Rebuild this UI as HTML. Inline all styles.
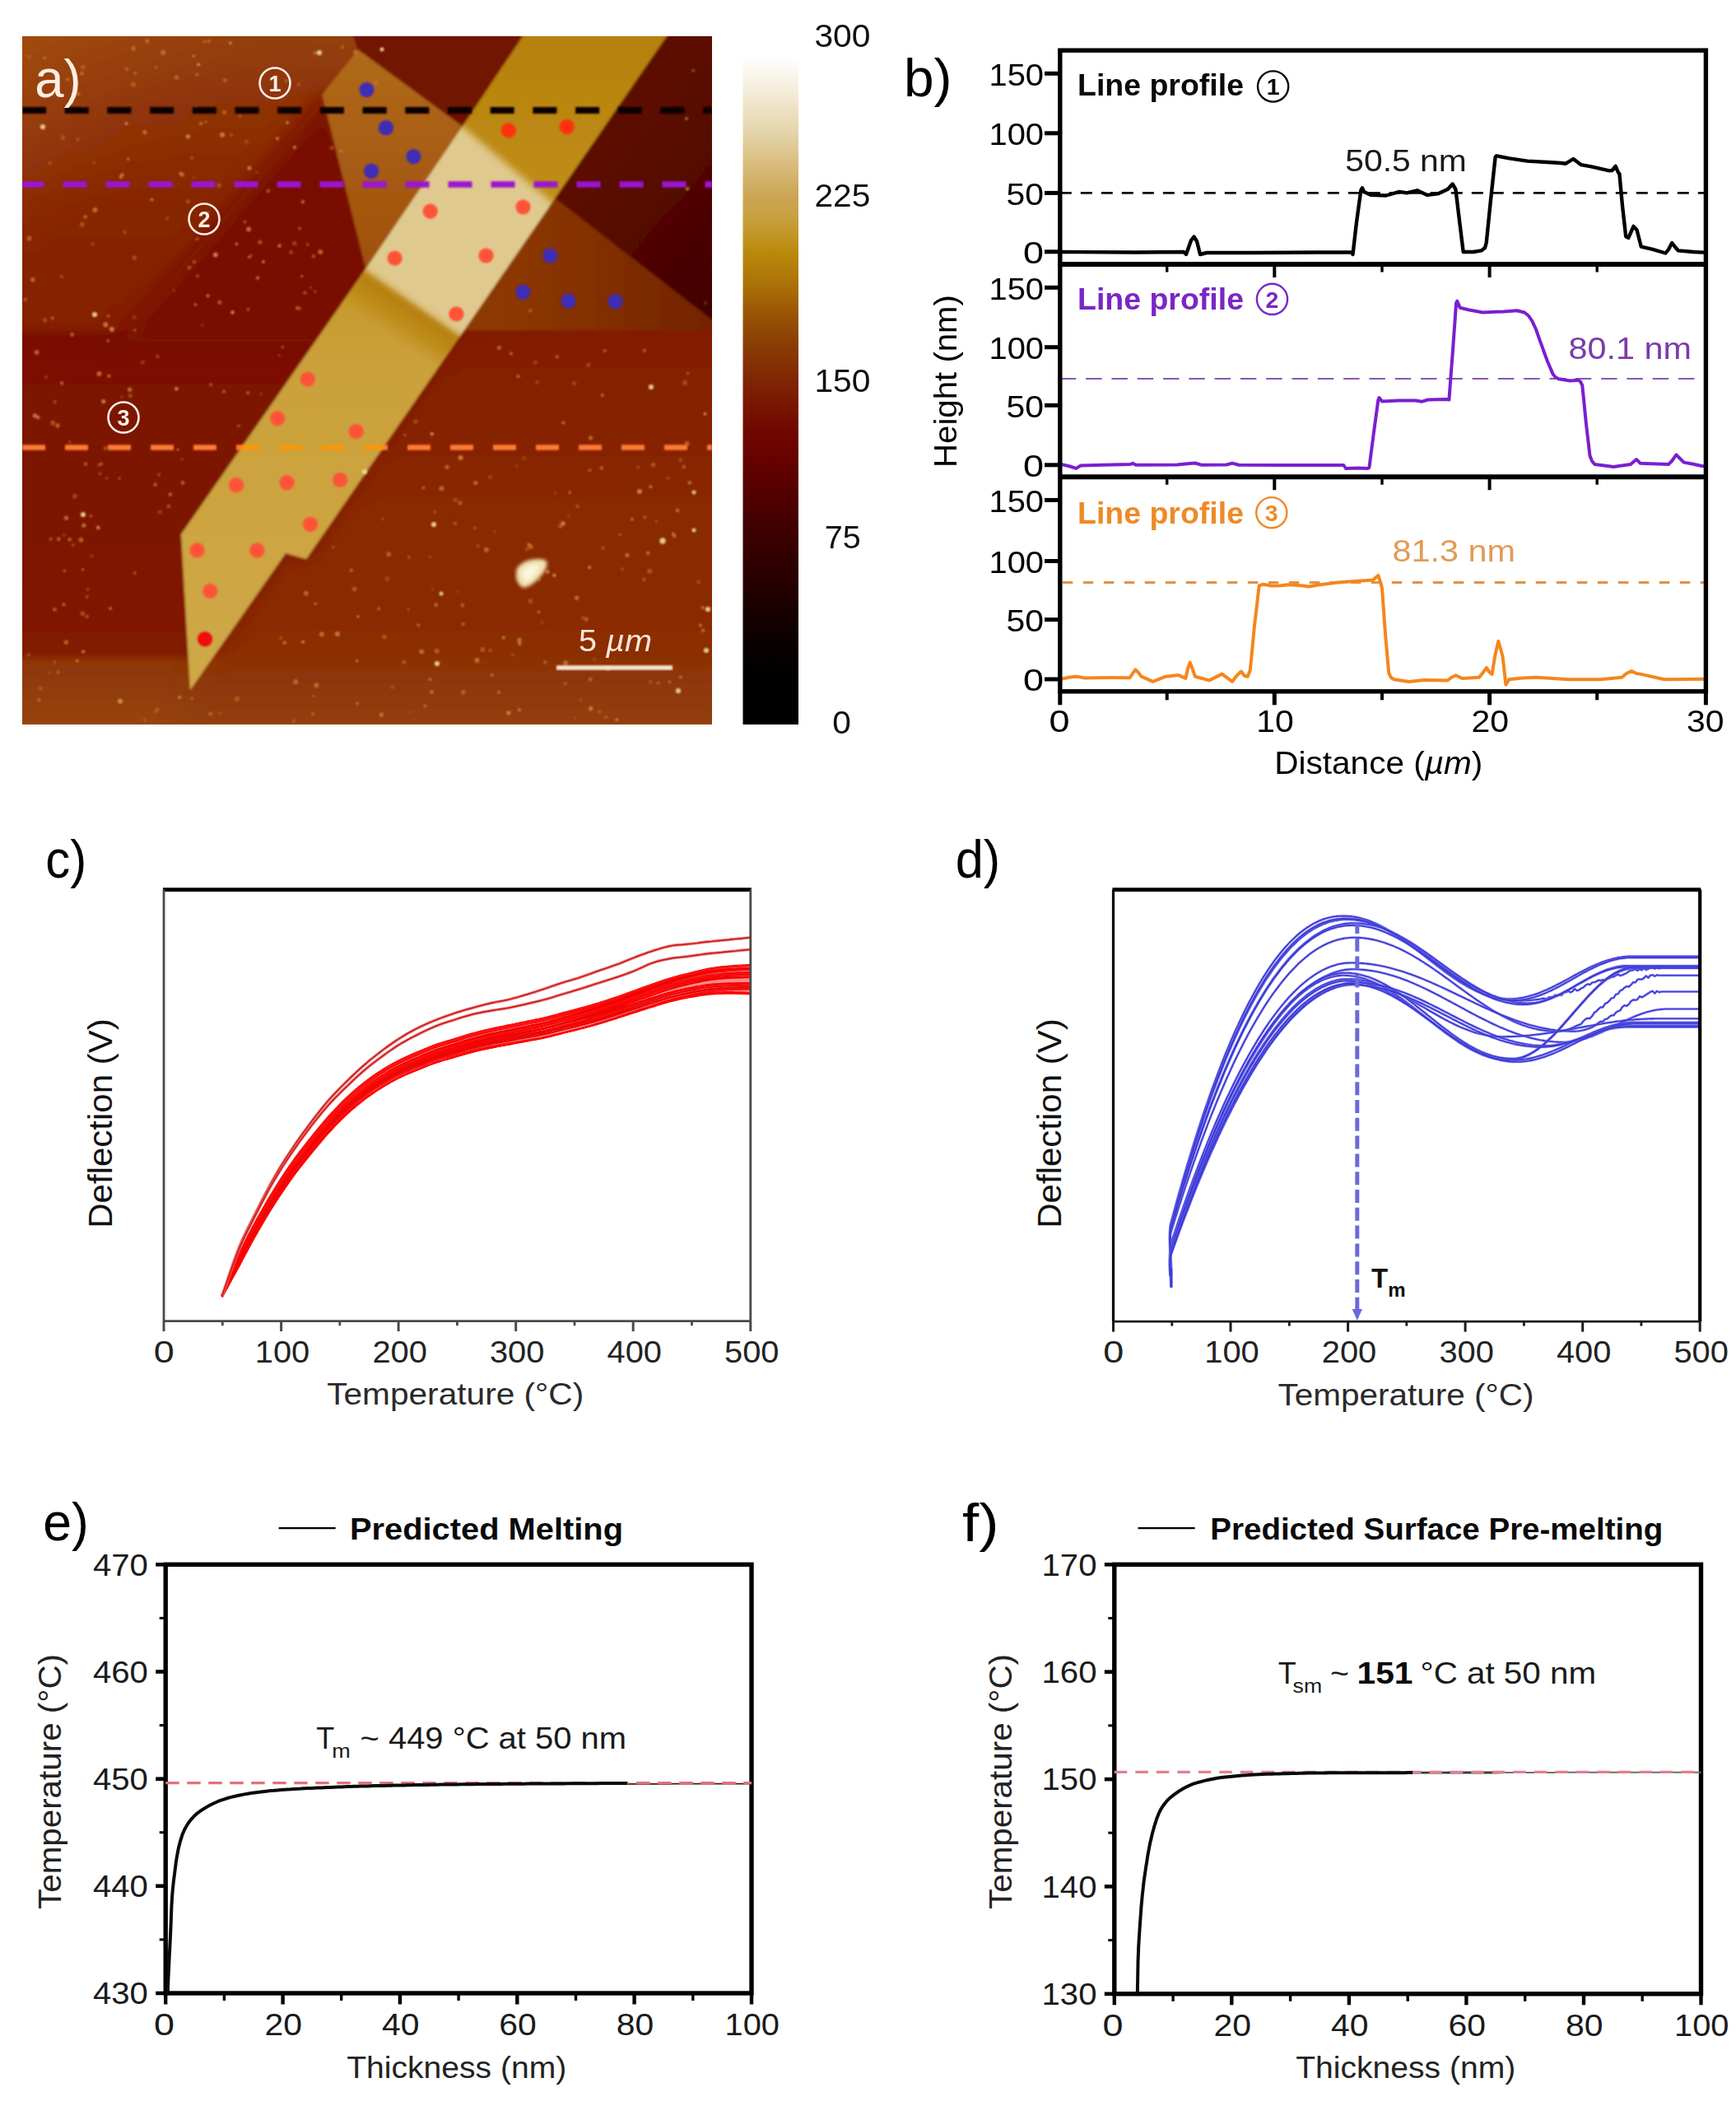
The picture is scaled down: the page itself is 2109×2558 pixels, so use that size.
<!DOCTYPE html>
<html lang="en"><head><meta charset="utf-8"><title>Figure</title>
<style>html,body{margin:0;padding:0;background:#fff}svg{display:block}</style></head>
<body>
<svg width="2109" height="2558" viewBox="0 0 2109 2558" font-family='"Liberation Sans", "DejaVu Sans", sans-serif'>
<rect x="0.0" y="0.0" width="2109.0" height="2558.0" fill="#fff"/>
<g>
<rect x="0.0" y="0.0" width="2109.0" height="2558.0" fill="#fff"/>
<defs>
<clipPath id="afmclip"><rect x="27" y="44" width="838" height="836"/></clipPath>
<filter id="blur2" x="-5%" y="-5%" width="110%" height="110%"><feGaussianBlur stdDeviation="1.6"/></filter>
<filter id="blur1"><feGaussianBlur stdDeviation="1.0"/></filter>
<filter id="blur3"><feGaussianBlur stdDeviation="2.2"/></filter>
<filter id="blurbig" x="-20%" y="-20%" width="140%" height="140%"><feGaussianBlur stdDeviation="30"/></filter>
<linearGradient id="bgv" gradientUnits="userSpaceOnUse" x1="0" y1="44.0" x2="0" y2="880.0"><stop offset="0.0000" stop-color="#94400c"/><stop offset="0.1029" stop-color="#8e3206"/><stop offset="0.2464" stop-color="#862602"/><stop offset="0.4234" stop-color="#841f00"/><stop offset="0.4354" stop-color="#7a1000"/><stop offset="0.6651" stop-color="#7c1400"/><stop offset="0.8947" stop-color="#801a00"/><stop offset="0.9091" stop-color="#8e3606"/><stop offset="1.0000" stop-color="#96440e"/></linearGradient>
<linearGradient id="bgr" gradientUnits="userSpaceOnUse" x1="0" y1="44.0" x2="0" y2="880.0"><stop offset="0.0000" stop-color="#821c00"/><stop offset="0.4270" stop-color="#841f00"/><stop offset="0.5933" stop-color="#872402"/><stop offset="0.6411" stop-color="#8a2a02"/><stop offset="0.9043" stop-color="#8c3006"/><stop offset="1.0000" stop-color="#92400c"/></linearGradient>
<filter id="blur12" filterUnits="userSpaceOnUse" x="0" y="0" width="900" height="920"><feGaussianBlur stdDeviation="12"/></filter>
<linearGradient id="ribg" x1="0" y1="0" x2="0" y2="1"><stop offset="0" stop-color="#b5800a"/><stop offset="0.25" stop-color="#c08e18"/><stop offset="0.5" stop-color="#cba03a"/><stop offset="1" stop-color="#cfa848"/></linearGradient>
<linearGradient id="thinL" x1="0" y1="0" x2="0" y2="1"><stop offset="0" stop-color="#b06a1a"/><stop offset="1" stop-color="#9a4608"/></linearGradient>
<linearGradient id="thinR" x1="0" y1="0" x2="1" y2="0"><stop offset="0" stop-color="#954406"/><stop offset="0.5" stop-color="#8a3602"/><stop offset="1" stop-color="#702000"/></linearGradient>
<linearGradient id="darkR" x1="0" y1="0" x2="1" y2="1"><stop offset="0" stop-color="#6a0c00"/><stop offset="0.6" stop-color="#560700"/><stop offset="1" stop-color="#3a0200"/></linearGradient>
<linearGradient id="cbar" x1="0" y1="0" x2="0" y2="1"><stop offset="0.0000" stop-color="#ffffff"/><stop offset="0.0263" stop-color="#ffffff"/><stop offset="0.0502" stop-color="#fbf8f0"/><stop offset="0.0957" stop-color="#f0e6cc"/><stop offset="0.1411" stop-color="#e4d4aa"/><stop offset="0.1866" stop-color="#d8bc7c"/><stop offset="0.2321" stop-color="#cba555"/><stop offset="0.2644" stop-color="#c8a040"/><stop offset="0.2943" stop-color="#c09420"/><stop offset="0.3165" stop-color="#b8880a"/><stop offset="0.3572" stop-color="#ac7408"/><stop offset="0.4014" stop-color="#9a5606"/><stop offset="0.4494" stop-color="#8a3c04"/><stop offset="0.5048" stop-color="#7e2404"/><stop offset="0.5417" stop-color="#781400"/><stop offset="0.5786" stop-color="#700600"/><stop offset="0.6156" stop-color="#640200"/><stop offset="0.6525" stop-color="#580000"/><stop offset="0.7261" stop-color="#3c0000"/><stop offset="0.8002" stop-color="#240000"/><stop offset="0.8739" stop-color="#0c0000"/><stop offset="0.9293" stop-color="#000000"/><stop offset="1.0000" stop-color="#000000"/></linearGradient>
<linearGradient id="diagTL" gradientUnits="userSpaceOnUse" x1="27" y1="44" x2="160" y2="230"><stop offset="0" stop-color="#a24c12" stop-opacity="0.9"/><stop offset="0.5" stop-color="#9a420c" stop-opacity="0.5"/><stop offset="1" stop-color="#8e3206" stop-opacity="0"/></linearGradient>
<radialGradient id="radBL" gradientUnits="userSpaceOnUse" cx="60" cy="900" r="330" gradientTransform="translate(60,900) scale(1,0.35) translate(-60,-900)"><stop offset="0" stop-color="#b0601c" stop-opacity="0.95"/><stop offset="0.6" stop-color="#a04a10" stop-opacity="0.5"/><stop offset="1" stop-color="#90380a" stop-opacity="0"/></radialGradient>
<radialGradient id="radBR" gradientUnits="userSpaceOnUse" cx="700" cy="760" r="330"><stop offset="0" stop-color="#8f3204" stop-opacity="0.6"/><stop offset="0.7" stop-color="#8f3204" stop-opacity="0.35"/><stop offset="1" stop-color="#8f3204" stop-opacity="0"/></radialGradient>
<linearGradient id="shad" gradientUnits="userSpaceOnUse" x1="500" y1="373" x2="474" y2="411"><stop offset="0" stop-color="#b47e0c" stop-opacity="0.95"/><stop offset="0.55" stop-color="#b8840e" stop-opacity="0.6"/><stop offset="1" stop-color="#c09020" stop-opacity="0"/></linearGradient>
</defs>
<g clip-path="url(#afmclip)">
<g filter="url(#blur2)">
<rect x="17.0" y="34.0" width="858.0" height="856.0" fill="url(#bgv)"/>
<rect x="17.0" y="34.0" width="858.0" height="856.0" fill="url(#diagTL)"/>
<g filter="url(#blur12)">
<polygon points="400.0,110.0 470.0,330.0 420.0,415.0 140.0,415.0 250.0,290.0" fill="#770d00" opacity="0.95"/>
<polygon points="560.0,395.0 900.0,395.0 900.0,900.0 215.0,900.0 229.0,838.0 347.0,672.0 372.0,679.0" fill="url(#bgr)" opacity="0.9"/>
</g>
<polygon points="561.8,153.8 640.0,36.0 900.0,36.0 900.0,415.0 864.7,389.0" fill="url(#darkR)" />
<polygon points="426.0,36.0 640.0,36.0 561.8,153.8 434.9,60.5" fill="#6e0e00" opacity="0.9"/>
<clipPath id="leftofrib"><polygon points="0,0 640,0 640,40 300,540 0,540"/></clipPath>
<polygon points="434.9,60.5 391.4,114.9 444.5,326.5 566.7,400.9 900.0,400.9 900.0,415.7 561.8,153.8" fill="url(#thinR)" />
<polygon points="434.9,60.5 391.4,114.9 444.5,326.5 566.7,400.9 900.0,400.9 900.0,415.7 561.8,153.8" fill="url(#thinL)" clip-path="url(#leftofrib)"/>
<polygon points="637.8,40.0 812.7,40.0 372.0,679.0 347.0,672.0 231.0,838.0 220.0,649.0 446.9,323.0 561.8,153.8" fill="url(#ribg)" />
<clipPath id="ribclip0"><polygon points="637.8,40 812.7,40 372,679 347,672 231,838 220,649 446.9,323 561.8,153.8"/></clipPath>
<polygon points="444.5,328.0 562.0,410.0 533.6,451.2 416.1,369.2" fill="url(#shad)" clip-path="url(#ribclip0)"/>
<filter id="blur5" filterUnits="userSpaceOnUse" x="380" y="100" width="360" height="380"><feGaussianBlur stdDeviation="4"/></filter>
<g clip-path="url(#ribclip0)"><g filter="url(#blur5)">
<polygon points="538.9,134.4 694.4,266.1 586.8,425.5 419.7,311.0" fill="#e0c98e" />
</g></g>
</g>
<g filter="url(#blur1)">
<circle cx="299.4" cy="172.2" r="2.6" fill="#d98a36" opacity="0.32"/>
<circle cx="334.3" cy="95.1" r="2.3" fill="#d98a36" opacity="0.40"/>
<circle cx="383.2" cy="733.3" r="1.7" fill="#d98a36" opacity="0.73"/>
<circle cx="842.2" cy="85.7" r="2.0" fill="#d98a36" opacity="0.49"/>
<circle cx="505.0" cy="512.0" r="2.6" fill="#dc9848" opacity="0.38"/>
<circle cx="82.2" cy="96.5" r="2.0" fill="#e3a860" opacity="0.52"/>
<circle cx="676.7" cy="433.4" r="2.3" fill="#dc9848" opacity="0.46"/>
<circle cx="690.9" cy="627.2" r="2.0" fill="#c87a2a" opacity="0.34"/>
<circle cx="467.0" cy="773.4" r="2.6" fill="#d98a36" opacity="0.50"/>
<circle cx="128.2" cy="394.0" r="3.0" fill="#e3a860" opacity="0.45"/>
<circle cx="380.9" cy="845.5" r="1.7" fill="#c87a2a" opacity="0.64"/>
<circle cx="313.0" cy="337.6" r="2.3" fill="#e3a860" opacity="0.56"/>
<circle cx="87.2" cy="124.7" r="2.0" fill="#d98a36" opacity="0.51"/>
<circle cx="80.5" cy="629.2" r="2.6" fill="#e3a860" opacity="0.56"/>
<circle cx="266.8" cy="367.2" r="2.6" fill="#e3a860" opacity="0.46"/>
<circle cx="644.3" cy="377.3" r="2.3" fill="#e3a860" opacity="0.34"/>
<circle cx="364.2" cy="277.6" r="2.0" fill="#c87a2a" opacity="0.67"/>
<circle cx="617.7" cy="865.8" r="2.6" fill="#dc9848" opacity="0.70"/>
<circle cx="155.6" cy="193.3" r="2.0" fill="#d98a36" opacity="0.60"/>
<circle cx="248.6" cy="50.4" r="2.3" fill="#c87a2a" opacity="0.54"/>
<circle cx="823.0" cy="620.1" r="2.3" fill="#d98a36" opacity="0.73"/>
<circle cx="409.9" cy="769.9" r="3.0" fill="#e3a860" opacity="0.61"/>
<circle cx="361.2" cy="374.1" r="2.3" fill="#d98a36" opacity="0.59"/>
<circle cx="188.6" cy="864.3" r="2.3" fill="#c87a2a" opacity="0.37"/>
<circle cx="476.5" cy="834.6" r="2.3" fill="#dc9848" opacity="0.31"/>
<circle cx="239.9" cy="335.3" r="2.0" fill="#d98a36" opacity="0.51"/>
<circle cx="736.3" cy="871.3" r="2.3" fill="#c87a2a" opacity="0.52"/>
<circle cx="101.5" cy="131.8" r="2.0" fill="#e3a860" opacity="0.63"/>
<circle cx="49.2" cy="836.3" r="2.3" fill="#d98a36" opacity="0.46"/>
<circle cx="105.7" cy="748.7" r="2.3" fill="#dc9848" opacity="0.47"/>
<circle cx="325.9" cy="231.9" r="2.3" fill="#c87a2a" opacity="0.65"/>
<circle cx="559.5" cy="556.0" r="3.0" fill="#dc9848" opacity="0.74"/>
<circle cx="700.7" cy="726.2" r="2.6" fill="#dc9848" opacity="0.66"/>
<circle cx="54.1" cy="70.2" r="2.0" fill="#dc9848" opacity="0.51"/>
<circle cx="606.2" cy="840.9" r="2.3" fill="#c87a2a" opacity="0.66"/>
<circle cx="218.7" cy="210.3" r="2.0" fill="#d98a36" opacity="0.52"/>
<circle cx="579.6" cy="802.1" r="3.0" fill="#dc9848" opacity="0.62"/>
<circle cx="817.7" cy="648.6" r="2.0" fill="#d98a36" opacity="0.75"/>
<circle cx="717.7" cy="860.7" r="2.6" fill="#dc9848" opacity="0.72"/>
<circle cx="837.8" cy="586.2" r="2.3" fill="#dc9848" opacity="0.64"/>
<circle cx="390.9" cy="770.5" r="3.0" fill="#d98a36" opacity="0.69"/>
<circle cx="239.5" cy="290.2" r="2.0" fill="#c87a2a" opacity="0.64"/>
<circle cx="245.8" cy="394.8" r="2.0" fill="#c87a2a" opacity="0.33"/>
<circle cx="776.9" cy="596.9" r="3.0" fill="#e3a860" opacity="0.71"/>
<circle cx="718.2" cy="775.9" r="2.0" fill="#d98a36" opacity="0.54"/>
<circle cx="756.2" cy="691.5" r="2.3" fill="#dc9848" opacity="0.30"/>
<circle cx="173.4" cy="440.0" r="2.6" fill="#d98a36" opacity="0.35"/>
<circle cx="301.2" cy="477.2" r="2.3" fill="#d98a36" opacity="0.52"/>
<circle cx="189.2" cy="82.0" r="1.7" fill="#d98a36" opacity="0.53"/>
<circle cx="662.3" cy="804.4" r="2.3" fill="#dc9848" opacity="0.45"/>
<circle cx="606.4" cy="422.4" r="2.3" fill="#dc9848" opacity="0.66"/>
<circle cx="611.7" cy="774.5" r="2.0" fill="#dc9848" opacity="0.72"/>
<circle cx="131.2" cy="414.0" r="1.7" fill="#e3a860" opacity="0.60"/>
<circle cx="90.8" cy="602.7" r="3.0" fill="#dc9848" opacity="0.36"/>
<circle cx="811.7" cy="581.1" r="2.0" fill="#dc9848" opacity="0.36"/>
<circle cx="835.0" cy="229.3" r="2.3" fill="#dc9848" opacity="0.70"/>
<circle cx="853.6" cy="737.9" r="2.0" fill="#e3a860" opacity="0.62"/>
<circle cx="312.1" cy="209.5" r="2.0" fill="#c87a2a" opacity="0.34"/>
<circle cx="46.2" cy="506.9" r="2.3" fill="#e3a860" opacity="0.62"/>
<circle cx="456.2" cy="100.4" r="3.0" fill="#d98a36" opacity="0.40"/>
<circle cx="99.9" cy="272.7" r="3.0" fill="#dc9848" opacity="0.38"/>
<circle cx="712.1" cy="752.2" r="2.6" fill="#c87a2a" opacity="0.67"/>
<circle cx="302.1" cy="278.6" r="3.0" fill="#e3a860" opacity="0.61"/>
<circle cx="103.7" cy="263.3" r="2.3" fill="#d98a36" opacity="0.69"/>
<circle cx="250.0" cy="148.0" r="1.7" fill="#e3a860" opacity="0.45"/>
<circle cx="164.3" cy="88.8" r="2.0" fill="#c87a2a" opacity="0.72"/>
<circle cx="698.7" cy="872.4" r="1.7" fill="#dc9848" opacity="0.31"/>
<circle cx="577.7" cy="586.6" r="2.6" fill="#e3a860" opacity="0.52"/>
<circle cx="221.0" cy="211.9" r="2.6" fill="#dc9848" opacity="0.63"/>
<circle cx="366.7" cy="335.5" r="1.7" fill="#d98a36" opacity="0.68"/>
<circle cx="88.8" cy="661.9" r="2.0" fill="#d98a36" opacity="0.49"/>
<circle cx="100.3" cy="745.3" r="3.0" fill="#c87a2a" opacity="0.53"/>
<circle cx="528.2" cy="621.9" r="1.7" fill="#dc9848" opacity="0.51"/>
<circle cx="253.8" cy="50.0" r="2.0" fill="#c87a2a" opacity="0.73"/>
<circle cx="233.4" cy="848.5" r="2.0" fill="#dc9848" opacity="0.40"/>
<circle cx="30.9" cy="363.8" r="2.3" fill="#dc9848" opacity="0.43"/>
<circle cx="105.6" cy="725.1" r="2.0" fill="#d98a36" opacity="0.48"/>
<circle cx="357.8" cy="295.7" r="2.6" fill="#dc9848" opacity="0.40"/>
<circle cx="577.1" cy="641.3" r="2.3" fill="#c87a2a" opacity="0.48"/>
<circle cx="629.6" cy="457.2" r="2.0" fill="#dc9848" opacity="0.63"/>
<circle cx="66.4" cy="740.3" r="2.3" fill="#dc9848" opacity="0.58"/>
<circle cx="787.0" cy="671.9" r="2.3" fill="#d98a36" opacity="0.68"/>
<circle cx="717.6" cy="531.8" r="2.6" fill="#dc9848" opacity="0.61"/>
<circle cx="100.8" cy="81.7" r="2.6" fill="#d98a36" opacity="0.46"/>
<circle cx="343.3" cy="421.7" r="1.7" fill="#dc9848" opacity="0.58"/>
<circle cx="652.6" cy="464.5" r="2.3" fill="#d98a36" opacity="0.34"/>
<circle cx="650.4" cy="440.3" r="3.0" fill="#c87a2a" opacity="0.33"/>
<circle cx="222.0" cy="586.4" r="2.3" fill="#e3a860" opacity="0.52"/>
<circle cx="93.8" cy="802.7" r="2.0" fill="#dc9848" opacity="0.65"/>
<circle cx="94.5" cy="169.4" r="2.0" fill="#c87a2a" opacity="0.59"/>
<circle cx="434.2" cy="854.2" r="1.7" fill="#e3a860" opacity="0.61"/>
<circle cx="272.0" cy="475.7" r="2.3" fill="#d98a36" opacity="0.51"/>
<circle cx="856.4" cy="502.7" r="2.0" fill="#e3a860" opacity="0.74"/>
<circle cx="44.6" cy="427.9" r="3.0" fill="#e3a860" opacity="0.53"/>
<circle cx="857.0" cy="368.1" r="2.0" fill="#d98a36" opacity="0.33"/>
<circle cx="147.9" cy="482.0" r="2.0" fill="#c87a2a" opacity="0.36"/>
<circle cx="767.9" cy="630.8" r="2.0" fill="#e3a860" opacity="0.52"/>
<circle cx="357.9" cy="179.0" r="2.3" fill="#e3a860" opacity="0.61"/>
<circle cx="281.2" cy="163.8" r="2.0" fill="#d98a36" opacity="0.47"/>
<circle cx="654.6" cy="743.5" r="1.7" fill="#dc9848" opacity="0.72"/>
<circle cx="623.2" cy="795.3" r="2.0" fill="#d98a36" opacity="0.41"/>
<circle cx="356.9" cy="876.0" r="2.3" fill="#e3a860" opacity="0.33"/>
<circle cx="658.7" cy="756.0" r="2.0" fill="#c87a2a" opacity="0.35"/>
<circle cx="673.3" cy="698.7" r="2.3" fill="#e3a860" opacity="0.70"/>
<circle cx="790.0" cy="827.8" r="2.3" fill="#d98a36" opacity="0.39"/>
<circle cx="71.2" cy="654.9" r="2.3" fill="#dc9848" opacity="0.58"/>
<circle cx="70.7" cy="816.2" r="2.0" fill="#e3a860" opacity="0.38"/>
<circle cx="315.9" cy="294.2" r="2.6" fill="#c87a2a" opacity="0.63"/>
<circle cx="368.0" cy="245.1" r="2.3" fill="#e3a860" opacity="0.55"/>
<circle cx="129.6" cy="580.9" r="1.7" fill="#e3a860" opacity="0.39"/>
<circle cx="233.1" cy="192.0" r="2.3" fill="#dc9848" opacity="0.34"/>
<circle cx="198.2" cy="63.7" r="3.0" fill="#e3a860" opacity="0.49"/>
<circle cx="470.3" cy="703.0" r="3.0" fill="#c87a2a" opacity="0.40"/>
<circle cx="389.3" cy="306.0" r="3.0" fill="#d98a36" opacity="0.69"/>
<circle cx="135.9" cy="399.9" r="3.0" fill="#e3a860" opacity="0.70"/>
<circle cx="835.6" cy="453.6" r="1.7" fill="#e3a860" opacity="0.48"/>
<circle cx="158.4" cy="480.6" r="2.6" fill="#e3a860" opacity="0.35"/>
<circle cx="100.7" cy="691.8" r="1.7" fill="#dc9848" opacity="0.65"/>
<circle cx="830.7" cy="567.0" r="2.3" fill="#d98a36" opacity="0.59"/>
<circle cx="112.7" cy="296.3" r="2.3" fill="#c87a2a" opacity="0.39"/>
<circle cx="216.0" cy="545.9" r="1.7" fill="#e3a860" opacity="0.54"/>
<circle cx="261.8" cy="309.6" r="3.0" fill="#e3a860" opacity="0.70"/>
<circle cx="54.4" cy="388.8" r="2.6" fill="#d98a36" opacity="0.44"/>
<circle cx="383.0" cy="354.3" r="2.3" fill="#c87a2a" opacity="0.32"/>
<circle cx="35.6" cy="289.5" r="3.0" fill="#dc9848" opacity="0.53"/>
<circle cx="191.4" cy="433.0" r="2.0" fill="#c87a2a" opacity="0.64"/>
<circle cx="120.7" cy="564.6" r="2.3" fill="#dc9848" opacity="0.38"/>
<circle cx="433.6" cy="802.6" r="1.7" fill="#dc9848" opacity="0.73"/>
<circle cx="291.4" cy="141.0" r="1.7" fill="#c87a2a" opacity="0.72"/>
<circle cx="188.6" cy="588.5" r="2.3" fill="#d98a36" opacity="0.64"/>
<circle cx="728.2" cy="864.5" r="2.3" fill="#d98a36" opacity="0.38"/>
<circle cx="95.1" cy="114.0" r="2.3" fill="#d98a36" opacity="0.73"/>
<circle cx="496.9" cy="676.8" r="2.3" fill="#c87a2a" opacity="0.46"/>
<circle cx="371.8" cy="720.8" r="3.0" fill="#e3a860" opacity="0.48"/>
<circle cx="59.0" cy="98.9" r="1.7" fill="#d98a36" opacity="0.42"/>
<circle cx="826.8" cy="559.1" r="2.0" fill="#c87a2a" opacity="0.64"/>
<circle cx="525.5" cy="715.7" r="1.7" fill="#dc9848" opacity="0.31"/>
<circle cx="119.2" cy="640.9" r="2.3" fill="#e3a860" opacity="0.73"/>
<circle cx="687.1" cy="805.2" r="3.0" fill="#e3a860" opacity="0.52"/>
<circle cx="644.4" cy="729.9" r="3.0" fill="#dc9848" opacity="0.37"/>
<circle cx="302.7" cy="312.2" r="2.0" fill="#d98a36" opacity="0.65"/>
<circle cx="163.1" cy="385.4" r="2.6" fill="#c87a2a" opacity="0.32"/>
<circle cx="163.7" cy="401.0" r="1.7" fill="#c87a2a" opacity="0.74"/>
<circle cx="380.3" cy="867.4" r="2.3" fill="#dc9848" opacity="0.38"/>
<circle cx="590.9" cy="667.8" r="3.0" fill="#d98a36" opacity="0.65"/>
<circle cx="252.7" cy="257.9" r="2.0" fill="#dc9848" opacity="0.39"/>
<circle cx="184.5" cy="242.5" r="2.0" fill="#dc9848" opacity="0.70"/>
<circle cx="301.5" cy="375.7" r="2.0" fill="#dc9848" opacity="0.53"/>
<circle cx="341.1" cy="774.8" r="2.0" fill="#dc9848" opacity="0.35"/>
<circle cx="529.6" cy="734.2" r="2.0" fill="#c87a2a" opacity="0.72"/>
<circle cx="674.8" cy="598.7" r="1.7" fill="#c87a2a" opacity="0.35"/>
<circle cx="211.1" cy="353.0" r="2.0" fill="#c87a2a" opacity="0.32"/>
<circle cx="61.8" cy="654.7" r="2.0" fill="#c87a2a" opacity="0.67"/>
<circle cx="370.3" cy="355.6" r="2.3" fill="#dc9848" opacity="0.44"/>
<circle cx="56.2" cy="458.4" r="2.3" fill="#d98a36" opacity="0.33"/>
<circle cx="692.1" cy="598.1" r="2.0" fill="#d98a36" opacity="0.59"/>
<circle cx="255.6" cy="867.2" r="2.6" fill="#d98a36" opacity="0.44"/>
<circle cx="289.9" cy="517.2" r="2.0" fill="#d98a36" opacity="0.49"/>
<circle cx="749.1" cy="874.2" r="2.0" fill="#e3a860" opacity="0.59"/>
<circle cx="34.9" cy="795.4" r="2.3" fill="#d98a36" opacity="0.35"/>
<circle cx="368.0" cy="779.8" r="2.3" fill="#dc9848" opacity="0.65"/>
<circle cx="42.3" cy="504.8" r="2.6" fill="#e3a860" opacity="0.66"/>
<circle cx="104.1" cy="563.4" r="2.0" fill="#dc9848" opacity="0.63"/>
<circle cx="151.4" cy="282.1" r="2.3" fill="#d98a36" opacity="0.38"/>
<circle cx="120.5" cy="454.1" r="3.0" fill="#dc9848" opacity="0.66"/>
<circle cx="66.2" cy="804.6" r="2.0" fill="#e3a860" opacity="0.32"/>
<circle cx="101.8" cy="638.2" r="2.6" fill="#dc9848" opacity="0.67"/>
<circle cx="562.7" cy="758.0" r="2.3" fill="#dc9848" opacity="0.48"/>
<circle cx="349.1" cy="149.1" r="2.0" fill="#dc9848" opacity="0.74"/>
<circle cx="64.2" cy="513.7" r="3.0" fill="#c87a2a" opacity="0.60"/>
<circle cx="128.0" cy="544.6" r="2.3" fill="#c87a2a" opacity="0.68"/>
<circle cx="237.4" cy="370.0" r="2.0" fill="#e3a860" opacity="0.50"/>
<circle cx="178.7" cy="49.9" r="2.3" fill="#e3a860" opacity="0.51"/>
<circle cx="665.3" cy="694.4" r="2.3" fill="#e3a860" opacity="0.68"/>
<circle cx="363.1" cy="102.7" r="2.0" fill="#d98a36" opacity="0.49"/>
<circle cx="697.5" cy="465.6" r="2.6" fill="#dc9848" opacity="0.32"/>
<circle cx="98.4" cy="655.8" r="3.0" fill="#d98a36" opacity="0.62"/>
<circle cx="75.1" cy="465.3" r="2.3" fill="#dc9848" opacity="0.59"/>
<circle cx="51.5" cy="102.1" r="2.3" fill="#d98a36" opacity="0.63"/>
<circle cx="191.2" cy="861.8" r="2.3" fill="#dc9848" opacity="0.43"/>
<circle cx="600.9" cy="645.5" r="2.0" fill="#c87a2a" opacity="0.33"/>
<circle cx="783.0" cy="425.8" r="2.0" fill="#e3a860" opacity="0.53"/>
<circle cx="203.3" cy="265.2" r="2.3" fill="#c87a2a" opacity="0.41"/>
<circle cx="60.6" cy="198.1" r="2.0" fill="#c87a2a" opacity="0.59"/>
<circle cx="595.5" cy="790.2" r="2.0" fill="#c87a2a" opacity="0.66"/>
<circle cx="125.7" cy="487.5" r="2.6" fill="#e3a860" opacity="0.69"/>
<circle cx="491.9" cy="528.4" r="1.7" fill="#e3a860" opacity="0.41"/>
<circle cx="337.0" cy="168.3" r="2.0" fill="#e3a860" opacity="0.64"/>
<circle cx="221.4" cy="557.8" r="1.7" fill="#c87a2a" opacity="0.43"/>
<circle cx="288.0" cy="848.7" r="3.0" fill="#c87a2a" opacity="0.56"/>
<circle cx="639.9" cy="667.1" r="2.0" fill="#e3a860" opacity="0.37"/>
<circle cx="377.5" cy="349.2" r="1.7" fill="#dc9848" opacity="0.36"/>
<circle cx="373.8" cy="297.0" r="2.0" fill="#e3a860" opacity="0.39"/>
<circle cx="162.0" cy="58.7" r="3.0" fill="#dc9848" opacity="0.41"/>
<circle cx="705.2" cy="849.7" r="1.7" fill="#c87a2a" opacity="0.59"/>
<circle cx="524.8" cy="527.1" r="2.3" fill="#e3a860" opacity="0.72"/>
<circle cx="66.6" cy="488.2" r="2.3" fill="#dc9848" opacity="0.38"/>
<circle cx="78.6" cy="693.5" r="1.7" fill="#dc9848" opacity="0.58"/>
<circle cx="148.4" cy="212.6" r="2.3" fill="#e3a860" opacity="0.59"/>
<circle cx="287.4" cy="296.2" r="1.7" fill="#e3a860" opacity="0.75"/>
<circle cx="732.6" cy="665.5" r="2.3" fill="#e3a860" opacity="0.34"/>
<circle cx="175.9" cy="874.2" r="2.0" fill="#d98a36" opacity="0.40"/>
<circle cx="799.7" cy="829.6" r="2.0" fill="#c87a2a" opacity="0.62"/>
<circle cx="559.0" cy="610.8" r="2.6" fill="#c87a2a" opacity="0.65"/>
<circle cx="738.8" cy="812.0" r="2.6" fill="#e3a860" opacity="0.68"/>
<circle cx="35.3" cy="69.0" r="2.6" fill="#c87a2a" opacity="0.41"/>
<circle cx="123.1" cy="563.2" r="2.0" fill="#dc9848" opacity="0.46"/>
<circle cx="145.2" cy="581.1" r="1.7" fill="#d98a36" opacity="0.61"/>
<circle cx="84.7" cy="537.1" r="2.0" fill="#d98a36" opacity="0.39"/>
<circle cx="761.9" cy="674.3" r="2.6" fill="#d98a36" opacity="0.72"/>
<circle cx="235.2" cy="215.6" r="1.7" fill="#d98a36" opacity="0.32"/>
<circle cx="716.5" cy="571.2" r="2.0" fill="#dc9848" opacity="0.51"/>
<circle cx="111.4" cy="675.6" r="2.0" fill="#c87a2a" opacity="0.43"/>
<circle cx="382.6" cy="64.4" r="2.0" fill="#d98a36" opacity="0.72"/>
<circle cx="832.0" cy="465.1" r="3.0" fill="#d98a36" opacity="0.43"/>
<circle cx="70.0" cy="516.9" r="2.6" fill="#d98a36" opacity="0.69"/>
<circle cx="74.9" cy="335.7" r="1.7" fill="#dc9848" opacity="0.52"/>
<circle cx="834.7" cy="538.8" r="3.0" fill="#dc9848" opacity="0.53"/>
<circle cx="266.1" cy="225.2" r="2.6" fill="#dc9848" opacity="0.40"/>
<circle cx="121.5" cy="575.3" r="1.7" fill="#d98a36" opacity="0.52"/>
<circle cx="363.9" cy="374.5" r="2.6" fill="#d98a36" opacity="0.34"/>
<circle cx="339.5" cy="298.6" r="2.3" fill="#dc9848" opacity="0.71"/>
<circle cx="345.6" cy="780.7" r="2.0" fill="#dc9848" opacity="0.72"/>
<circle cx="472.2" cy="673.2" r="3.0" fill="#d98a36" opacity="0.57"/>
<circle cx="319.9" cy="318.1" r="2.0" fill="#e3a860" opacity="0.69"/>
<circle cx="580.9" cy="662.8" r="2.0" fill="#c87a2a" opacity="0.51"/>
<circle cx="236.0" cy="318.0" r="2.3" fill="#dc9848" opacity="0.46"/>
<circle cx="303.0" cy="204.1" r="2.6" fill="#dc9848" opacity="0.75"/>
<circle cx="848.5" cy="706.8" r="2.6" fill="#c87a2a" opacity="0.43"/>
<circle cx="193.2" cy="576.5" r="1.7" fill="#e3a860" opacity="0.43"/>
<circle cx="416.0" cy="57.5" r="2.3" fill="#c87a2a" opacity="0.61"/>
<circle cx="630.9" cy="777.5" r="3.0" fill="#dc9848" opacity="0.59"/>
<circle cx="595.4" cy="579.5" r="2.3" fill="#c87a2a" opacity="0.49"/>
<circle cx="680.9" cy="638.9" r="2.6" fill="#e3a860" opacity="0.37"/>
<circle cx="431.6" cy="63.3" r="2.3" fill="#dc9848" opacity="0.60"/>
<circle cx="722.1" cy="800.8" r="1.7" fill="#dc9848" opacity="0.32"/>
<circle cx="163.8" cy="695.9" r="2.0" fill="#d98a36" opacity="0.53"/>
<circle cx="734.8" cy="426.1" r="2.0" fill="#d98a36" opacity="0.62"/>
<circle cx="561.9" cy="735.1" r="2.3" fill="#e3a860" opacity="0.45"/>
<circle cx="204.8" cy="615.0" r="2.3" fill="#d98a36" opacity="0.53"/>
<circle cx="636.6" cy="556.6" r="2.6" fill="#c87a2a" opacity="0.33"/>
<circle cx="347.7" cy="98.0" r="1.7" fill="#e3a860" opacity="0.49"/>
<circle cx="553.0" cy="607.2" r="2.3" fill="#dc9848" opacity="0.42"/>
<circle cx="282.5" cy="379.4" r="2.3" fill="#e3a860" opacity="0.74"/>
<circle cx="414.5" cy="183.6" r="1.7" fill="#dc9848" opacity="0.66"/>
<circle cx="218.0" cy="847.0" r="2.0" fill="#e3a860" opacity="0.60"/>
<circle cx="134.1" cy="739.0" r="2.0" fill="#dc9848" opacity="0.65"/>
<circle cx="252.5" cy="359.2" r="2.0" fill="#dc9848" opacity="0.74"/>
<circle cx="430.7" cy="715.5" r="3.0" fill="#dc9848" opacity="0.43"/>
<circle cx="101.1" cy="791.5" r="2.0" fill="#e3a860" opacity="0.72"/>
<circle cx="77.5" cy="734.2" r="2.0" fill="#dc9848" opacity="0.65"/>
<circle cx="514.6" cy="592.6" r="2.0" fill="#c87a2a" opacity="0.73"/>
<circle cx="238.0" cy="131.3" r="2.0" fill="#dc9848" opacity="0.68"/>
<circle cx="782.2" cy="704.1" r="2.0" fill="#d98a36" opacity="0.57"/>
<circle cx="586.2" cy="788.9" r="3.0" fill="#c87a2a" opacity="0.59"/>
<circle cx="194.2" cy="622.0" r="2.3" fill="#e3a860" opacity="0.34"/>
<circle cx="128.5" cy="394.8" r="3.0" fill="#e3a860" opacity="0.36"/>
<circle cx="783.3" cy="628.3" r="2.0" fill="#d98a36" opacity="0.52"/>
<circle cx="163.4" cy="313.2" r="2.6" fill="#c87a2a" opacity="0.55"/>
<circle cx="597.9" cy="820.1" r="2.0" fill="#d98a36" opacity="0.66"/>
<circle cx="627.5" cy="566.0" r="2.0" fill="#c87a2a" opacity="0.34"/>
<circle cx="491.0" cy="804.2" r="2.0" fill="#e3a860" opacity="0.50"/>
<circle cx="239.3" cy="90.8" r="2.0" fill="#e3a860" opacity="0.43"/>
<circle cx="256.1" cy="467.3" r="2.0" fill="#d98a36" opacity="0.59"/>
<circle cx="305.3" cy="310.2" r="2.0" fill="#d98a36" opacity="0.36"/>
<circle cx="631.3" cy="782.0" r="2.3" fill="#e3a860" opacity="0.56"/>
<circle cx="279.9" cy="52.2" r="2.0" fill="#e3a860" opacity="0.67"/>
<circle cx="536.4" cy="593.2" r="3.0" fill="#e3a860" opacity="0.53"/>
<circle cx="543.1" cy="567.3" r="2.6" fill="#d98a36" opacity="0.61"/>
<circle cx="206.8" cy="600.6" r="2.3" fill="#dc9848" opacity="0.58"/>
<circle cx="114.3" cy="197.5" r="1.7" fill="#d98a36" opacity="0.49"/>
<circle cx="790.5" cy="591.2" r="2.0" fill="#dc9848" opacity="0.69"/>
<circle cx="684.4" cy="513.5" r="2.0" fill="#dc9848" opacity="0.69"/>
<circle cx="380.9" cy="311.3" r="2.3" fill="#d98a36" opacity="0.55"/>
<circle cx="716.2" cy="689.2" r="2.3" fill="#e3a860" opacity="0.56"/>
<circle cx="522.5" cy="825.3" r="2.0" fill="#e3a860" opacity="0.51"/>
<circle cx="775.3" cy="567.3" r="2.3" fill="#d98a36" opacity="0.30"/>
<circle cx="850.9" cy="759.5" r="2.0" fill="#dc9848" opacity="0.69"/>
<circle cx="405.0" cy="664.7" r="1.7" fill="#dc9848" opacity="0.46"/>
<circle cx="553.0" cy="635.7" r="2.3" fill="#c87a2a" opacity="0.60"/>
<circle cx="80.4" cy="780.2" r="2.6" fill="#d98a36" opacity="0.67"/>
<circle cx="353.6" cy="306.4" r="2.3" fill="#e3a860" opacity="0.37"/>
<circle cx="819.4" cy="651.0" r="2.3" fill="#dc9848" opacity="0.60"/>
<circle cx="834.0" cy="143.9" r="2.0" fill="#e3a860" opacity="0.58"/>
<circle cx="426.8" cy="692.8" r="2.3" fill="#c87a2a" opacity="0.73"/>
<circle cx="273.3" cy="97.3" r="2.6" fill="#c87a2a" opacity="0.62"/>
<circle cx="753.5" cy="649.3" r="1.7" fill="#c87a2a" opacity="0.67"/>
<circle cx="516.4" cy="857.4" r="2.0" fill="#e3a860" opacity="0.47"/>
<circle cx="530.7" cy="790.8" r="3.0" fill="#d98a36" opacity="0.50"/>
<circle cx="297.5" cy="269.5" r="2.0" fill="#d98a36" opacity="0.56"/>
<circle cx="270.0" cy="163.8" r="3.0" fill="#dc9848" opacity="0.75"/>
<circle cx="701.5" cy="615.3" r="2.3" fill="#d98a36" opacity="0.46"/>
<circle cx="630.9" cy="862.3" r="2.0" fill="#e3a860" opacity="0.57"/>
<circle cx="654.9" cy="704.1" r="2.3" fill="#c87a2a" opacity="0.54"/>
<circle cx="512.2" cy="791.5" r="3.0" fill="#e3a860" opacity="0.53"/>
<circle cx="106.7" cy="715.9" r="2.0" fill="#c87a2a" opacity="0.46"/>
<circle cx="154.0" cy="84.0" r="2.3" fill="#d98a36" opacity="0.47"/>
<circle cx="339.2" cy="431.7" r="1.7" fill="#d98a36" opacity="0.37"/>
<circle cx="317.0" cy="478.1" r="1.7" fill="#dc9848" opacity="0.34"/>
<circle cx="854.0" cy="765.8" r="2.3" fill="#dc9848" opacity="0.56"/>
<circle cx="384.4" cy="832.6" r="3.0" fill="#dc9848" opacity="0.57"/>
<circle cx="241.3" cy="78.4" r="2.0" fill="#e3a860" opacity="0.75"/>
<circle cx="99.6" cy="89.3" r="2.3" fill="#e3a860" opacity="0.47"/>
<circle cx="435.0" cy="748.9" r="1.7" fill="#e3a860" opacity="0.69"/>
<circle cx="797.2" cy="633.3" r="1.7" fill="#dc9848" opacity="0.42"/>
<circle cx="563.0" cy="840.8" r="2.6" fill="#dc9848" opacity="0.53"/>
<circle cx="403.0" cy="179.6" r="2.6" fill="#d98a36" opacity="0.40"/>
<circle cx="813.5" cy="828.2" r="1.7" fill="#d98a36" opacity="0.71"/>
<circle cx="684.3" cy="636.0" r="2.6" fill="#e3a860" opacity="0.64"/>
<circle cx="76.4" cy="167.2" r="3.0" fill="#dc9848" opacity="0.30"/>
<circle cx="522.1" cy="676.1" r="1.7" fill="#c87a2a" opacity="0.51"/>
<circle cx="243.8" cy="150.0" r="2.3" fill="#e3a860" opacity="0.47"/>
<circle cx="228.4" cy="165.8" r="2.6" fill="#e3a860" opacity="0.70"/>
<circle cx="60.0" cy="817.0" r="2.0" fill="#c87a2a" opacity="0.34"/>
<circle cx="730.8" cy="568.5" r="2.3" fill="#c87a2a" opacity="0.74"/>
<circle cx="714.8" cy="443.4" r="2.6" fill="#c87a2a" opacity="0.46"/>
<circle cx="214.4" cy="94.1" r="2.6" fill="#dc9848" opacity="0.50"/>
<circle cx="235.3" cy="68.1" r="2.3" fill="#c87a2a" opacity="0.68"/>
<circle cx="157.6" cy="473.2" r="2.6" fill="#dc9848" opacity="0.70"/>
<circle cx="495.9" cy="740.3" r="1.7" fill="#dc9848" opacity="0.42"/>
<circle cx="228.6" cy="244.7" r="2.3" fill="#dc9848" opacity="0.43"/>
<circle cx="77.8" cy="650.0" r="2.0" fill="#d98a36" opacity="0.36"/>
<circle cx="686.9" cy="830.2" r="2.0" fill="#e3a860" opacity="0.38"/>
<circle cx="63.7" cy="386.4" r="2.0" fill="#dc9848" opacity="0.56"/>
<circle cx="731.7" cy="480.0" r="2.0" fill="#dc9848" opacity="0.62"/>
<circle cx="529.7" cy="735.0" r="2.3" fill="#c87a2a" opacity="0.63"/>
<circle cx="175.9" cy="160.7" r="2.6" fill="#dc9848" opacity="0.62"/>
<circle cx="84.7" cy="655.2" r="2.3" fill="#d98a36" opacity="0.68"/>
<circle cx="498.5" cy="865.1" r="1.7" fill="#c87a2a" opacity="0.37"/>
<circle cx="508.3" cy="759.2" r="2.0" fill="#e3a860" opacity="0.53"/>
<circle cx="789.2" cy="693.7" r="3.0" fill="#d98a36" opacity="0.47"/>
<circle cx="272.6" cy="136.4" r="2.6" fill="#d98a36" opacity="0.52"/>
<circle cx="47.2" cy="850.0" r="2.0" fill="#dc9848" opacity="0.58"/>
<circle cx="115.4" cy="254.9" r="3.0" fill="#d98a36" opacity="0.73"/>
<circle cx="110.3" cy="627.1" r="2.0" fill="#e3a860" opacity="0.42"/>
<circle cx="465.1" cy="630.2" r="1.7" fill="#d98a36" opacity="0.46"/>
<circle cx="132.4" cy="456.7" r="2.3" fill="#d98a36" opacity="0.64"/>
<circle cx="131.5" cy="383.7" r="2.0" fill="#dc9848" opacity="0.54"/>
<circle cx="717.2" cy="825.2" r="2.3" fill="#d98a36" opacity="0.61"/>
<circle cx="359.2" cy="828.3" r="3.0" fill="#e3a860" opacity="0.46"/>
<circle cx="230.0" cy="325.1" r="2.3" fill="#c87a2a" opacity="0.68"/>
<circle cx="708.1" cy="750.5" r="1.7" fill="#dc9848" opacity="0.45"/>
<circle cx="826.9" cy="822.5" r="2.0" fill="#d98a36" opacity="0.69"/>
<circle cx="87.6" cy="406.4" r="2.3" fill="#dc9848" opacity="0.60"/>
<circle cx="146.0" cy="851.8" r="3.0" fill="#e3a860" opacity="0.75"/>
<circle cx="556.8" cy="718.7" r="1.7" fill="#c87a2a" opacity="0.32"/>
<circle cx="793.7" cy="564.5" r="2.6" fill="#d98a36" opacity="0.54"/>
<circle cx="524.4" cy="840.6" r="2.3" fill="#d98a36" opacity="0.71"/>
<circle cx="153.5" cy="149.9" r="2.0" fill="#e3a860" opacity="0.70"/>
<circle cx="642.3" cy="661.5" r="2.0" fill="#dc9848" opacity="0.68"/>
<circle cx="621.0" cy="429.5" r="2.3" fill="#e3a860" opacity="0.44"/>
<circle cx="214.4" cy="472.3" r="2.3" fill="#e3a860" opacity="0.74"/>
<circle cx="39.9" cy="339.7" r="3.0" fill="#c87a2a" opacity="0.73"/>
<circle cx="267.0" cy="866.6" r="2.0" fill="#d98a36" opacity="0.33"/>
<circle cx="161.9" cy="102.4" r="3.0" fill="#d98a36" opacity="0.46"/>
<circle cx="460.1" cy="739.5" r="2.0" fill="#d98a36" opacity="0.63"/>
<circle cx="463.4" cy="868.1" r="2.6" fill="#dc9848" opacity="0.63"/>
<circle cx="146.8" cy="215.1" r="2.3" fill="#d98a36" opacity="0.68"/>
<circle cx="644.7" cy="663.9" r="3.0" fill="#c87a2a" opacity="0.75"/>
<circle cx="683.1" cy="635.1" r="2.6" fill="#d98a36" opacity="0.36"/>
<circle cx="443.0" cy="573.0" r="3.1" fill="#f0d9a0" opacity="0.9"/>
<circle cx="805.0" cy="657.0" r="3.7" fill="#f0d9a0" opacity="0.9"/>
<circle cx="860.0" cy="740.0" r="3.1" fill="#f0d9a0" opacity="0.9"/>
<circle cx="858.0" cy="790.0" r="3.1" fill="#f0d9a0" opacity="0.9"/>
<circle cx="531.0" cy="806.0" r="3.1" fill="#f0d9a0" opacity="0.9"/>
<circle cx="824.0" cy="839.0" r="3.1" fill="#f0d9a0" opacity="0.9"/>
<circle cx="101.0" cy="625.0" r="3.1" fill="#f0d9a0" opacity="0.9"/>
<circle cx="52.0" cy="154.0" r="3.1" fill="#f0d9a0" opacity="0.9"/>
<circle cx="115.0" cy="382.0" r="3.1" fill="#f0d9a0" opacity="0.9"/>
<circle cx="388.0" cy="64.0" r="3.1" fill="#f0d9a0" opacity="0.9"/>
<circle cx="791.0" cy="470.0" r="3.1" fill="#f0d9a0" opacity="0.9"/>
<circle cx="527.0" cy="637.0" r="3.1" fill="#f0d9a0" opacity="0.9"/>
<circle cx="536.0" cy="721.0" r="2.5" fill="#f0d9a0" opacity="0.9"/>
<circle cx="464.0" cy="60.0" r="2.5" fill="#f0d9a0" opacity="0.9"/>
<circle cx="843.0" cy="598.0" r="2.5" fill="#f0d9a0" opacity="0.9"/>
<circle cx="843.0" cy="644.0" r="2.5" fill="#f0d9a0" opacity="0.9"/>
</g>
<g filter="url(#blur3)">
<path d="M628,690 Q640,676 662,680 Q668,684 660,696 Q648,712 636,714 Q624,708 628,690Z" fill="#efe2b4"/>
<path d="M634,694 Q644,684 656,686 Q650,700 640,706 Q634,704 634,694Z" fill="#fbf6dc"/>
</g>
<g filter="url(#blur1)">
<line x1="27.0" y1="134.0" x2="865.0" y2="134.0" stroke="#0a0402" stroke-width="8" stroke-dasharray="29 22.7"/>
<line x1="24.5" y1="224.0" x2="865.0" y2="224.0" stroke="#9a16d0" stroke-width="7.6" stroke-dasharray="29 23"/>
<line x1="27.0" y1="543.5" x2="865.0" y2="543.5" stroke="#ff7a35" stroke-width="6.5" stroke-dasharray="28 24"/>
<clipPath id="ribclip"><polygon points="637.8,40 812.7,40 372,679 347,672 231,838 220,649 446.9,323 561.8,153.8"/></clipPath>
<line x1="27.0" y1="543.5" x2="865.0" y2="543.5" stroke="#f59a10" stroke-width="6.5" stroke-dasharray="28 24" clip-path="url(#ribclip)"/>
<circle cx="445.4" cy="109.0" r="9.1" fill="#3d2db5"/>
<circle cx="468.9" cy="155.2" r="9.1" fill="#3d2db5"/>
<circle cx="502.4" cy="190.1" r="9.1" fill="#3d2db5"/>
<circle cx="451.1" cy="207.8" r="9.1" fill="#3d2db5"/>
<circle cx="668.4" cy="310.5" r="9.1" fill="#3d2db5"/>
<circle cx="635.5" cy="354.8" r="9.1" fill="#3d2db5"/>
<circle cx="690.6" cy="365.6" r="9.1" fill="#3d2db5"/>
<circle cx="747.6" cy="366.2" r="9.1" fill="#3d2db5"/>
<circle cx="617.8" cy="158.4" r="9.1" fill="#ff3010"/>
<circle cx="688.7" cy="154.0" r="9.1" fill="#ff3010"/>
<circle cx="522.7" cy="256.6" r="9.1" fill="#ff5238"/>
<circle cx="635.5" cy="251.5" r="9.1" fill="#ff5238"/>
<circle cx="479.6" cy="313.6" r="9.1" fill="#ff5238"/>
<circle cx="590.5" cy="310.5" r="9.1" fill="#ff5238"/>
<circle cx="554.4" cy="381.4" r="9.1" fill="#ff5238"/>
<circle cx="373.8" cy="460.6" r="9.1" fill="#ff5238"/>
<circle cx="337.1" cy="508.1" r="9.1" fill="#ff5238"/>
<circle cx="432.7" cy="524.0" r="9.1" fill="#ff5238"/>
<circle cx="287.0" cy="589.2" r="9.1" fill="#ff5238"/>
<circle cx="348.5" cy="586.1" r="9.1" fill="#ff5238"/>
<circle cx="413.1" cy="582.9" r="9.1" fill="#ff5238"/>
<circle cx="377.0" cy="636.8" r="9.1" fill="#ff5238"/>
<circle cx="239.5" cy="668.4" r="9.1" fill="#ff5238"/>
<circle cx="312.4" cy="668.4" r="9.1" fill="#ff5238"/>
<circle cx="255.3" cy="717.9" r="9.1" fill="#ff5238"/>
<circle cx="249.0" cy="776.2" r="9.1" fill="#f01010"/>
</g>
<g filter="url(#blur1)">
<rect x="676.0" y="808.2" width="141.0" height="5.6" fill="#f6e6d6"/>
</g>
</g>
<text x="42.3" y="117.5" font-size="64.0" fill="#fbeee4" textLength="56.4" lengthAdjust="spacingAndGlyphs">a)</text>
<circle cx="334" cy="101" r="18.5" fill="none" stroke="#fbeee4" stroke-width="2.6"/>
<text x="334.0" y="110.6" font-size="27.0" font-weight="bold" fill="#fbeee4" text-anchor="middle">1</text>
<circle cx="248" cy="266" r="18.5" fill="none" stroke="#fbeee4" stroke-width="2.6"/>
<text x="248.0" y="275.6" font-size="27.0" font-weight="bold" fill="#fbeee4" text-anchor="middle">2</text>
<circle cx="150" cy="507" r="18.5" fill="none" stroke="#fbeee4" stroke-width="2.6"/>
<text x="150.0" y="516.6" font-size="27.0" font-weight="bold" fill="#fbeee4" text-anchor="middle">3</text>
<text x="703" y="791" font-size="37" fill="#f6e6d6" textLength="89" lengthAdjust="spacingAndGlyphs">5 <tspan font-style="italic">µm</tspan></text>
<rect x="902.5" y="44.0" width="67.5" height="836.0" fill="url(#cbar)"/>
<text x="989.4" y="57.0" font-size="38.5" fill="#111" textLength="68.0" lengthAdjust="spacingAndGlyphs">300</text>
<text x="989.4" y="251.0" font-size="38.5" fill="#111" textLength="68.0" lengthAdjust="spacingAndGlyphs">225</text>
<text x="989.4" y="476.3" font-size="38.5" fill="#111" textLength="68.0" lengthAdjust="spacingAndGlyphs">150</text>
<text x="1001.7" y="666.2" font-size="38.5" fill="#111" textLength="44.0" lengthAdjust="spacingAndGlyphs">75</text>
<text x="1011.2" y="891.4" font-size="38.5" fill="#111" textLength="22.6" lengthAdjust="spacingAndGlyphs">0</text>
<line x1="1287.8" y1="234.4" x2="2072.4" y2="234.4" stroke="#111" stroke-width="2.6" stroke-dasharray="14 11"/>
<line x1="1287.8" y1="460.0" x2="2072.4" y2="460.0" stroke="#8a55b8" stroke-width="2.2" stroke-dasharray="19.5 11.8"/>
<line x1="1287.8" y1="707.6" x2="2072.4" y2="707.6" stroke="#e0914a" stroke-width="3.0" stroke-dasharray="12.5 12.5" stroke-dashoffset="-3"/>
<polyline points="1288.0,306.0 1380.0,306.5 1438.0,306.0 1441.0,309.0 1447.0,292.0 1450.5,287.5 1454.0,293.0 1458.0,309.0 1466.0,307.0 1520.0,307.0 1600.0,306.5 1642.4,306.5 1643.5,309.0 1648.0,270.0 1653.3,231.3 1654.9,228.2 1657.0,233.0 1665.7,236.9 1684.0,237.5 1700.0,232.9 1709.0,234.4 1721.7,231.3 1734.0,236.9 1746.6,235.4 1759.0,229.8 1764.6,223.5 1768.4,229.8 1773.0,268.0 1777.7,306.0 1790.0,306.0 1799.5,304.4 1804.0,301.0 1805.7,295.0 1811.0,243.0 1816.6,190.9 1818.0,189.3 1833.7,192.4 1855.5,195.6 1880.0,197.0 1896.0,198.0 1902.2,198.7 1911.4,193.0 1920.8,200.2 1933.2,202.4 1955.0,207.4 1958.5,207.0 1962.7,201.8 1965.9,209.5 1967.4,211.0 1971.0,250.0 1975.2,287.3 1978.3,288.9 1984.5,274.9 1988.6,279.5 1993.8,299.7 2007.8,302.9 2023.4,307.5 2027.0,303.0 2031.2,295.0 2035.0,300.0 2039.0,304.4 2057.6,306.0 2070.0,306.6" fill="none" stroke="#000" stroke-width="4.4" stroke-linejoin="round" />
<polyline points="1288.7,563.9 1300.0,566.5 1307.3,568.9 1313.0,565.5 1340.0,564.8 1373.0,564.0 1376.0,562.8 1380.0,564.8 1430.0,564.5 1445.0,563.0 1452.0,562.5 1460.0,564.8 1490.0,564.5 1497.0,562.6 1505.0,564.8 1560.0,565.0 1632.3,565.0 1635.0,569.0 1650.0,568.5 1661.9,568.9 1663.4,568.0 1669.0,525.0 1674.3,486.0 1675.5,483.0 1679.0,487.5 1700.0,486.5 1720.0,486.5 1727.0,487.8 1735.0,485.5 1758.3,485.0 1760.4,485.5 1765.0,425.0 1769.1,368.0 1770.3,365.7 1773.7,373.8 1785.0,376.5 1801.4,379.5 1812.0,379.0 1826.7,378.4 1842.8,377.2 1852.0,379.5 1857.0,383.5 1861.3,389.9 1866.0,400.0 1870.5,412.9 1879.7,438.3 1886.6,454.4 1889.5,458.0 1893.5,460.2 1907.4,462.5 1917.7,461.8 1920.0,463.5 1922.3,468.2 1926.9,514.3 1931.5,553.5 1934.0,560.0 1937.3,563.9 1960.3,566.9 1981.0,564.0 1984.5,561.0 1988.0,558.0 1992.6,562.7 2027.2,563.9 2031.0,560.0 2036.4,552.3 2041.0,557.0 2045.6,561.6 2056.0,563.5 2068.6,566.2 2070.0,566.3" fill="none" stroke="#7a1fd0" stroke-width="4.0" stroke-linejoin="round" />
<polyline points="1288.7,824.8 1300.0,822.5 1307.3,821.7 1318.0,823.5 1332.2,823.2 1350.0,823.0 1372.6,823.2 1376.0,818.0 1379.5,813.3 1383.0,817.0 1386.6,821.7 1400.6,827.9 1416.2,821.7 1431.7,820.1 1440.4,823.9 1443.0,812.0 1445.7,804.6 1448.5,812.0 1451.9,821.7 1469.0,826.4 1484.6,818.6 1497.0,827.9 1503.0,820.0 1507.9,815.5 1512.0,821.0 1515.7,821.7 1518.8,813.9 1524.0,760.0 1529.7,711.3 1534.4,709.7 1545.0,711.5 1556.1,711.3 1565.0,710.3 1581.0,711.3 1590.0,712.5 1599.7,710.7 1624.5,707.6 1649.4,705.7 1668.0,704.4 1674.3,698.9 1677.4,708.2 1679.0,714.4 1683.0,770.0 1687.2,817.6 1690.0,823.0 1693.6,825.3 1711.6,828.0 1730.0,826.0 1758.3,826.6 1763.0,823.0 1768.6,820.2 1776.4,824.0 1797.0,822.7 1801.5,817.0 1806.1,811.1 1809.0,816.0 1812.6,818.9 1816.5,795.0 1820.3,778.8 1825.5,797.0 1829.4,831.8 1833.3,825.3 1850.0,823.5 1866.9,822.7 1905.7,825.3 1944.5,825.3 1970.3,822.7 1976.0,818.0 1982.0,815.0 1988.0,818.0 1993.6,818.9 2022.0,825.3 2050.0,825.0 2069.9,824.8" fill="none" stroke="#f5861c" stroke-width="4.0" stroke-linejoin="round" />
<rect x="1287.8" y="61.2" width="784.6" height="778.6" fill="none" stroke="#000" stroke-width="5.4"/>
<line x1="1287.8" y1="321.0" x2="2072.4" y2="321.0" stroke="#000" stroke-width="6"/>
<line x1="1287.8" y1="579.2" x2="2072.4" y2="579.2" stroke="#000" stroke-width="6"/>
<line x1="1269.0" y1="89.3" x2="1287.8" y2="89.3" stroke="#000" stroke-width="5"/>
<text x="1201.5" y="103.6" font-size="36.5" textLength="66.5" lengthAdjust="spacingAndGlyphs">150</text>
<line x1="1269.0" y1="161.8" x2="1287.8" y2="161.8" stroke="#000" stroke-width="5"/>
<text x="1201.5" y="176.1" font-size="36.5" textLength="66.5" lengthAdjust="spacingAndGlyphs">100</text>
<line x1="1269.0" y1="234.4" x2="1287.8" y2="234.4" stroke="#000" stroke-width="5"/>
<text x="1222.5" y="248.7" font-size="36.5" textLength="45.5" lengthAdjust="spacingAndGlyphs">50</text>
<line x1="1269.0" y1="305.8" x2="1287.8" y2="305.8" stroke="#000" stroke-width="5"/>
<text x="1243.0" y="320.1" font-size="36.5" textLength="25.0" lengthAdjust="spacingAndGlyphs">0</text>
<line x1="1269.0" y1="349.3" x2="1287.8" y2="349.3" stroke="#000" stroke-width="5"/>
<text x="1201.5" y="363.6" font-size="36.5" textLength="66.5" lengthAdjust="spacingAndGlyphs">150</text>
<line x1="1269.0" y1="421.7" x2="1287.8" y2="421.7" stroke="#000" stroke-width="5"/>
<text x="1201.5" y="436.0" font-size="36.5" textLength="66.5" lengthAdjust="spacingAndGlyphs">100</text>
<line x1="1269.0" y1="492.3" x2="1287.8" y2="492.3" stroke="#000" stroke-width="5"/>
<text x="1222.5" y="506.6" font-size="36.5" textLength="45.5" lengthAdjust="spacingAndGlyphs">50</text>
<line x1="1269.0" y1="564.8" x2="1287.8" y2="564.8" stroke="#000" stroke-width="5"/>
<text x="1243.0" y="579.1" font-size="36.5" textLength="25.0" lengthAdjust="spacingAndGlyphs">0</text>
<line x1="1269.0" y1="607.4" x2="1287.8" y2="607.4" stroke="#000" stroke-width="5"/>
<text x="1201.5" y="621.7" font-size="36.5" textLength="66.5" lengthAdjust="spacingAndGlyphs">150</text>
<line x1="1269.0" y1="681.5" x2="1287.8" y2="681.5" stroke="#000" stroke-width="5"/>
<text x="1201.5" y="695.8" font-size="36.5" textLength="66.5" lengthAdjust="spacingAndGlyphs">100</text>
<line x1="1269.0" y1="752.6" x2="1287.8" y2="752.6" stroke="#000" stroke-width="5"/>
<text x="1222.5" y="766.9" font-size="36.5" textLength="45.5" lengthAdjust="spacingAndGlyphs">50</text>
<line x1="1269.0" y1="825.0" x2="1287.8" y2="825.0" stroke="#000" stroke-width="5"/>
<text x="1243.0" y="839.3" font-size="36.5" textLength="25.0" lengthAdjust="spacingAndGlyphs">0</text>
<line x1="1417.7" y1="323.0" x2="1417.7" y2="330.5" stroke="#000" stroke-width="3.4"/>
<line x1="1548.3" y1="323.0" x2="1548.3" y2="337.0" stroke="#000" stroke-width="4"/>
<line x1="1679.0" y1="323.0" x2="1679.0" y2="330.5" stroke="#000" stroke-width="3.4"/>
<line x1="1809.6" y1="323.0" x2="1809.6" y2="337.0" stroke="#000" stroke-width="4"/>
<line x1="1940.2" y1="323.0" x2="1940.2" y2="330.5" stroke="#000" stroke-width="3.4"/>
<line x1="1417.7" y1="581.2" x2="1417.7" y2="588.7" stroke="#000" stroke-width="3.4"/>
<line x1="1548.3" y1="581.2" x2="1548.3" y2="595.2" stroke="#000" stroke-width="4"/>
<line x1="1679.0" y1="581.2" x2="1679.0" y2="588.7" stroke="#000" stroke-width="3.4"/>
<line x1="1809.6" y1="581.2" x2="1809.6" y2="595.2" stroke="#000" stroke-width="4"/>
<line x1="1940.2" y1="581.2" x2="1940.2" y2="588.7" stroke="#000" stroke-width="3.4"/>
<line x1="1287.8" y1="840.8" x2="1287.8" y2="856.3" stroke="#000" stroke-width="5"/>
<line x1="1417.7" y1="840.8" x2="1417.7" y2="850.3" stroke="#000" stroke-width="4"/>
<line x1="1548.3" y1="840.8" x2="1548.3" y2="856.3" stroke="#000" stroke-width="5"/>
<line x1="1679.0" y1="840.8" x2="1679.0" y2="850.3" stroke="#000" stroke-width="4"/>
<line x1="1809.6" y1="840.8" x2="1809.6" y2="856.3" stroke="#000" stroke-width="5"/>
<line x1="1940.2" y1="840.8" x2="1940.2" y2="850.3" stroke="#000" stroke-width="4"/>
<line x1="2072.4" y1="840.8" x2="2072.4" y2="856.3" stroke="#000" stroke-width="5"/>
<text x="1274.5" y="888.7" font-size="37.0" textLength="25.0" lengthAdjust="spacingAndGlyphs">0</text>
<text x="1526.3" y="888.7" font-size="37.0" textLength="45.5" lengthAdjust="spacingAndGlyphs">10</text>
<text x="1787.6" y="888.7" font-size="37.0" textLength="45.5" lengthAdjust="spacingAndGlyphs">20</text>
<text x="2049.0" y="888.7" font-size="37.0" textLength="45.5" lengthAdjust="spacingAndGlyphs">30</text>
<text x="1548.3" y="940.4" font-size="39" textLength="253" lengthAdjust="spacingAndGlyphs">Distance (<tspan font-style="italic">µm</tspan>)</text>
<text transform="translate(1161.5,463.0) rotate(-90)" font-size="38.0" text-anchor="middle" textLength="210.0" lengthAdjust="spacingAndGlyphs">Height (nm)</text>
<text x="1098.0" y="117.0" font-size="64.0" textLength="58.5" lengthAdjust="spacingAndGlyphs">b)</text>
<text x="1309.0" y="116.0" font-size="36.5" font-weight="bold" fill="#0a0a0a" textLength="202.0" lengthAdjust="spacingAndGlyphs">Line profile</text>
<circle cx="1546.6" cy="105.0" r="18.6" fill="none" stroke="#0a0a0a" stroke-width="2.4"/>
<text x="1546.6" y="115.3" font-size="28.5" font-weight="bold" fill="#0a0a0a" text-anchor="middle">1</text>
<text x="1309.0" y="376.0" font-size="36.5" font-weight="bold" fill="#7a26c4" textLength="202.0" lengthAdjust="spacingAndGlyphs">Line profile</text>
<circle cx="1545.5" cy="363.4" r="18.6" fill="none" stroke="#7a26c4" stroke-width="2.4"/>
<text x="1545.5" y="373.7" font-size="28.5" font-weight="bold" fill="#7a26c4" text-anchor="middle">2</text>
<text x="1309.0" y="636.0" font-size="36.5" font-weight="bold" fill="#ee8a26" textLength="202.0" lengthAdjust="spacingAndGlyphs">Line profile</text>
<circle cx="1544.8" cy="622.7" r="18.6" fill="none" stroke="#ee8a26" stroke-width="2.4"/>
<text x="1544.8" y="633.0" font-size="28.5" font-weight="bold" fill="#ee8a26" text-anchor="middle">3</text>
<text x="1634.3" y="208.0" font-size="36.5" fill="#1a1a1a" textLength="147.5" lengthAdjust="spacingAndGlyphs">50.5 nm</text>
<text x="1905.4" y="436.0" font-size="36.5" fill="#7a3cab" textLength="149.5" lengthAdjust="spacingAndGlyphs">80.1 nm</text>
<text x="1691.6" y="681.8" font-size="36.5" fill="#e39a55" textLength="149.5" lengthAdjust="spacingAndGlyphs">81.3 nm</text>
<clipPath id="clipc"><rect x="199.0" y="1080.6" width="712.8" height="524.0"/></clipPath>
<g clip-path="url(#clipc)" fill="none" stroke-linejoin="round">
<polygon points="269.7,1573.6 274.0,1563.2 278.3,1552.7 282.6,1542.3 286.9,1532.1 291.1,1522.6 295.4,1514.0 299.7,1505.6 304.0,1497.4 308.2,1489.3 312.5,1481.5 316.8,1473.8 321.1,1466.3 325.3,1459.0 329.6,1451.9 333.9,1444.9 338.2,1438.1 342.4,1431.4 346.7,1425.0 351.0,1418.7 355.3,1412.5 359.5,1406.6 363.8,1400.9 368.1,1395.4 372.4,1389.9 376.6,1384.6 380.9,1379.2 385.2,1373.9 389.5,1368.7 393.7,1363.6 398.0,1358.7 402.3,1353.9 406.6,1349.2 410.9,1344.7 415.1,1340.3 419.4,1336.1 423.7,1332.0 428.0,1328.1 432.2,1324.3 436.5,1320.7 440.8,1317.2 445.1,1313.9 449.3,1310.7 453.6,1307.6 457.9,1304.6 462.2,1301.8 466.4,1299.1 470.7,1296.5 475.0,1294.0 479.3,1291.6 483.5,1289.3 487.8,1287.1 492.1,1285.1 496.4,1283.1 500.6,1281.3 504.9,1279.4 509.2,1277.6 513.5,1275.7 517.7,1273.9 522.0,1272.1 526.3,1270.4 530.6,1268.8 534.9,1267.4 539.1,1266.0 543.4,1264.8 547.7,1263.5 552.0,1262.2 556.2,1260.9 560.5,1259.5 564.8,1258.1 569.1,1256.8 573.3,1255.6 577.6,1254.4 581.9,1253.3 586.2,1252.2 590.4,1251.2 594.7,1250.1 599.0,1249.2 603.3,1248.3 607.5,1247.4 611.8,1246.5 616.1,1245.6 620.4,1244.7 624.6,1243.8 628.9,1242.9 633.2,1242.0 637.5,1241.1 641.7,1240.3 646.0,1239.4 650.3,1238.5 654.6,1237.7 658.9,1236.7 663.1,1235.7 667.4,1234.6 671.7,1233.5 676.0,1232.3 680.2,1231.1 684.5,1229.9 688.8,1228.8 693.1,1227.7 697.3,1226.5 701.6,1225.4 705.9,1224.2 710.2,1223.0 714.4,1221.8 718.7,1220.5 723.0,1219.3 727.3,1218.0 731.5,1216.6 735.8,1215.2 740.1,1213.8 744.4,1212.4 748.6,1210.9 752.9,1209.4 757.2,1207.9 761.5,1206.4 765.7,1204.8 770.0,1203.3 774.3,1201.8 778.6,1200.2 782.9,1198.7 787.1,1197.1 791.4,1195.6 795.7,1194.1 800.0,1192.6 804.2,1191.1 808.5,1189.7 812.8,1188.3 817.1,1187.0 821.3,1185.8 825.6,1184.7 829.9,1183.7 834.2,1182.6 838.4,1181.6 842.7,1180.5 847.0,1179.4 851.3,1178.4 855.5,1177.4 859.8,1176.6 864.1,1175.9 868.4,1175.2 872.6,1174.7 876.9,1174.2 881.2,1173.7 885.5,1173.3 889.7,1173.0 894.0,1172.7 898.3,1172.5 902.6,1172.3 906.9,1172.0 911.1,1171.8 911.1,1204.8 906.9,1204.7 902.6,1204.6 898.3,1204.6 894.0,1204.5 889.7,1204.4 885.5,1204.4 881.2,1204.5 876.9,1204.6 872.6,1204.8 868.4,1205.0 864.1,1205.3 859.8,1205.7 855.5,1206.2 851.3,1206.9 847.0,1207.6 842.7,1208.3 838.4,1209.1 834.2,1209.9 829.9,1210.8 825.6,1211.7 821.3,1212.7 817.1,1213.7 812.8,1214.8 808.5,1216.0 804.2,1217.3 800.0,1218.7 795.7,1220.0 791.4,1221.3 787.1,1222.7 782.9,1224.1 778.6,1225.5 774.3,1226.8 770.0,1228.2 765.7,1229.6 761.5,1231.0 757.2,1232.4 752.9,1233.8 748.6,1235.1 744.4,1236.5 740.1,1237.8 735.8,1239.2 731.5,1240.5 727.3,1241.7 723.0,1243.0 718.7,1244.1 714.4,1245.3 710.2,1246.4 705.9,1247.5 701.6,1248.6 697.3,1249.7 693.1,1250.8 688.8,1251.8 684.5,1252.9 680.2,1254.0 676.0,1255.1 671.7,1256.2 667.4,1257.3 663.1,1258.3 658.9,1259.2 654.6,1260.1 650.3,1260.9 646.0,1261.7 641.7,1262.4 637.5,1263.3 633.2,1264.1 628.9,1264.9 624.6,1265.7 620.4,1266.5 616.1,1267.3 611.8,1268.1 607.5,1268.9 603.3,1269.7 599.0,1270.5 594.7,1271.4 590.4,1272.3 586.2,1273.3 581.9,1274.2 577.6,1275.3 573.3,1276.4 569.1,1277.5 564.8,1278.8 560.5,1280.0 556.2,1281.3 552.0,1282.6 547.7,1283.8 543.4,1284.9 539.1,1286.1 534.9,1287.4 530.6,1288.7 526.3,1290.2 522.0,1291.8 517.7,1293.5 513.5,1295.3 509.2,1297.0 504.9,1298.8 500.6,1300.5 496.4,1302.3 492.1,1304.1 487.8,1306.1 483.5,1308.2 479.3,1310.4 475.0,1312.7 470.7,1315.2 466.4,1317.7 462.2,1320.4 457.9,1323.1 453.6,1326.0 449.3,1329.0 445.1,1332.2 440.8,1335.5 436.5,1338.9 432.2,1342.4 428.0,1346.1 423.7,1350.0 419.4,1354.0 415.1,1358.1 410.9,1362.5 406.6,1366.9 402.3,1371.5 398.0,1376.2 393.7,1381.1 389.5,1386.1 385.2,1391.3 380.9,1396.5 376.6,1401.8 372.4,1407.1 368.1,1412.5 363.8,1418.0 359.5,1423.6 355.3,1429.4 351.0,1435.4 346.7,1441.6 342.4,1447.9 338.2,1454.4 333.9,1461.0 329.6,1467.9 325.3,1474.8 321.1,1482.0 316.8,1489.3 312.5,1496.8 308.2,1504.4 304.0,1512.1 299.7,1520.0 295.4,1528.1 291.1,1536.4 286.9,1544.2 282.6,1551.8 278.3,1559.6 274.0,1567.4 269.7,1575.2" fill="#ff2a2a" opacity="0.55"/>
<polyline points="269.7,1573.5 274.0,1562.9 278.3,1552.2 282.6,1541.6 286.9,1531.2 291.1,1521.6 295.4,1513.0 299.7,1504.6 304.0,1496.3 308.2,1488.3 312.5,1480.4 316.8,1472.7 321.1,1465.2 325.3,1457.9 329.6,1450.8 333.9,1443.8 338.2,1436.9 342.4,1430.3 346.7,1423.8 351.0,1417.5 355.3,1411.3 359.5,1405.4 363.8,1399.7 368.1,1394.2 372.4,1388.7 376.6,1383.4 380.9,1378.0 385.2,1372.7 389.5,1367.6 393.7,1362.5 398.0,1357.6 402.3,1352.8 406.6,1348.2 410.9,1343.7 415.1,1339.3 419.4,1335.1 423.7,1331.1 428.0,1327.2 432.2,1323.5 436.5,1319.9 440.8,1316.5 445.1,1313.1 449.3,1310.0 453.6,1306.9 457.9,1304.0 462.2,1301.2 466.4,1298.5 470.7,1295.9 475.0,1293.5 479.3,1291.1 483.5,1288.9 487.8,1286.7 492.1,1284.7 496.4,1282.8 500.6,1280.9 504.9,1279.1 509.2,1277.3 513.5,1275.5 517.7,1273.7 522.0,1272.0 526.3,1270.3 530.6,1268.7 534.9,1267.3 539.1,1266.0 543.4,1264.7 547.7,1263.5 552.0,1262.2 556.2,1260.9 560.5,1259.6 564.8,1258.2 569.1,1256.9 573.3,1255.7 577.6,1254.5 581.9,1253.4 586.2,1252.4 590.4,1251.4 594.7,1250.4 599.0,1249.4 603.3,1248.5 607.5,1247.7 611.8,1246.8 616.1,1246.0 620.4,1245.1 624.6,1244.2 628.9,1243.3 633.2,1242.4 637.5,1241.6 641.7,1240.7 646.0,1239.8 650.3,1239.0 654.6,1238.1 658.9,1237.2 663.1,1236.2 667.4,1235.1 671.7,1234.0 676.0,1232.8 680.2,1231.6 684.5,1230.5 688.8,1229.3 693.1,1228.2 697.3,1227.1 701.6,1225.9 705.9,1224.7 710.2,1223.5 714.4,1222.3 718.7,1221.1 723.0,1219.8 727.3,1218.5 731.5,1217.2 735.8,1215.8 740.1,1214.4 744.4,1212.9 748.6,1211.5 752.9,1210.0 757.2,1208.5 761.5,1206.9 765.7,1205.4 770.0,1203.8 774.3,1202.3 778.6,1200.7 782.9,1199.2 787.1,1197.7 791.4,1196.1 795.7,1194.6 800.0,1193.1 804.2,1191.6 808.5,1190.2 812.8,1188.8 817.1,1187.5 821.3,1186.3 825.6,1185.2 829.9,1184.1 834.2,1183.1 838.4,1182.0 842.7,1180.9 847.0,1179.8 851.3,1178.8 855.5,1177.8 859.8,1177.0 864.1,1176.2 868.4,1175.6 872.6,1175.0 876.9,1174.5 881.2,1174.1 885.5,1173.7 889.7,1173.3 894.0,1173.0 898.3,1172.8 902.6,1172.5 906.9,1172.3 911.1,1172.0" fill="none" stroke="#e80808" stroke-width="2.3" stroke-linejoin="round" />
<polyline points="269.7,1573.7 274.0,1563.4 278.3,1553.0 282.6,1542.7 286.9,1532.5 291.1,1523.1 295.4,1514.6 299.7,1506.2 304.0,1498.0 308.2,1489.9 312.5,1482.1 316.8,1474.4 321.1,1467.0 325.3,1459.6 329.6,1452.5 333.9,1445.5 338.2,1438.7 342.4,1432.1 346.7,1425.6 351.0,1419.3 355.3,1413.1 359.5,1407.2 363.8,1401.5 368.1,1396.0 372.4,1390.5 376.6,1385.1 380.9,1379.8 385.2,1374.5 389.5,1369.3 393.7,1364.2 398.0,1359.2 402.3,1354.4 406.6,1349.7 410.9,1345.2 415.1,1340.8 419.4,1336.6 423.7,1332.5 428.0,1328.6 432.2,1324.8 436.5,1321.2 440.8,1317.7 445.1,1314.3 449.3,1311.1 453.6,1308.0 457.9,1305.0 462.2,1302.2 466.4,1299.4 470.7,1296.8 475.0,1294.3 479.3,1291.9 483.5,1289.6 487.8,1287.4 492.1,1285.3 496.4,1283.4 500.6,1281.5 504.9,1279.7 509.2,1277.8 513.5,1276.0 517.7,1274.1 522.0,1272.3 526.3,1270.6 530.6,1269.0 534.9,1267.6 539.1,1266.2 543.4,1264.9 547.7,1263.7 552.0,1262.4 556.2,1261.0 560.5,1259.6 564.8,1258.3 569.1,1256.9 573.3,1255.7 577.6,1254.5 581.9,1253.4 586.2,1252.3 590.4,1251.3 594.7,1250.3 599.0,1249.3 603.3,1248.4 607.5,1247.5 611.8,1246.6 616.1,1245.7 620.4,1244.9 624.6,1244.0 628.9,1243.1 633.2,1242.2 637.5,1241.3 641.7,1240.4 646.0,1239.6 650.3,1238.7 654.6,1237.9 658.9,1237.0 663.1,1236.0 667.4,1234.9 671.7,1233.7 676.0,1232.6 680.2,1231.4 684.5,1230.2 688.8,1229.1 693.1,1228.0 697.3,1226.9 701.6,1225.7 705.9,1224.6 710.2,1223.4 714.4,1222.2 718.7,1221.0 723.0,1219.7 727.3,1218.5 731.5,1217.1 735.8,1215.8 740.1,1214.4 744.4,1212.9 748.6,1211.5 752.9,1210.0 757.2,1208.5 761.5,1207.0 765.7,1205.5 770.0,1204.0 774.3,1202.4 778.6,1200.9 782.9,1199.4 787.1,1197.9 791.4,1196.4 795.7,1194.9 800.0,1193.4 804.2,1191.9 808.5,1190.5 812.8,1189.1 817.1,1187.9 821.3,1186.7 825.6,1185.6 829.9,1184.5 834.2,1183.5 838.4,1182.5 842.7,1181.4 847.0,1180.3 851.3,1179.3 855.5,1178.4 859.8,1177.5 864.1,1176.8 868.4,1176.2 872.6,1175.6 876.9,1175.1 881.2,1174.7 885.5,1174.3 889.7,1174.0 894.0,1173.7 898.3,1173.5 902.6,1173.2 906.9,1173.0 911.1,1172.7" fill="none" stroke="#ff1010" stroke-width="2.3" stroke-linejoin="round" />
<polyline points="269.7,1573.7 274.0,1563.5 278.3,1553.2 282.6,1543.0 286.9,1532.9 291.1,1523.4 295.4,1514.8 299.7,1506.4 304.0,1498.1 308.2,1490.0 312.5,1482.1 316.8,1474.4 321.1,1466.9 325.3,1459.5 329.6,1452.3 333.9,1445.3 338.2,1438.5 342.4,1431.8 346.7,1425.2 351.0,1418.9 355.3,1412.7 359.5,1406.7 363.8,1401.0 368.1,1395.4 372.4,1389.9 376.6,1384.5 380.9,1379.1 385.2,1373.8 389.5,1368.5 393.7,1363.4 398.0,1358.4 402.3,1353.6 406.6,1348.9 410.9,1344.3 415.1,1339.9 419.4,1335.7 423.7,1331.6 428.0,1327.7 432.2,1323.9 436.5,1320.3 440.8,1316.8 445.1,1313.4 449.3,1310.2 453.6,1307.1 457.9,1304.2 462.2,1301.4 466.4,1298.6 470.7,1296.0 475.0,1293.6 479.3,1291.2 483.5,1288.9 487.8,1286.8 492.1,1284.7 496.4,1282.8 500.6,1281.0 504.9,1279.1 509.2,1277.3 513.5,1275.5 517.7,1273.7 522.0,1272.0 526.3,1270.3 530.6,1268.8 534.9,1267.4 539.1,1266.1 543.4,1264.8 547.7,1263.6 552.0,1262.4 556.2,1261.1 560.5,1259.7 564.8,1258.4 569.1,1257.2 573.3,1256.0 577.6,1254.8 581.9,1253.8 586.2,1252.7 590.4,1251.8 594.7,1250.8 599.0,1249.9 603.3,1249.0 607.5,1248.2 611.8,1247.4 616.1,1246.6 620.4,1245.7 624.6,1244.9 628.9,1244.0 633.2,1243.2 637.5,1242.3 641.7,1241.5 646.0,1240.7 650.3,1239.9 654.6,1239.0 658.9,1238.2 663.1,1237.2 667.4,1236.1 671.7,1235.0 676.0,1233.9 680.2,1232.7 684.5,1231.6 688.8,1230.5 693.1,1229.4 697.3,1228.2 701.6,1227.1 705.9,1225.9 710.2,1224.8 714.4,1223.6 718.7,1222.4 723.0,1221.1 727.3,1219.8 731.5,1218.5 735.8,1217.1 740.1,1215.7 744.4,1214.3 748.6,1212.8 752.9,1211.3 757.2,1209.8 761.5,1208.2 765.7,1206.7 770.0,1205.1 774.3,1203.6 778.6,1202.0 782.9,1200.5 787.1,1198.9 791.4,1197.4 795.7,1195.9 800.0,1194.3 804.2,1192.8 808.5,1191.3 812.8,1189.9 817.1,1188.6 821.3,1187.4 825.6,1186.3 829.9,1185.2 834.2,1184.1 838.4,1183.0 842.7,1181.9 847.0,1180.8 851.3,1179.7 855.5,1178.8 859.8,1177.9 864.1,1177.2 868.4,1176.5 872.6,1175.9 876.9,1175.4 881.2,1174.9 885.5,1174.5 889.7,1174.2 894.0,1173.9 898.3,1173.6 902.6,1173.3 906.9,1173.1 911.1,1172.8" fill="none" stroke="#ff1010" stroke-width="2.3" stroke-linejoin="round" />
<polyline points="269.7,1573.8 274.0,1563.8 278.3,1553.6 282.6,1543.6 286.9,1533.7 291.1,1524.4 295.4,1515.9 299.7,1507.5 304.0,1499.4 308.2,1491.4 312.5,1483.5 316.8,1475.9 321.1,1468.5 325.3,1461.2 329.6,1454.0 333.9,1447.1 338.2,1440.3 342.4,1433.7 346.7,1427.2 351.0,1420.9 355.3,1414.8 359.5,1409.0 363.8,1403.3 368.1,1397.7 372.4,1392.3 376.6,1386.9 380.9,1381.6 385.2,1376.3 389.5,1371.1 393.7,1366.0 398.0,1361.1 402.3,1356.3 406.6,1351.7 410.9,1347.2 415.1,1342.8 419.4,1338.6 423.7,1334.5 428.0,1330.6 432.2,1326.9 436.5,1323.3 440.8,1319.8 445.1,1316.5 449.3,1313.3 453.6,1310.2 457.9,1307.3 462.2,1304.4 466.4,1301.7 470.7,1299.1 475.0,1296.7 479.3,1294.3 483.5,1292.0 487.8,1289.9 492.1,1287.8 496.4,1285.9 500.6,1284.0 504.9,1282.2 509.2,1280.4 513.5,1278.5 517.7,1276.7 522.0,1275.0 526.3,1273.3 530.6,1271.7 534.9,1270.2 539.1,1268.9 543.4,1267.6 547.7,1266.4 552.0,1265.1 556.2,1263.8 560.5,1262.4 564.8,1261.0 569.1,1259.7 573.3,1258.5 577.6,1257.3 581.9,1256.2 586.2,1255.1 590.4,1254.1 594.7,1253.1 599.0,1252.1 603.3,1251.2 607.5,1250.3 611.8,1249.4 616.1,1248.5 620.4,1247.7 624.6,1246.8 628.9,1245.9 633.2,1245.0 637.5,1244.1 641.7,1243.2 646.0,1242.3 650.3,1241.5 654.6,1240.6 658.9,1239.6 663.1,1238.6 667.4,1237.5 671.7,1236.4 676.0,1235.2 680.2,1234.0 684.5,1232.8 688.8,1231.7 693.1,1230.5 697.3,1229.4 701.6,1228.2 705.9,1227.0 710.2,1225.9 714.4,1224.6 718.7,1223.4 723.0,1222.2 727.3,1220.9 731.5,1219.5 735.8,1218.1 740.1,1216.7 744.4,1215.3 748.6,1213.8 752.9,1212.3 757.2,1210.8 761.5,1209.3 765.7,1207.8 770.0,1206.2 774.3,1204.7 778.6,1203.2 782.9,1201.6 787.1,1200.1 791.4,1198.6 795.7,1197.1 800.0,1195.6 804.2,1194.2 808.5,1192.7 812.8,1191.4 817.1,1190.1 821.3,1189.0 825.6,1187.9 829.9,1186.8 834.2,1185.8 838.4,1184.8 842.7,1183.7 847.0,1182.7 851.3,1181.7 855.5,1180.8 859.8,1180.0 864.1,1179.4 868.4,1178.8 872.6,1178.3 876.9,1177.8 881.2,1177.4 885.5,1177.1 889.7,1176.8 894.0,1176.6 898.3,1176.4 902.6,1176.2 906.9,1176.1 911.1,1175.9" fill="none" stroke="#fa0505" stroke-width="2.3" stroke-linejoin="round" />
<polyline points="269.7,1574.1 274.0,1564.4 278.3,1554.7 282.6,1545.0 286.9,1535.4 291.1,1526.3 295.4,1517.8 299.7,1509.4 304.0,1501.2 308.2,1493.2 312.5,1485.3 316.8,1477.7 321.1,1470.1 325.3,1462.8 329.6,1455.6 333.9,1448.6 338.2,1441.7 342.4,1435.0 346.7,1428.5 351.0,1422.2 355.3,1416.0 359.5,1410.0 363.8,1404.2 368.1,1398.6 372.4,1393.1 376.6,1387.6 380.9,1382.2 385.2,1376.8 389.5,1371.6 393.7,1366.4 398.0,1361.4 402.3,1356.5 406.6,1351.8 410.9,1347.2 415.1,1342.7 419.4,1338.4 423.7,1334.3 428.0,1330.3 432.2,1326.5 436.5,1322.9 440.8,1319.3 445.1,1315.9 449.3,1312.6 453.6,1309.5 457.9,1306.5 462.2,1303.6 466.4,1300.8 470.7,1298.2 475.0,1295.7 479.3,1293.3 483.5,1291.0 487.8,1288.7 492.1,1286.7 496.4,1284.7 500.6,1282.8 504.9,1281.0 509.2,1279.1 513.5,1277.3 517.7,1275.4 522.0,1273.7 526.3,1272.0 530.6,1270.4 534.9,1268.9 539.1,1267.6 543.4,1266.3 547.7,1265.1 552.0,1263.8 556.2,1262.5 560.5,1261.2 564.8,1259.9 569.1,1258.6 573.3,1257.3 577.6,1256.2 581.9,1255.1 586.2,1254.1 590.4,1253.1 594.7,1252.2 599.0,1251.3 603.3,1250.4 607.5,1249.6 611.8,1248.8 616.1,1248.0 620.4,1247.2 624.6,1246.3 628.9,1245.5 633.2,1244.7 637.5,1243.9 641.7,1243.1 646.0,1242.3 650.3,1241.5 654.6,1240.7 658.9,1239.9 663.1,1238.9 667.4,1237.9 671.7,1236.9 676.0,1235.8 680.2,1234.6 684.5,1233.6 688.8,1232.5 693.1,1231.5 697.3,1230.4 701.6,1229.3 705.9,1228.2 710.2,1227.1 714.4,1226.0 718.7,1224.8 723.0,1223.6 727.3,1222.4 731.5,1221.1 735.8,1219.8 740.1,1218.4 744.4,1217.1 748.6,1215.7 752.9,1214.2 757.2,1212.8 761.5,1211.3 765.7,1209.8 770.0,1208.4 774.3,1206.9 778.6,1205.4 782.9,1203.9 787.1,1202.4 791.4,1200.9 795.7,1199.5 800.0,1198.0 804.2,1196.6 808.5,1195.1 812.8,1193.8 817.1,1192.5 821.3,1191.4 825.6,1190.3 829.9,1189.2 834.2,1188.2 838.4,1187.2 842.7,1186.1 847.0,1185.0 851.3,1184.0 855.5,1183.1 859.8,1182.3 864.1,1181.6 868.4,1181.0 872.6,1180.4 876.9,1180.0 881.2,1179.5 885.5,1179.1 889.7,1178.8 894.0,1178.5 898.3,1178.3 902.6,1178.0 906.9,1177.8 911.1,1177.5" fill="none" stroke="#ff1010" stroke-width="2.3" stroke-linejoin="round" />
<polyline points="269.7,1574.1 274.0,1564.5 278.3,1554.9 282.6,1545.3 286.9,1535.9 291.1,1527.0 295.4,1518.6 299.7,1510.3 304.0,1502.2 308.2,1494.3 312.5,1486.5 316.8,1479.0 321.1,1471.6 325.3,1464.3 329.6,1457.3 333.9,1450.4 338.2,1443.6 342.4,1437.0 346.7,1430.6 351.0,1424.4 355.3,1418.3 359.5,1412.5 363.8,1406.8 368.1,1401.3 372.4,1395.9 376.6,1390.5 380.9,1385.2 385.2,1379.9 389.5,1374.7 393.7,1369.6 398.0,1364.7 402.3,1359.9 406.6,1355.3 410.9,1350.8 415.1,1346.4 419.4,1342.2 423.7,1338.1 428.0,1334.2 432.2,1330.5 436.5,1326.9 440.8,1323.4 445.1,1320.0 449.3,1316.8 453.6,1313.7 457.9,1310.8 462.2,1307.9 466.4,1305.2 470.7,1302.6 475.0,1300.1 479.3,1297.7 483.5,1295.4 487.8,1293.2 492.1,1291.2 496.4,1289.2 500.6,1287.4 504.9,1285.5 509.2,1283.7 513.5,1281.8 517.7,1280.0 522.0,1278.2 526.3,1276.5 530.6,1274.9 534.9,1273.5 539.1,1272.1 543.4,1270.8 547.7,1269.6 552.0,1268.3 556.2,1266.9 560.5,1265.6 564.8,1264.2 569.1,1262.9 573.3,1261.6 577.6,1260.4 581.9,1259.3 586.2,1258.2 590.4,1257.2 594.7,1256.2 599.0,1255.2 603.3,1254.3 607.5,1253.4 611.8,1252.6 616.1,1251.7 620.4,1250.8 624.6,1249.9 628.9,1249.0 633.2,1248.2 637.5,1247.3 641.7,1246.4 646.0,1245.5 650.3,1244.7 654.6,1243.8 658.9,1242.9 663.1,1241.9 667.4,1240.9 671.7,1239.7 676.0,1238.6 680.2,1237.4 684.5,1236.3 688.8,1235.1 693.1,1234.0 697.3,1232.9 701.6,1231.8 705.9,1230.6 710.2,1229.5 714.4,1228.3 718.7,1227.1 723.0,1225.9 727.3,1224.6 731.5,1223.3 735.8,1221.9 740.1,1220.5 744.4,1219.1 748.6,1217.7 752.9,1216.3 757.2,1214.8 761.5,1213.3 765.7,1211.8 770.0,1210.4 774.3,1208.9 778.6,1207.4 782.9,1205.9 787.1,1204.4 791.4,1203.0 795.7,1201.5 800.0,1200.1 804.2,1198.6 808.5,1197.2 812.8,1195.9 817.1,1194.7 821.3,1193.6 825.6,1192.5 829.9,1191.5 834.2,1190.5 838.4,1189.5 842.7,1188.5 847.0,1187.5 851.3,1186.6 855.5,1185.7 859.8,1185.0 864.1,1184.3 868.4,1183.8 872.6,1183.3 876.9,1182.9 881.2,1182.5 885.5,1182.2 889.7,1181.9 894.0,1181.7 898.3,1181.5 902.6,1181.4 906.9,1181.2 911.1,1181.0" fill="none" stroke="#e80808" stroke-width="2.3" stroke-linejoin="round" />
<polyline points="269.7,1574.2 274.0,1564.8 278.3,1555.3 282.6,1545.8 286.9,1536.5 291.1,1527.7 295.4,1519.2 299.7,1510.9 304.0,1502.7 308.2,1494.7 312.5,1486.9 316.8,1479.3 321.1,1471.9 325.3,1464.6 329.6,1457.5 333.9,1450.5 338.2,1443.7 342.4,1437.1 346.7,1430.7 351.0,1424.4 355.3,1418.3 359.5,1412.4 363.8,1406.7 368.1,1401.2 372.4,1395.8 376.6,1390.4 380.9,1385.0 385.2,1379.7 389.5,1374.5 393.7,1369.5 398.0,1364.5 402.3,1359.8 406.6,1355.1 410.9,1350.6 415.1,1346.3 419.4,1342.1 423.7,1338.0 428.0,1334.1 432.2,1330.4 436.5,1326.8 440.8,1323.4 445.1,1320.0 449.3,1316.8 453.6,1313.8 457.9,1310.9 462.2,1308.1 466.4,1305.4 470.7,1302.8 475.0,1300.3 479.3,1298.0 483.5,1295.7 487.8,1293.6 492.1,1291.6 496.4,1289.6 500.6,1287.8 504.9,1286.0 509.2,1284.2 513.5,1282.4 517.7,1280.6 522.0,1278.9 526.3,1277.2 530.6,1275.6 534.9,1274.2 539.1,1272.9 543.4,1271.6 547.7,1270.4 552.0,1269.1 556.2,1267.8 560.5,1266.4 564.8,1265.1 569.1,1263.8 573.3,1262.5 577.6,1261.4 581.9,1260.2 586.2,1259.2 590.4,1258.1 594.7,1257.1 599.0,1256.2 603.3,1255.2 607.5,1254.3 611.8,1253.4 616.1,1252.5 620.4,1251.6 624.6,1250.7 628.9,1249.8 633.2,1248.9 637.5,1247.9 641.7,1247.0 646.0,1246.1 650.3,1245.2 654.6,1244.3 658.9,1243.3 663.1,1242.3 667.4,1241.1 671.7,1239.9 676.0,1238.7 680.2,1237.4 684.5,1236.2 688.8,1235.0 693.1,1233.8 697.3,1232.6 701.6,1231.4 705.9,1230.1 710.2,1228.8 714.4,1227.6 718.7,1226.3 723.0,1224.9 727.3,1223.6 731.5,1222.1 735.8,1220.7 740.1,1219.2 744.4,1217.7 748.6,1216.1 752.9,1214.6 757.2,1213.0 761.5,1211.4 765.7,1209.8 770.0,1208.2 774.3,1206.6 778.6,1205.0 782.9,1203.4 787.1,1201.8 791.4,1200.2 795.7,1198.7 800.0,1197.1 804.2,1195.6 808.5,1194.1 812.8,1192.6 817.1,1191.3 821.3,1190.1 825.6,1188.9 829.9,1187.8 834.2,1186.8 838.4,1185.7 842.7,1184.6 847.0,1183.5 851.3,1182.5 855.5,1181.5 859.8,1180.7 864.1,1180.0 868.4,1179.4 872.6,1178.8 876.9,1178.4 881.2,1178.0 885.5,1177.6 889.7,1177.3 894.0,1177.1 898.3,1176.9 902.6,1176.8 906.9,1176.6 911.1,1176.4" fill="none" stroke="#f00000" stroke-width="2.3" stroke-linejoin="round" />
<polyline points="269.7,1574.2 274.0,1564.6 278.3,1555.0 282.6,1545.5 286.9,1536.1 291.1,1527.2 295.4,1518.8 299.7,1510.5 304.0,1502.4 308.2,1494.5 312.5,1486.7 316.8,1479.1 321.1,1471.7 325.3,1464.5 329.6,1457.4 333.9,1450.5 338.2,1443.8 342.4,1437.2 346.7,1430.8 351.0,1424.6 355.3,1418.5 359.5,1412.7 363.8,1407.0 368.1,1401.6 372.4,1396.2 376.6,1390.8 380.9,1385.5 385.2,1380.3 389.5,1375.1 393.7,1370.1 398.0,1365.2 402.3,1360.5 406.6,1355.9 410.9,1351.4 415.1,1347.1 419.4,1343.0 423.7,1339.0 428.0,1335.1 432.2,1331.4 436.5,1327.9 440.8,1324.4 445.1,1321.1 449.3,1318.0 453.6,1315.0 457.9,1312.1 462.2,1309.3 466.4,1306.6 470.7,1304.1 475.0,1301.6 479.3,1299.3 483.5,1297.1 487.8,1295.0 492.1,1293.0 496.4,1291.1 500.6,1289.3 504.9,1287.5 509.2,1285.7 513.5,1283.9 517.7,1282.2 522.0,1280.4 526.3,1278.8 530.6,1277.2 534.9,1275.8 539.1,1274.5 543.4,1273.3 547.7,1272.1 552.0,1270.8 556.2,1269.5 560.5,1268.2 564.8,1266.8 569.1,1265.5 573.3,1264.3 577.6,1263.2 581.9,1262.1 586.2,1261.0 590.4,1260.0 594.7,1259.0 599.0,1258.1 603.3,1257.1 607.5,1256.3 611.8,1255.4 616.1,1254.5 620.4,1253.6 624.6,1252.7 628.9,1251.8 633.2,1250.9 637.5,1250.0 641.7,1249.1 646.0,1248.3 650.3,1247.4 654.6,1246.5 658.9,1245.6 663.1,1244.5 667.4,1243.4 671.7,1242.2 676.0,1241.0 680.2,1239.8 684.5,1238.6 688.8,1237.5 693.1,1236.3 697.3,1235.2 701.6,1234.0 705.9,1232.8 710.2,1231.5 714.4,1230.3 718.7,1229.1 723.0,1227.8 727.3,1226.5 731.5,1225.1 735.8,1223.7 740.1,1222.2 744.4,1220.8 748.6,1219.3 752.9,1217.8 757.2,1216.3 761.5,1214.8 765.7,1213.3 770.0,1211.7 774.3,1210.2 778.6,1208.7 782.9,1207.1 787.1,1205.6 791.4,1204.1 795.7,1202.7 800.0,1201.2 804.2,1199.7 808.5,1198.3 812.8,1197.0 817.1,1195.7 821.3,1194.6 825.6,1193.5 829.9,1192.5 834.2,1191.5 838.4,1190.5 842.7,1189.5 847.0,1188.5 851.3,1187.6 855.5,1186.8 859.8,1186.1 864.1,1185.5 868.4,1185.0 872.6,1184.5 876.9,1184.2 881.2,1183.9 885.5,1183.6 889.7,1183.4 894.0,1183.3 898.3,1183.2 902.6,1183.1 906.9,1183.1 911.1,1183.0" fill="none" stroke="#ff1010" stroke-width="2.3" stroke-linejoin="round" />
<polyline points="269.7,1574.2 274.0,1564.8 278.3,1555.4 282.6,1546.0 286.9,1536.9 291.1,1528.1 295.4,1519.7 299.7,1511.5 304.0,1503.5 308.2,1495.6 312.5,1487.9 316.8,1480.4 321.1,1473.0 325.3,1465.8 329.6,1458.8 333.9,1452.0 338.2,1445.3 342.4,1438.8 346.7,1432.4 351.0,1426.3 355.3,1420.2 359.5,1414.4 363.8,1408.8 368.1,1403.4 372.4,1398.0 376.6,1392.7 380.9,1387.5 385.2,1382.2 389.5,1377.1 393.7,1372.1 398.0,1367.2 402.3,1362.5 406.6,1358.0 410.9,1353.5 415.1,1349.2 419.4,1345.1 423.7,1341.1 428.0,1337.2 432.2,1333.5 436.5,1330.0 440.8,1326.6 445.1,1323.3 449.3,1320.1 453.6,1317.1 457.9,1314.2 462.2,1311.4 466.4,1308.8 470.7,1306.2 475.0,1303.8 479.3,1301.4 483.5,1299.2 487.8,1297.0 492.1,1295.0 496.4,1293.1 500.6,1291.3 504.9,1289.5 509.2,1287.7 513.5,1285.9 517.7,1284.1 522.0,1282.4 526.3,1280.7 530.6,1279.1 534.9,1277.7 539.1,1276.3 543.4,1275.1 547.7,1273.8 552.0,1272.6 556.2,1271.2 560.5,1269.8 564.8,1268.5 569.1,1267.2 573.3,1265.9 577.6,1264.7 581.9,1263.6 586.2,1262.5 590.4,1261.5 594.7,1260.5 599.0,1259.5 603.3,1258.5 607.5,1257.6 611.8,1256.7 616.1,1255.8 620.4,1254.9 624.6,1254.0 628.9,1253.1 633.2,1252.2 637.5,1251.2 641.7,1250.3 646.0,1249.4 650.3,1248.5 654.6,1247.6 658.9,1246.7 663.1,1245.6 667.4,1244.5 671.7,1243.3 676.0,1242.1 680.2,1240.9 684.5,1239.7 688.8,1238.6 693.1,1237.4 697.3,1236.3 701.6,1235.1 705.9,1233.9 710.2,1232.7 714.4,1231.5 718.7,1230.2 723.0,1229.0 727.3,1227.7 731.5,1226.3 735.8,1224.9 740.1,1223.5 744.4,1222.1 748.6,1220.7 752.9,1219.2 757.2,1217.7 761.5,1216.2 765.7,1214.8 770.0,1213.3 774.3,1211.8 778.6,1210.3 782.9,1208.8 787.1,1207.4 791.4,1205.9 795.7,1204.5 800.0,1203.1 804.2,1201.7 808.5,1200.3 812.8,1199.1 817.1,1197.9 821.3,1196.8 825.6,1195.8 829.9,1194.8 834.2,1193.9 838.4,1193.0 842.7,1192.1 847.0,1191.2 851.3,1190.4 855.5,1189.6 859.8,1189.0 864.1,1188.5 868.4,1188.0 872.6,1187.7 876.9,1187.4 881.2,1187.2 885.5,1187.0 889.7,1186.9 894.0,1186.8 898.3,1186.8 902.6,1186.8 906.9,1186.8 911.1,1186.8" fill="none" stroke="#fa0505" stroke-width="2.3" stroke-linejoin="round" />
<polyline points="269.7,1574.4 274.0,1565.3 278.3,1556.1 282.6,1547.0 286.9,1538.1 291.1,1529.5 295.4,1521.1 299.7,1512.9 304.0,1504.9 308.2,1497.1 312.5,1489.4 316.8,1481.9 321.1,1474.6 325.3,1467.4 329.6,1460.4 333.9,1453.5 338.2,1446.9 342.4,1440.4 346.7,1434.1 351.0,1427.9 355.3,1421.9 359.5,1416.1 363.8,1410.6 368.1,1405.1 372.4,1399.8 376.6,1394.5 380.9,1389.3 385.2,1384.1 389.5,1379.0 393.7,1374.0 398.0,1369.2 402.3,1364.5 406.6,1360.0 410.9,1355.6 415.1,1351.3 419.4,1347.2 423.7,1343.2 428.0,1339.4 432.2,1335.8 436.5,1332.3 440.8,1328.9 445.1,1325.6 449.3,1322.5 453.6,1319.6 457.9,1316.7 462.2,1314.0 466.4,1311.3 470.7,1308.8 475.0,1306.4 479.3,1304.1 483.5,1301.9 487.8,1299.8 492.1,1297.9 496.4,1296.0 500.6,1294.2 504.9,1292.5 509.2,1290.7 513.5,1288.9 517.7,1287.2 522.0,1285.5 526.3,1283.8 530.6,1282.3 534.9,1280.9 539.1,1279.6 543.4,1278.4 547.7,1277.1 552.0,1275.9 556.2,1274.6 560.5,1273.2 564.8,1271.9 569.1,1270.6 573.3,1269.3 577.6,1268.1 581.9,1267.0 586.2,1265.9 590.4,1264.9 594.7,1263.9 599.0,1262.9 603.3,1262.0 607.5,1261.0 611.8,1260.1 616.1,1259.2 620.4,1258.3 624.6,1257.3 628.9,1256.4 633.2,1255.4 637.5,1254.5 641.7,1253.5 646.0,1252.6 650.3,1251.6 654.6,1250.7 658.9,1249.7 663.1,1248.6 667.4,1247.4 671.7,1246.1 676.0,1244.9 680.2,1243.6 684.5,1242.3 688.8,1241.1 693.1,1239.8 697.3,1238.6 701.6,1237.4 705.9,1236.1 710.2,1234.8 714.4,1233.5 718.7,1232.1 723.0,1230.8 727.3,1229.4 731.5,1227.9 735.8,1226.4 740.1,1224.9 744.4,1223.4 748.6,1221.9 752.9,1220.3 757.2,1218.7 761.5,1217.1 765.7,1215.5 770.0,1213.9 774.3,1212.4 778.6,1210.8 782.9,1209.2 787.1,1207.6 791.4,1206.1 795.7,1204.5 800.0,1203.0 804.2,1201.5 808.5,1200.0 812.8,1198.6 817.1,1197.3 821.3,1196.1 825.6,1195.0 829.9,1193.9 834.2,1192.9 838.4,1191.9 842.7,1190.9 847.0,1189.9 851.3,1188.9 855.5,1188.1 859.8,1187.4 864.1,1186.7 868.4,1186.2 872.6,1185.8 876.9,1185.4 881.2,1185.1 885.5,1184.8 889.7,1184.6 894.0,1184.5 898.3,1184.4 902.6,1184.3 906.9,1184.3 911.1,1184.2" fill="none" stroke="#fa0505" stroke-width="2.3" stroke-linejoin="round" />
<polyline points="269.7,1574.6 274.0,1565.8 278.3,1556.9 282.6,1548.0 286.9,1539.4 291.1,1530.9 295.4,1522.5 299.7,1514.3 304.0,1506.2 308.2,1498.3 312.5,1490.6 316.8,1483.0 321.1,1475.6 325.3,1468.3 329.6,1461.3 333.9,1454.4 338.2,1447.6 342.4,1441.0 346.7,1434.6 351.0,1428.4 355.3,1422.3 359.5,1416.4 363.8,1410.8 368.1,1405.3 372.4,1399.8 376.6,1394.5 380.9,1389.1 385.2,1383.8 389.5,1378.7 393.7,1373.6 398.0,1368.7 402.3,1363.9 406.6,1359.3 410.9,1354.8 415.1,1350.4 419.4,1346.2 423.7,1342.2 428.0,1338.3 432.2,1334.6 436.5,1331.0 440.8,1327.6 445.1,1324.3 449.3,1321.1 453.6,1318.1 457.9,1315.1 462.2,1312.3 466.4,1309.6 470.7,1307.1 475.0,1304.6 479.3,1302.3 483.5,1300.1 487.8,1297.9 492.1,1295.9 496.4,1294.0 500.6,1292.2 504.9,1290.5 509.2,1288.7 513.5,1286.9 517.7,1285.1 522.0,1283.4 526.3,1281.8 530.6,1280.3 534.9,1278.9 539.1,1277.6 543.4,1276.4 547.7,1275.2 552.0,1273.9 556.2,1272.6 560.5,1271.3 564.8,1270.0 569.1,1268.8 573.3,1267.6 577.6,1266.4 581.9,1265.4 586.2,1264.4 590.4,1263.4 594.7,1262.4 599.0,1261.5 603.3,1260.6 607.5,1259.8 611.8,1259.0 616.1,1258.1 620.4,1257.3 624.6,1256.4 628.9,1255.6 633.2,1254.7 637.5,1253.8 641.7,1253.0 646.0,1252.2 650.3,1251.3 654.6,1250.5 658.9,1249.6 663.1,1248.6 667.4,1247.5 671.7,1246.4 676.0,1245.2 680.2,1244.0 684.5,1242.9 688.8,1241.7 693.1,1240.6 697.3,1239.5 701.6,1238.3 705.9,1237.1 710.2,1235.9 714.4,1234.7 718.7,1233.5 723.0,1232.2 727.3,1230.9 731.5,1229.6 735.8,1228.2 740.1,1226.8 744.4,1225.3 748.6,1223.9 752.9,1222.4 757.2,1220.9 761.5,1219.4 765.7,1217.9 770.0,1216.4 774.3,1214.8 778.6,1213.3 782.9,1211.8 787.1,1210.3 791.4,1208.8 795.7,1207.3 800.0,1205.8 804.2,1204.3 808.5,1202.9 812.8,1201.6 817.1,1200.3 821.3,1199.1 825.6,1198.0 829.9,1197.0 834.2,1196.0 838.4,1195.0 842.7,1194.0 847.0,1193.0 851.3,1192.1 855.5,1191.2 859.8,1190.5 864.1,1189.9 868.4,1189.4 872.6,1188.9 876.9,1188.5 881.2,1188.2 885.5,1187.9 889.7,1187.7 894.0,1187.5 898.3,1187.4 902.6,1187.3 906.9,1187.2 911.1,1187.0" fill="none" stroke="#f00000" stroke-width="2.3" stroke-linejoin="round" />
<polyline points="269.7,1574.7 274.0,1566.1 278.3,1557.5 282.6,1548.9 286.9,1540.5 291.1,1532.2 295.4,1523.9 299.7,1515.7 304.0,1507.8 308.2,1500.0 312.5,1492.3 316.8,1484.8 321.1,1477.4 325.3,1470.2 329.6,1463.2 333.9,1456.3 338.2,1449.6 342.4,1443.1 346.7,1436.7 351.0,1430.5 355.3,1424.5 359.5,1418.6 363.8,1413.0 368.1,1407.4 372.4,1402.0 376.6,1396.7 380.9,1391.3 385.2,1386.0 389.5,1380.8 393.7,1375.8 398.0,1370.8 402.3,1366.0 406.6,1361.4 410.9,1356.9 415.1,1352.5 419.4,1348.2 423.7,1344.2 428.0,1340.3 432.2,1336.5 436.5,1332.9 440.8,1329.4 445.1,1326.0 449.3,1322.8 453.6,1319.7 457.9,1316.7 462.2,1313.9 466.4,1311.1 470.7,1308.5 475.0,1306.0 479.3,1303.6 483.5,1301.3 487.8,1299.1 492.1,1297.0 496.4,1295.1 500.6,1293.2 504.9,1291.4 509.2,1289.5 513.5,1287.7 517.7,1285.8 522.0,1284.1 526.3,1282.4 530.6,1280.8 534.9,1279.3 539.1,1278.0 543.4,1276.7 547.7,1275.4 552.0,1274.1 556.2,1272.8 560.5,1271.4 564.8,1270.1 569.1,1268.8 573.3,1267.5 577.6,1266.4 581.9,1265.3 586.2,1264.2 590.4,1263.2 594.7,1262.3 599.0,1261.3 603.3,1260.4 607.5,1259.6 611.8,1258.8 616.1,1257.9 620.4,1257.1 624.6,1256.2 628.9,1255.4 633.2,1254.5 637.5,1253.7 641.7,1252.9 646.0,1252.1 650.3,1251.3 654.6,1250.5 658.9,1249.6 663.1,1248.7 667.4,1247.7 671.7,1246.6 676.0,1245.5 680.2,1244.4 684.5,1243.3 688.8,1242.2 693.1,1241.2 697.3,1240.2 701.6,1239.1 705.9,1238.0 710.2,1236.9 714.4,1235.8 718.7,1234.7 723.0,1233.6 727.3,1232.4 731.5,1231.2 735.8,1229.9 740.1,1228.6 744.4,1227.3 748.6,1225.9 752.9,1224.6 757.2,1223.2 761.5,1221.9 765.7,1220.5 770.0,1219.1 774.3,1217.8 778.6,1216.4 782.9,1215.0 787.1,1213.7 791.4,1212.3 795.7,1211.0 800.0,1209.7 804.2,1208.4 808.5,1207.1 812.8,1205.9 817.1,1204.8 821.3,1203.7 825.6,1202.8 829.9,1201.9 834.2,1201.0 838.4,1200.2 842.7,1199.3 847.0,1198.5 851.3,1197.8 855.5,1197.1 859.8,1196.5 864.1,1196.0 868.4,1195.6 872.6,1195.3 876.9,1195.1 881.2,1194.9 885.5,1194.7 889.7,1194.6 894.0,1194.6 898.3,1194.5 902.6,1194.5 906.9,1194.5 911.1,1194.4" fill="none" stroke="#e80808" stroke-width="2.3" stroke-linejoin="round" />
<polyline points="269.7,1574.7 274.0,1566.0 278.3,1557.2 282.6,1548.5 286.9,1540.0 291.1,1531.6 295.4,1523.3 299.7,1515.1 304.0,1507.1 308.2,1499.3 312.5,1491.6 316.8,1484.1 321.1,1476.7 325.3,1469.5 329.6,1462.5 333.9,1455.6 338.2,1449.0 342.4,1442.4 346.7,1436.1 351.0,1429.9 355.3,1423.9 359.5,1418.1 363.8,1412.4 368.1,1406.9 372.4,1401.6 376.6,1396.3 380.9,1391.0 385.2,1385.7 389.5,1380.6 393.7,1375.6 398.0,1370.7 402.3,1366.0 406.6,1361.4 410.9,1356.9 415.1,1352.6 419.4,1348.4 423.7,1344.4 428.0,1340.6 432.2,1336.9 436.5,1333.4 440.8,1329.9 445.1,1326.7 449.3,1323.5 453.6,1320.5 457.9,1317.6 462.2,1314.8 466.4,1312.2 470.7,1309.6 475.0,1307.2 479.3,1304.9 483.5,1302.7 487.8,1300.5 492.1,1298.6 496.4,1296.7 500.6,1294.9 504.9,1293.1 509.2,1291.4 513.5,1289.6 517.7,1287.9 522.0,1286.2 526.3,1284.5 530.6,1283.0 534.9,1281.6 539.1,1280.4 543.4,1279.1 547.7,1278.0 552.0,1276.7 556.2,1275.5 560.5,1274.2 564.8,1272.9 569.1,1271.6 573.3,1270.4 577.6,1269.3 581.9,1268.2 586.2,1267.2 590.4,1266.2 594.7,1265.3 599.0,1264.4 603.3,1263.5 607.5,1262.7 611.8,1261.9 616.1,1261.0 620.4,1260.2 624.6,1259.4 628.9,1258.5 633.2,1257.7 637.5,1256.8 641.7,1256.0 646.0,1255.1 650.3,1254.3 654.6,1253.5 658.9,1252.6 663.1,1251.6 667.4,1250.6 671.7,1249.4 676.0,1248.3 680.2,1247.1 684.5,1246.0 688.8,1244.9 693.1,1243.8 697.3,1242.7 701.6,1241.6 705.9,1240.5 710.2,1239.3 714.4,1238.1 718.7,1236.9 723.0,1235.7 727.3,1234.5 731.5,1233.1 735.8,1231.8 740.1,1230.4 744.4,1229.0 748.6,1227.6 752.9,1226.2 757.2,1224.8 761.5,1223.3 765.7,1221.9 770.0,1220.4 774.3,1219.0 778.6,1217.6 782.9,1216.1 787.1,1214.7 791.4,1213.3 795.7,1211.9 800.0,1210.5 804.2,1209.1 808.5,1207.7 812.8,1206.4 817.1,1205.3 821.3,1204.2 825.6,1203.2 829.9,1202.2 834.2,1201.3 838.4,1200.4 842.7,1199.5 847.0,1198.7 851.3,1197.9 855.5,1197.1 859.8,1196.5 864.1,1196.0 868.4,1195.6 872.6,1195.3 876.9,1195.0 881.2,1194.8 885.5,1194.7 889.7,1194.6 894.0,1194.5 898.3,1194.5 902.6,1194.5 906.9,1194.5 911.1,1194.5" fill="none" stroke="#ff0000" stroke-width="2.3" stroke-linejoin="round" />
<polyline points="269.7,1574.8 274.0,1566.3 278.3,1557.8 282.6,1549.2 286.9,1540.9 291.1,1532.6 295.4,1524.2 299.7,1516.0 304.0,1507.9 308.2,1500.0 312.5,1492.2 316.8,1484.6 321.1,1477.2 325.3,1469.9 329.6,1462.8 333.9,1455.8 338.2,1449.0 342.4,1442.4 346.7,1436.0 351.0,1429.7 355.3,1423.5 359.5,1417.6 363.8,1411.9 368.1,1406.3 372.4,1400.8 376.6,1395.4 380.9,1390.0 385.2,1384.6 389.5,1379.4 393.7,1374.2 398.0,1369.3 402.3,1364.4 406.6,1359.7 410.9,1355.2 415.1,1350.8 419.4,1346.5 423.7,1342.4 428.0,1338.5 432.2,1334.7 436.5,1331.1 440.8,1327.6 445.1,1324.2 449.3,1321.0 453.6,1317.9 457.9,1315.0 462.2,1312.1 466.4,1309.4 470.7,1306.8 475.0,1304.4 479.3,1302.0 483.5,1299.8 487.8,1297.6 492.1,1295.6 496.4,1293.7 500.6,1291.9 504.9,1290.2 509.2,1288.4 513.5,1286.6 517.7,1284.9 522.0,1283.2 526.3,1281.6 530.6,1280.1 534.9,1278.8 539.1,1277.5 543.4,1276.4 547.7,1275.2 552.0,1274.1 556.2,1272.9 560.5,1271.6 564.8,1270.4 569.1,1269.2 573.3,1268.1 577.6,1267.1 581.9,1266.2 586.2,1265.3 590.4,1264.4 594.7,1263.6 599.0,1262.8 603.3,1262.1 607.5,1261.4 611.8,1260.7 616.1,1260.0 620.4,1259.3 624.6,1258.6 628.9,1257.9 633.2,1257.2 637.5,1256.5 641.7,1255.8 646.0,1255.2 650.3,1254.5 654.6,1253.9 658.9,1253.2 663.1,1252.4 667.4,1251.5 671.7,1250.5 676.0,1249.6 680.2,1248.6 684.5,1247.6 688.8,1246.7 693.1,1245.8 697.3,1244.8 701.6,1243.9 705.9,1242.9 710.2,1241.9 714.4,1240.9 718.7,1239.9 723.0,1238.8 727.3,1237.7 731.5,1236.5 735.8,1235.3 740.1,1234.1 744.4,1232.8 748.6,1231.5 752.9,1230.3 757.2,1229.0 761.5,1227.7 765.7,1226.3 770.0,1225.0 774.3,1223.7 778.6,1222.4 782.9,1221.0 787.1,1219.7 791.4,1218.3 795.7,1217.0 800.0,1215.7 804.2,1214.4 808.5,1213.1 812.8,1211.9 817.1,1210.8 821.3,1209.7 825.6,1208.8 829.9,1207.8 834.2,1206.9 838.4,1206.0 842.7,1205.2 847.0,1204.4 851.3,1203.6 855.5,1202.9 859.8,1202.3 864.1,1201.8 868.4,1201.4 872.6,1201.1 876.9,1200.8 881.2,1200.5 885.5,1200.3 889.7,1200.2 894.0,1200.1 898.3,1200.0 902.6,1200.0 906.9,1199.9 911.1,1199.8" fill="none" stroke="#fa0505" stroke-width="2.3" stroke-linejoin="round" />
<polyline points="269.7,1574.8 274.0,1566.4 278.3,1558.0 282.6,1549.5 286.9,1541.2 291.1,1533.0 295.4,1524.7 299.7,1516.5 304.0,1508.5 308.2,1500.6 312.5,1492.9 316.8,1485.4 321.1,1478.0 325.3,1470.7 329.6,1463.7 333.9,1456.8 338.2,1450.1 342.4,1443.5 346.7,1437.2 351.0,1430.9 355.3,1424.9 359.5,1419.0 363.8,1413.4 368.1,1407.9 372.4,1402.5 376.6,1397.1 380.9,1391.8 385.2,1386.5 389.5,1381.4 393.7,1376.3 398.0,1371.4 402.3,1366.7 406.6,1362.1 410.9,1357.6 415.1,1353.2 419.4,1349.1 423.7,1345.1 428.0,1341.2 432.2,1337.5 436.5,1334.0 440.8,1330.5 445.1,1327.2 449.3,1324.1 453.6,1321.1 457.9,1318.2 462.2,1315.4 466.4,1312.8 470.7,1310.2 475.0,1307.8 479.3,1305.5 483.5,1303.3 487.8,1301.2 492.1,1299.2 496.4,1297.4 500.6,1295.6 504.9,1293.9 509.2,1292.1 513.5,1290.4 517.7,1288.7 522.0,1287.0 526.3,1285.4 530.6,1283.9 534.9,1282.5 539.1,1281.3 543.4,1280.1 547.7,1279.0 552.0,1277.8 556.2,1276.5 560.5,1275.3 564.8,1274.0 569.1,1272.8 573.3,1271.6 577.6,1270.5 581.9,1269.5 586.2,1268.5 590.4,1267.6 594.7,1266.7 599.0,1265.8 603.3,1265.0 607.5,1264.2 611.8,1263.4 616.1,1262.7 620.4,1261.9 624.6,1261.0 628.9,1260.2 633.2,1259.4 637.5,1258.6 641.7,1257.8 646.0,1257.0 650.3,1256.2 654.6,1255.4 658.9,1254.6 663.1,1253.6 667.4,1252.6 671.7,1251.5 676.0,1250.4 680.2,1249.3 684.5,1248.2 688.8,1247.1 693.1,1246.0 697.3,1244.9 701.6,1243.8 705.9,1242.7 710.2,1241.6 714.4,1240.4 718.7,1239.2 723.0,1238.0 727.3,1236.8 731.5,1235.5 735.8,1234.2 740.1,1232.8 744.4,1231.4 748.6,1230.0 752.9,1228.6 757.2,1227.2 761.5,1225.8 765.7,1224.3 770.0,1222.9 774.3,1221.4 778.6,1220.0 782.9,1218.6 787.1,1217.1 791.4,1215.7 795.7,1214.3 800.0,1212.9 804.2,1211.5 808.5,1210.2 812.8,1208.9 817.1,1207.7 821.3,1206.7 825.6,1205.7 829.9,1204.7 834.2,1203.8 838.4,1202.9 842.7,1202.0 847.0,1201.2 851.3,1200.4 855.5,1199.7 859.8,1199.1 864.1,1198.6 868.4,1198.2 872.6,1197.9 876.9,1197.6 881.2,1197.4 885.5,1197.3 889.7,1197.2 894.0,1197.2 898.3,1197.2 902.6,1197.3 906.9,1197.3 911.1,1197.3" fill="none" stroke="#e80808" stroke-width="2.3" stroke-linejoin="round" />
<polyline points="269.7,1575.1 274.0,1567.0 278.3,1558.9 282.6,1550.8 286.9,1542.9 291.1,1534.9 295.4,1526.6 299.7,1518.4 304.0,1510.5 308.2,1502.7 312.5,1495.0 316.8,1487.5 321.1,1480.1 325.3,1472.9 329.6,1465.8 333.9,1459.0 338.2,1452.3 342.4,1445.7 346.7,1439.3 351.0,1433.1 355.3,1427.1 359.5,1421.2 363.8,1415.5 368.1,1410.0 372.4,1404.6 376.6,1399.2 380.9,1393.9 385.2,1388.6 389.5,1383.5 393.7,1378.4 398.0,1373.5 402.3,1368.7 406.6,1364.1 410.9,1359.6 415.1,1355.2 419.4,1351.1 423.7,1347.0 428.0,1343.2 432.2,1339.4 436.5,1335.9 440.8,1332.4 445.1,1329.1 449.3,1325.9 453.6,1322.9 457.9,1320.0 462.2,1317.2 466.4,1314.5 470.7,1312.0 475.0,1309.6 479.3,1307.2 483.5,1305.0 487.8,1302.9 492.1,1300.9 496.4,1299.1 500.6,1297.3 504.9,1295.5 509.2,1293.8 513.5,1292.1 517.7,1290.3 522.0,1288.6 526.3,1287.0 530.6,1285.5 534.9,1284.2 539.1,1282.9 543.4,1281.8 547.7,1280.6 552.0,1279.4 556.2,1278.2 560.5,1276.9 564.8,1275.7 569.1,1274.5 573.3,1273.3 577.6,1272.3 581.9,1271.3 586.2,1270.3 590.4,1269.4 594.7,1268.5 599.0,1267.7 603.3,1266.9 607.5,1266.1 611.8,1265.3 616.1,1264.6 620.4,1263.8 624.6,1263.0 628.9,1262.2 633.2,1261.4 637.5,1260.6 641.7,1259.9 646.0,1259.1 650.3,1258.3 654.6,1257.6 658.9,1256.7 663.1,1255.8 667.4,1254.8 671.7,1253.8 676.0,1252.7 680.2,1251.6 684.5,1250.5 688.8,1249.5 693.1,1248.4 697.3,1247.4 701.6,1246.3 705.9,1245.2 710.2,1244.1 714.4,1243.0 718.7,1241.8 723.0,1240.6 727.3,1239.4 731.5,1238.1 735.8,1236.8 740.1,1235.5 744.4,1234.1 748.6,1232.7 752.9,1231.3 757.2,1229.9 761.5,1228.5 765.7,1227.1 770.0,1225.7 774.3,1224.3 778.6,1222.8 782.9,1221.4 787.1,1220.0 791.4,1218.6 795.7,1217.2 800.0,1215.8 804.2,1214.4 808.5,1213.0 812.8,1211.7 817.1,1210.6 821.3,1209.5 825.6,1208.4 829.9,1207.5 834.2,1206.5 838.4,1205.6 842.7,1204.7 847.0,1203.9 851.3,1203.1 855.5,1202.3 859.8,1201.7 864.1,1201.2 868.4,1200.8 872.6,1200.4 876.9,1200.1 881.2,1199.9 885.5,1199.7 889.7,1199.6 894.0,1199.5 898.3,1199.5 902.6,1199.4 906.9,1199.4 911.1,1199.3" fill="none" stroke="#e80808" stroke-width="2.3" stroke-linejoin="round" />
<polyline points="269.7,1575.1 274.0,1567.1 278.3,1559.1 282.6,1551.1 286.9,1543.2 291.1,1535.3 295.4,1527.0 299.7,1518.8 304.0,1510.9 308.2,1503.1 312.5,1495.4 316.8,1487.9 321.1,1480.5 325.3,1473.3 329.6,1466.3 333.9,1459.4 338.2,1452.7 342.4,1446.1 346.7,1439.8 351.0,1433.6 355.3,1427.5 359.5,1421.7 363.8,1416.0 368.1,1410.5 372.4,1405.1 376.6,1399.7 380.9,1394.4 385.2,1389.2 389.5,1384.0 393.7,1379.0 398.0,1374.1 402.3,1369.3 406.6,1364.7 410.9,1360.3 415.1,1355.9 419.4,1351.8 423.7,1347.8 428.0,1343.9 432.2,1340.3 436.5,1336.7 440.8,1333.3 445.1,1330.0 449.3,1326.9 453.6,1323.9 457.9,1321.1 462.2,1318.3 466.4,1315.7 470.7,1313.2 475.0,1310.8 479.3,1308.5 483.5,1306.3 487.8,1304.3 492.1,1302.4 496.4,1300.6 500.6,1298.8 504.9,1297.1 509.2,1295.5 513.5,1293.8 517.7,1292.1 522.0,1290.5 526.3,1288.9 530.6,1287.5 534.9,1286.2 539.1,1285.0 543.4,1283.9 547.7,1282.8 552.0,1281.7 556.2,1280.5 560.5,1279.3 564.8,1278.1 569.1,1277.0 573.3,1275.9 577.6,1274.9 581.9,1274.0 586.2,1273.1 590.4,1272.2 594.7,1271.4 599.0,1270.6 603.3,1269.9 607.5,1269.1 611.8,1268.4 616.1,1267.7 620.4,1267.0 624.6,1266.3 628.9,1265.5 633.2,1264.8 637.5,1264.0 641.7,1263.3 646.0,1262.6 650.3,1261.9 654.6,1261.1 658.9,1260.3 663.1,1259.4 667.4,1258.5 671.7,1257.4 676.0,1256.4 680.2,1255.3 684.5,1254.3 688.8,1253.2 693.1,1252.2 697.3,1251.1 701.6,1250.1 705.9,1249.0 710.2,1247.9 714.4,1246.8 718.7,1245.6 723.0,1244.4 727.3,1243.2 731.5,1241.9 735.8,1240.6 740.1,1239.2 744.4,1237.8 748.6,1236.4 752.9,1235.0 757.2,1233.6 761.5,1232.2 765.7,1230.8 770.0,1229.3 774.3,1227.9 778.6,1226.4 782.9,1225.0 787.1,1223.5 791.4,1222.1 795.7,1220.6 800.0,1219.2 804.2,1217.8 808.5,1216.4 812.8,1215.1 817.1,1213.8 821.3,1212.7 825.6,1211.6 829.9,1210.6 834.2,1209.6 838.4,1208.6 842.7,1207.7 847.0,1206.8 851.3,1206.0 855.5,1205.2 859.8,1204.5 864.1,1204.0 868.4,1203.5 872.6,1203.1 876.9,1202.8 881.2,1202.5 885.5,1202.2 889.7,1202.0 894.0,1201.9 898.3,1201.8 902.6,1201.7 906.9,1201.6 911.1,1201.5" fill="none" stroke="#ff1010" stroke-width="2.3" stroke-linejoin="round" />
<polyline points="269.7,1575.0 274.0,1566.9 278.3,1558.7 282.6,1550.6 286.9,1542.7 291.1,1534.8 295.4,1526.5 299.7,1518.5 304.0,1510.6 308.2,1502.9 312.5,1495.3 316.8,1487.9 321.1,1480.6 325.3,1473.5 329.6,1466.6 333.9,1459.9 338.2,1453.3 342.4,1446.9 346.7,1440.6 351.0,1434.5 355.3,1428.6 359.5,1422.9 363.8,1417.3 368.1,1412.0 372.4,1406.7 376.6,1401.4 380.9,1396.2 385.2,1391.1 389.5,1386.0 393.7,1381.1 398.0,1376.3 402.3,1371.7 406.6,1367.2 410.9,1362.8 415.1,1358.6 419.4,1354.5 423.7,1350.6 428.0,1346.8 432.2,1343.2 436.5,1339.8 440.8,1336.4 445.1,1333.2 449.3,1330.2 453.6,1327.2 457.9,1324.4 462.2,1321.7 466.4,1319.0 470.7,1316.5 475.0,1314.1 479.3,1311.8 483.5,1309.5 487.8,1307.4 492.1,1305.5 496.4,1303.6 500.6,1301.9 504.9,1300.1 509.2,1298.4 513.5,1296.6 517.7,1294.9 522.0,1293.2 526.3,1291.6 530.6,1290.1 534.9,1288.8 539.1,1287.5 543.4,1286.3 547.7,1285.2 552.0,1284.0 556.2,1282.7 560.5,1281.5 564.8,1280.2 569.1,1279.0 573.3,1277.8 577.6,1276.7 581.9,1275.7 586.2,1274.7 590.4,1273.8 594.7,1272.9 599.0,1272.0 603.3,1271.2 607.5,1270.4 611.8,1269.6 616.1,1268.9 620.4,1268.1 624.6,1267.2 628.9,1266.4 633.2,1265.6 637.5,1264.8 641.7,1264.0 646.0,1263.2 650.3,1262.5 654.6,1261.7 658.9,1260.8 663.1,1259.9 667.4,1258.9 671.7,1257.8 676.0,1256.7 680.2,1255.6 684.5,1254.5 688.8,1253.5 693.1,1252.4 697.3,1251.3 701.6,1250.2 705.9,1249.0 710.2,1247.9 714.4,1246.7 718.7,1245.5 723.0,1244.2 727.3,1243.0 731.5,1241.7 735.8,1240.3 740.1,1238.9 744.4,1237.5 748.6,1236.1 752.9,1234.7 757.2,1233.3 761.5,1231.9 765.7,1230.4 770.0,1229.0 774.3,1227.6 778.6,1226.2 782.9,1224.8 787.1,1223.4 791.4,1222.0 795.7,1220.6 800.0,1219.3 804.2,1217.9 808.5,1216.6 812.8,1215.4 817.1,1214.2 821.3,1213.2 825.6,1212.2 829.9,1211.3 834.2,1210.4 838.4,1209.6 842.7,1208.8 847.0,1208.1 851.3,1207.4 855.5,1206.8 859.8,1206.3 864.1,1205.9 868.4,1205.6 872.6,1205.4 876.9,1205.3 881.2,1205.2 885.5,1205.2 889.7,1205.2 894.0,1205.3 898.3,1205.4 902.6,1205.5 906.9,1205.7 911.1,1205.8" fill="none" stroke="#fa0505" stroke-width="2.3" stroke-linejoin="round" />
<polyline points="269.7,1575.2 274.0,1567.4 278.3,1559.5 282.6,1551.7 286.9,1544.1 291.1,1536.4 295.4,1528.2 299.7,1520.1 304.0,1512.2 308.2,1504.5 312.5,1497.0 316.8,1489.5 321.1,1482.2 325.3,1475.1 329.6,1468.1 333.9,1461.3 338.2,1454.7 342.4,1448.3 346.7,1442.0 351.0,1435.9 355.3,1429.9 359.5,1424.1 363.8,1418.5 368.1,1413.1 372.4,1407.7 376.6,1402.5 380.9,1397.2 385.2,1392.0 389.5,1386.9 393.7,1381.9 398.0,1377.1 402.3,1372.4 406.6,1367.8 410.9,1363.4 415.1,1359.1 419.4,1355.0 423.7,1351.0 428.0,1347.2 432.2,1343.6 436.5,1340.1 440.8,1336.7 445.1,1333.4 449.3,1330.3 453.6,1327.3 457.9,1324.4 462.2,1321.7 466.4,1319.0 470.7,1316.5 475.0,1314.1 479.3,1311.8 483.5,1309.5 487.8,1307.4 492.1,1305.5 496.4,1303.6 500.6,1301.9 504.9,1300.1 509.2,1298.4 513.5,1296.6 517.7,1294.9 522.0,1293.2 526.3,1291.6 530.6,1290.1 534.9,1288.8 539.1,1287.5 543.4,1286.3 547.7,1285.2 552.0,1284.0 556.2,1282.7 560.5,1281.5 564.8,1280.2 569.1,1279.0 573.3,1277.8 577.6,1276.7 581.9,1275.7 586.2,1274.7 590.4,1273.8 594.7,1272.9 599.0,1272.0 603.3,1271.2 607.5,1270.4 611.8,1269.6 616.1,1268.9 620.4,1268.1 624.6,1267.2 628.9,1266.4 633.2,1265.6 637.5,1264.8 641.7,1264.0 646.0,1263.2 650.3,1262.5 654.6,1261.7 658.9,1260.8 663.1,1259.9 667.4,1258.9 671.7,1257.8 676.0,1256.7 680.2,1255.6 684.5,1254.5 688.8,1253.5 693.1,1252.4 697.3,1251.4 701.6,1250.3 705.9,1249.2 710.2,1248.1 714.4,1247.0 718.7,1245.8 723.0,1244.6 727.3,1243.4 731.5,1242.2 735.8,1240.9 740.1,1239.5 744.4,1238.2 748.6,1236.8 752.9,1235.5 757.2,1234.1 761.5,1232.7 765.7,1231.4 770.0,1230.0 774.3,1228.6 778.6,1227.2 782.9,1225.9 787.1,1224.5 791.4,1223.2 795.7,1221.8 800.0,1220.5 804.2,1219.2 808.5,1217.9 812.8,1216.7 817.1,1215.6 821.3,1214.6 825.6,1213.6 829.9,1212.7 834.2,1211.9 838.4,1211.0 842.7,1210.3 847.0,1209.5 851.3,1208.9 855.5,1208.3 859.8,1207.8 864.1,1207.4 868.4,1207.1 872.6,1206.9 876.9,1206.8 881.2,1206.7 885.5,1206.6 889.7,1206.6 894.0,1206.7 898.3,1206.8 902.6,1206.9 906.9,1207.0 911.1,1207.1" fill="none" stroke="#ff0000" stroke-width="2.3" stroke-linejoin="round" />
<polyline points="269.7,1574.4 274.0,1561.8 278.3,1548.9 282.6,1536.2 286.9,1524.2 291.1,1513.4 295.4,1503.6 299.7,1494.6 304.0,1486.1 308.2,1477.7 312.5,1469.2 316.8,1460.7 321.1,1452.4 325.3,1444.3 329.6,1436.4 333.9,1428.8 338.2,1421.5 342.4,1414.5 346.7,1407.7 351.0,1401.2 355.3,1394.7 359.5,1388.4 363.8,1382.3 368.1,1376.3 372.4,1370.5 376.6,1364.8 380.9,1359.1 385.2,1353.5 389.5,1348.1 393.7,1342.8 398.0,1337.7 402.3,1332.9 406.6,1328.3 410.9,1323.8 415.1,1319.5 419.4,1315.3 423.7,1311.1 428.0,1306.9 432.2,1302.8 436.5,1298.9 440.8,1295.0 445.1,1291.3 449.3,1287.7 453.6,1284.3 457.9,1280.9 462.2,1277.6 466.4,1274.4 470.7,1271.3 475.0,1268.2 479.3,1265.2 483.5,1262.4 487.8,1259.7 492.1,1257.1 496.4,1254.6 500.6,1252.3 504.9,1250.0 509.2,1247.8 513.5,1245.8 517.7,1243.8 522.0,1242.0 526.3,1240.2 530.6,1238.5 534.9,1236.8 539.1,1235.2 543.4,1233.7 547.7,1232.2 552.0,1230.8 556.2,1229.4 560.5,1228.1 564.8,1226.8 569.1,1225.6 573.3,1224.4 577.6,1223.2 581.9,1222.0 586.2,1220.9 590.4,1219.8 594.7,1218.8 599.0,1217.8 603.3,1217.0 607.5,1216.2 611.8,1215.4 616.1,1214.5 620.4,1213.5 624.6,1212.3 628.9,1211.2 633.2,1209.9 637.5,1208.6 641.7,1207.4 646.0,1206.0 650.3,1204.7 654.6,1203.3 658.9,1201.9 663.1,1200.5 667.4,1199.0 671.7,1197.5 676.0,1196.0 680.2,1194.6 684.5,1193.2 688.8,1191.9 693.1,1190.7 697.3,1189.4 701.6,1188.2 705.9,1186.8 710.2,1185.3 714.4,1183.8 718.7,1182.2 723.0,1180.6 727.3,1179.1 731.5,1177.6 735.8,1176.2 740.1,1174.8 744.4,1173.3 748.6,1171.8 752.9,1170.2 757.2,1168.5 761.5,1166.7 765.7,1165.0 770.0,1163.3 774.3,1161.6 778.6,1160.0 782.9,1158.5 787.1,1156.9 791.4,1155.5 795.7,1154.1 800.0,1152.8 804.2,1151.5 808.5,1150.3 812.8,1149.3 817.1,1148.5 821.3,1147.9 825.6,1147.6 829.9,1147.3 834.2,1146.9 838.4,1146.5 842.7,1146.0 847.0,1145.5 851.3,1144.9 855.5,1144.4 859.8,1143.9 864.1,1143.5 868.4,1143.0 872.6,1142.6 876.9,1142.2 881.2,1141.8 885.5,1141.4 889.7,1140.9 894.0,1140.5 898.3,1140.1 902.6,1139.7 906.9,1139.2 911.1,1138.8" fill="none" stroke="#f26a6a" stroke-width="3.6" stroke-linejoin="round" opacity="0.8"/>
<polyline points="269.7,1574.4 274.0,1561.8 278.3,1548.9 282.6,1536.2 286.9,1524.2 291.1,1513.4 295.4,1503.6 299.7,1494.6 304.0,1486.1 308.2,1477.7 312.5,1469.2 316.8,1460.7 321.1,1452.4 325.3,1444.3 329.6,1436.4 333.9,1428.8 338.2,1421.5 342.4,1414.5 346.7,1407.7 351.0,1401.2 355.3,1394.7 359.5,1388.4 363.8,1382.3 368.1,1376.3 372.4,1370.5 376.6,1364.8 380.9,1359.1 385.2,1353.5 389.5,1348.1 393.7,1342.8 398.0,1337.7 402.3,1332.9 406.6,1328.3 410.9,1323.8 415.1,1319.5 419.4,1315.3 423.7,1311.1 428.0,1306.9 432.2,1302.8 436.5,1298.9 440.8,1295.0 445.1,1291.3 449.3,1287.7 453.6,1284.3 457.9,1280.9 462.2,1277.6 466.4,1274.4 470.7,1271.3 475.0,1268.2 479.3,1265.2 483.5,1262.4 487.8,1259.7 492.1,1257.1 496.4,1254.6 500.6,1252.3 504.9,1250.0 509.2,1247.8 513.5,1245.8 517.7,1243.8 522.0,1242.0 526.3,1240.2 530.6,1238.5 534.9,1236.8 539.1,1235.2 543.4,1233.7 547.7,1232.2 552.0,1230.8 556.2,1229.4 560.5,1228.1 564.8,1226.8 569.1,1225.6 573.3,1224.4 577.6,1223.2 581.9,1222.0 586.2,1220.9 590.4,1219.8 594.7,1218.8 599.0,1217.8 603.3,1217.0 607.5,1216.2 611.8,1215.4 616.1,1214.5 620.4,1213.5 624.6,1212.3 628.9,1211.2 633.2,1209.9 637.5,1208.6 641.7,1207.4 646.0,1206.0 650.3,1204.7 654.6,1203.3 658.9,1201.9 663.1,1200.5 667.4,1199.0 671.7,1197.5 676.0,1196.0 680.2,1194.6 684.5,1193.2 688.8,1191.9 693.1,1190.7 697.3,1189.4 701.6,1188.2 705.9,1186.8 710.2,1185.3 714.4,1183.8 718.7,1182.2 723.0,1180.6 727.3,1179.1 731.5,1177.6 735.8,1176.2 740.1,1174.8 744.4,1173.3 748.6,1171.8 752.9,1170.2 757.2,1168.5 761.5,1166.7 765.7,1165.0 770.0,1163.3 774.3,1161.6 778.6,1160.0 782.9,1158.5 787.1,1156.9 791.4,1155.5 795.7,1154.1 800.0,1152.8 804.2,1151.5 808.5,1150.3 812.8,1149.3 817.1,1148.5 821.3,1147.9 825.6,1147.6 829.9,1147.3 834.2,1146.9 838.4,1146.5 842.7,1146.0 847.0,1145.5 851.3,1144.9 855.5,1144.4 859.8,1143.9 864.1,1143.5 868.4,1143.0 872.6,1142.6 876.9,1142.2 881.2,1141.8 885.5,1141.4 889.7,1140.9 894.0,1140.5 898.3,1140.1 902.6,1139.7 906.9,1139.2 911.1,1138.8" fill="none" stroke="#c81e1e" stroke-width="1.7" stroke-linejoin="round" />
<polyline points="269.7,1574.4 274.0,1562.3 278.3,1549.9 282.6,1537.8 286.9,1526.2 291.1,1515.7 295.4,1506.1 299.7,1497.1 304.0,1488.6 308.2,1480.2 312.5,1471.9 316.8,1463.5 321.1,1455.4 325.3,1447.4 329.6,1439.7 333.9,1432.3 338.2,1425.2 342.4,1418.4 346.7,1411.8 351.0,1405.4 355.3,1399.1 359.5,1392.9 363.8,1386.8 368.1,1380.9 372.4,1375.2 376.6,1369.6 380.9,1364.0 385.2,1358.7 389.5,1353.4 393.7,1348.3 398.0,1343.4 402.3,1338.6 406.6,1334.1 410.9,1329.8 415.1,1325.6 419.4,1321.4 423.7,1317.3 428.0,1313.2 432.2,1309.2 436.5,1305.3 440.8,1301.5 445.1,1297.9 449.3,1294.4 453.6,1291.1 457.9,1287.8 462.2,1284.6 466.4,1281.5 470.7,1278.4 475.0,1275.4 479.3,1272.5 483.5,1269.8 487.8,1267.1 492.1,1264.7 496.4,1262.3 500.6,1260.0 504.9,1257.9 509.2,1255.7 513.5,1253.6 517.7,1251.6 522.0,1249.6 526.3,1247.7 530.6,1245.9 534.9,1244.3 539.1,1242.8 543.4,1241.4 547.7,1240.0 552.0,1238.7 556.2,1237.3 560.5,1235.9 564.8,1234.6 569.1,1233.4 573.3,1232.2 577.6,1231.2 581.9,1230.3 586.2,1229.4 590.4,1228.7 594.7,1227.9 599.0,1227.2 603.3,1226.5 607.5,1225.9 611.8,1225.2 616.1,1224.5 620.4,1223.7 624.6,1222.8 628.9,1221.8 633.2,1220.9 637.5,1219.9 641.7,1218.9 646.0,1217.9 650.3,1216.9 654.6,1215.9 658.9,1214.8 663.1,1213.7 667.4,1212.5 671.7,1211.2 676.0,1209.8 680.2,1208.5 684.5,1207.2 688.8,1206.0 693.1,1204.7 697.3,1203.4 701.6,1202.1 705.9,1200.8 710.2,1199.5 714.4,1198.1 718.7,1196.7 723.0,1195.3 727.3,1194.0 731.5,1192.6 735.8,1191.3 740.1,1189.9 744.4,1188.5 748.6,1187.1 752.9,1185.7 757.2,1184.2 761.5,1182.7 765.7,1181.1 770.0,1179.5 774.3,1177.7 778.6,1175.7 782.9,1173.7 787.1,1171.7 791.4,1170.0 795.7,1168.6 800.0,1167.3 804.2,1166.3 808.5,1165.4 812.8,1164.6 817.1,1163.8 821.3,1163.2 825.6,1162.8 829.9,1162.3 834.2,1161.9 838.4,1161.3 842.7,1160.7 847.0,1160.1 851.3,1159.5 855.5,1158.9 859.8,1158.4 864.1,1157.9 868.4,1157.5 872.6,1157.1 876.9,1156.7 881.2,1156.2 885.5,1155.8 889.7,1155.4 894.0,1155.0 898.3,1154.5 902.6,1154.1 906.9,1153.7 911.1,1153.3" fill="none" stroke="#f26a6a" stroke-width="3.6" stroke-linejoin="round" opacity="0.8"/>
<polyline points="269.7,1574.4 274.0,1562.3 278.3,1549.9 282.6,1537.8 286.9,1526.2 291.1,1515.7 295.4,1506.1 299.7,1497.1 304.0,1488.6 308.2,1480.2 312.5,1471.9 316.8,1463.5 321.1,1455.4 325.3,1447.4 329.6,1439.7 333.9,1432.3 338.2,1425.2 342.4,1418.4 346.7,1411.8 351.0,1405.4 355.3,1399.1 359.5,1392.9 363.8,1386.8 368.1,1380.9 372.4,1375.2 376.6,1369.6 380.9,1364.0 385.2,1358.7 389.5,1353.4 393.7,1348.3 398.0,1343.4 402.3,1338.6 406.6,1334.1 410.9,1329.8 415.1,1325.6 419.4,1321.4 423.7,1317.3 428.0,1313.2 432.2,1309.2 436.5,1305.3 440.8,1301.5 445.1,1297.9 449.3,1294.4 453.6,1291.1 457.9,1287.8 462.2,1284.6 466.4,1281.5 470.7,1278.4 475.0,1275.4 479.3,1272.5 483.5,1269.8 487.8,1267.1 492.1,1264.7 496.4,1262.3 500.6,1260.0 504.9,1257.9 509.2,1255.7 513.5,1253.6 517.7,1251.6 522.0,1249.6 526.3,1247.7 530.6,1245.9 534.9,1244.3 539.1,1242.8 543.4,1241.4 547.7,1240.0 552.0,1238.7 556.2,1237.3 560.5,1235.9 564.8,1234.6 569.1,1233.4 573.3,1232.2 577.6,1231.2 581.9,1230.3 586.2,1229.4 590.4,1228.7 594.7,1227.9 599.0,1227.2 603.3,1226.5 607.5,1225.9 611.8,1225.2 616.1,1224.5 620.4,1223.7 624.6,1222.8 628.9,1221.8 633.2,1220.9 637.5,1219.9 641.7,1218.9 646.0,1217.9 650.3,1216.9 654.6,1215.9 658.9,1214.8 663.1,1213.7 667.4,1212.5 671.7,1211.2 676.0,1209.8 680.2,1208.5 684.5,1207.2 688.8,1206.0 693.1,1204.7 697.3,1203.4 701.6,1202.1 705.9,1200.8 710.2,1199.5 714.4,1198.1 718.7,1196.7 723.0,1195.3 727.3,1194.0 731.5,1192.6 735.8,1191.3 740.1,1189.9 744.4,1188.5 748.6,1187.1 752.9,1185.7 757.2,1184.2 761.5,1182.7 765.7,1181.1 770.0,1179.5 774.3,1177.7 778.6,1175.7 782.9,1173.7 787.1,1171.7 791.4,1170.0 795.7,1168.6 800.0,1167.3 804.2,1166.3 808.5,1165.4 812.8,1164.6 817.1,1163.8 821.3,1163.2 825.6,1162.8 829.9,1162.3 834.2,1161.9 838.4,1161.3 842.7,1160.7 847.0,1160.1 851.3,1159.5 855.5,1158.9 859.8,1158.4 864.1,1157.9 868.4,1157.5 872.6,1157.1 876.9,1156.7 881.2,1156.2 885.5,1155.8 889.7,1155.4 894.0,1155.0 898.3,1154.5 902.6,1154.1 906.9,1153.7 911.1,1153.3" fill="none" stroke="#c81e1e" stroke-width="1.7" stroke-linejoin="round" />
</g>
<line x1="198.0" y1="1080.6" x2="912.8" y2="1080.6" stroke="#000" stroke-width="4.6"/>
<line x1="199.0" y1="1080.6" x2="199.0" y2="1604.6" stroke="#4a4a4a" stroke-width="2.8"/>
<line x1="911.8" y1="1080.6" x2="911.8" y2="1604.6" stroke="#4a4a4a" stroke-width="2.8"/>
<line x1="198.0" y1="1604.6" x2="912.8" y2="1604.6" stroke="#4a4a4a" stroke-width="2.8"/>
<line x1="199.0" y1="1604.6" x2="199.0" y2="1617.1" stroke="#4a4a4a" stroke-width="3.0"/>
<line x1="270.3" y1="1604.6" x2="270.3" y2="1610.1" stroke="#4a4a4a" stroke-width="2.8"/>
<line x1="341.6" y1="1604.6" x2="341.6" y2="1617.1" stroke="#4a4a4a" stroke-width="3.0"/>
<line x1="412.8" y1="1604.6" x2="412.8" y2="1610.1" stroke="#4a4a4a" stroke-width="2.8"/>
<line x1="484.1" y1="1604.6" x2="484.1" y2="1617.1" stroke="#4a4a4a" stroke-width="3.0"/>
<line x1="555.4" y1="1604.6" x2="555.4" y2="1610.1" stroke="#4a4a4a" stroke-width="2.8"/>
<line x1="626.7" y1="1604.6" x2="626.7" y2="1617.1" stroke="#4a4a4a" stroke-width="3.0"/>
<line x1="698.0" y1="1604.6" x2="698.0" y2="1610.1" stroke="#4a4a4a" stroke-width="2.8"/>
<line x1="769.2" y1="1604.6" x2="769.2" y2="1617.1" stroke="#4a4a4a" stroke-width="3.0"/>
<line x1="840.5" y1="1604.6" x2="840.5" y2="1610.1" stroke="#4a4a4a" stroke-width="2.8"/>
<line x1="911.8" y1="1604.6" x2="911.8" y2="1617.1" stroke="#4a4a4a" stroke-width="3.0"/>
<text x="186.8" y="1654.9" font-size="36.5" fill="#222" textLength="25.0" lengthAdjust="spacingAndGlyphs">0</text>
<text x="309.8" y="1654.9" font-size="36.5" fill="#222" textLength="66.5" lengthAdjust="spacingAndGlyphs">100</text>
<text x="452.4" y="1654.9" font-size="36.5" fill="#222" textLength="66.5" lengthAdjust="spacingAndGlyphs">200</text>
<text x="594.9" y="1654.9" font-size="36.5" fill="#222" textLength="66.5" lengthAdjust="spacingAndGlyphs">300</text>
<text x="737.5" y="1654.9" font-size="36.5" fill="#222" textLength="66.5" lengthAdjust="spacingAndGlyphs">400</text>
<text x="880.0" y="1654.9" font-size="36.5" fill="#222" textLength="66.5" lengthAdjust="spacingAndGlyphs">500</text>
<text x="397.2" y="1706.3" font-size="36.3" fill="#2a2a2a" textLength="312.0" lengthAdjust="spacingAndGlyphs">Temperature (°C)</text>
<text transform="translate(136.3,1364.5) rotate(-90)" font-size="40.5" text-anchor="middle" fill="#111" textLength="254.5" lengthAdjust="spacingAndGlyphs">Deflection (V)</text>
<text x="55.3" y="1065.5" font-size="64.0" textLength="50.0" lengthAdjust="spacingAndGlyphs">c)</text>
<clipPath id="clipd"><rect x="1352.5" y="1080.6" width="712.6999999999998" height="524.5"/></clipPath>
<g clip-path="url(#clipd)" fill="none">
<polyline points="1422.8,1563.5 1422.6,1541.6 1421.7,1511.4 1421.3,1498.2 1421.9,1487.3 1424.6,1477.5 1427.2,1467.9 1429.8,1458.4 1432.4,1449.0 1435.1,1439.8 1437.7,1430.7 1440.3,1421.7 1443.0,1412.9 1445.6,1404.2 1448.2,1395.7 1450.8,1387.2 1453.5,1378.9 1456.1,1370.8 1458.7,1362.7 1461.3,1354.9 1464.0,1347.1 1466.6,1339.5 1469.2,1332.0 1471.8,1324.6 1474.5,1317.4 1477.1,1310.3 1479.7,1303.3 1482.4,1296.4 1485.0,1289.7 1487.6,1283.2 1490.2,1276.7 1492.9,1270.4 1495.5,1264.2 1498.1,1258.1 1500.7,1252.2 1503.4,1246.4 1506.0,1240.7 1508.6,1235.2 1511.2,1229.8 1513.9,1224.5 1516.5,1219.3 1519.1,1214.3 1521.8,1209.4 1524.4,1204.6 1527.0,1200.0 1529.6,1195.4 1532.3,1191.0 1534.9,1186.7 1537.5,1182.6 1540.1,1178.6 1542.8,1174.7 1545.4,1170.9 1548.0,1167.2 1550.7,1163.7 1553.3,1160.3 1555.9,1157.0 1558.5,1153.9 1561.2,1150.8 1563.8,1147.9 1566.4,1145.1 1569.0,1142.4 1571.7,1139.9 1574.3,1137.4 1576.9,1135.1 1579.5,1132.9 1582.2,1130.8 1584.8,1128.9 1587.4,1127.0 1590.1,1125.3 1592.7,1123.7 1595.3,1122.2 1597.9,1120.8 1600.6,1119.5 1603.2,1118.3 1605.8,1117.3 1608.4,1116.3 1611.1,1115.5 1613.7,1114.8 1616.3,1114.2 1618.9,1113.6 1621.6,1113.2 1624.2,1112.9 1626.8,1112.7 1629.5,1112.6 1632.1,1112.5 1634.7,1112.6 1637.3,1112.7 1640.0,1112.9 1642.6,1113.2 1645.2,1113.6 1647.8,1114.1 1650.5,1114.6 1653.1,1115.2 1655.7,1115.9 1658.3,1116.7 1661.0,1117.6 1663.6,1118.5 1666.2,1119.5 1668.9,1120.6 1671.5,1121.8 1674.1,1123.0 1676.7,1124.3 1679.4,1125.6 1682.0,1127.0 1684.6,1128.5 1687.2,1130.1 1689.9,1131.6 1692.5,1133.3 1695.1,1135.0 1697.8,1136.7 1700.4,1138.5 1703.0,1140.3 1705.6,1142.2 1708.3,1144.1 1710.9,1146.0 1713.5,1148.0 1716.1,1150.0 1718.8,1152.0 1721.4,1154.0 1724.0,1156.0 1726.6,1158.1 1729.3,1160.1 1731.9,1162.2 1734.5,1164.3 1737.2,1166.3 1739.8,1168.4 1742.4,1170.4 1745.0,1172.5 1747.7,1174.5 1750.3,1176.5 1752.9,1178.4 1755.5,1180.4 1758.2,1182.3 1760.8,1184.2 1763.4,1186.0 1766.0,1187.9 1768.7,1189.6 1771.3,1191.4 1773.9,1193.0 1776.6,1194.7 1779.2,1196.2 1781.8,1197.7 1784.4,1199.2 1787.1,1200.6 1789.7,1201.9 1792.3,1203.2 1794.9,1204.4 1797.6,1205.5 1800.2,1206.6 1802.8,1207.6 1805.5,1208.5 1808.1,1209.3 1810.7,1210.1 1813.3,1210.8 1816.0,1211.4 1818.6,1211.9 1821.2,1212.3 1823.8,1212.7 1826.5,1212.9 1829.1,1213.1 1831.7,1213.2 1834.3,1213.2 1837.0,1213.2 1839.6,1213.0 1842.2,1212.8 1844.9,1212.5 1847.5,1212.1 1850.1,1211.7 1852.7,1211.1 1855.4,1210.5 1858.0,1209.8 1860.6,1209.1 1863.2,1208.3 1865.9,1207.4 1868.5,1206.5 1871.1,1205.5 1873.7,1204.4 1876.4,1203.3 1879.0,1202.2 1881.6,1201.0 1884.3,1199.8 1886.9,1198.5 1889.5,1197.2 1892.1,1195.8 1894.8,1194.5 1897.4,1193.1 1900.0,1191.7 1902.6,1190.3 1905.3,1188.8 1907.9,1187.4 1910.5,1186.0 1913.1,1184.5 1915.8,1183.1 1918.4,1181.7 1921.0,1180.3 1923.7,1179.0 1926.3,1177.6 1928.9,1176.3 1931.5,1175.0 1934.2,1173.8 1936.8,1172.6 1939.4,1171.5 1942.0,1170.4 1944.7,1169.3 1947.3,1168.3 1949.9,1167.4 1952.6,1166.5 1955.2,1165.7 1957.8,1165.0 1960.4,1164.3 1963.1,1163.7 1965.7,1163.1 1968.3,1162.7 1970.9,1162.3 1973.6,1162.0 1976.2,1161.8 1978.8,1161.6 1981.4,1161.6 1984.1,1161.6 1986.7,1161.6 1989.3,1161.6 1992.0,1161.6 1994.6,1161.6 1997.2,1161.6 1999.8,1161.6 2002.5,1161.6 2005.1,1161.6 2007.7,1161.6 2010.3,1161.6 2013.0,1161.6 2015.6,1161.6 2018.2,1161.6 2020.8,1161.6 2023.5,1161.6 2026.1,1161.6 2028.7,1161.6 2031.4,1161.6 2034.0,1161.6 2036.6,1161.6 2039.2,1161.6 2041.9,1161.6 2044.5,1161.6 2047.1,1161.6 2049.7,1161.6 2052.4,1161.6 2055.0,1161.6 2057.6,1161.6 2060.3,1161.6 2062.9,1161.6 2065.5,1161.6" fill="none" stroke="#8a8af0" stroke-width="3.6" stroke-linejoin="round" opacity="0.35"/>
<polyline points="1422.8,1563.5 1422.6,1541.6 1421.7,1511.4 1421.3,1498.2 1421.9,1487.3 1424.6,1477.5 1427.2,1467.9 1429.8,1458.4 1432.4,1449.0 1435.1,1439.8 1437.7,1430.7 1440.3,1421.7 1443.0,1412.9 1445.6,1404.2 1448.2,1395.7 1450.8,1387.2 1453.5,1378.9 1456.1,1370.8 1458.7,1362.7 1461.3,1354.9 1464.0,1347.1 1466.6,1339.5 1469.2,1332.0 1471.8,1324.6 1474.5,1317.4 1477.1,1310.3 1479.7,1303.3 1482.4,1296.4 1485.0,1289.7 1487.6,1283.2 1490.2,1276.7 1492.9,1270.4 1495.5,1264.2 1498.1,1258.1 1500.7,1252.2 1503.4,1246.4 1506.0,1240.7 1508.6,1235.2 1511.2,1229.8 1513.9,1224.5 1516.5,1219.3 1519.1,1214.3 1521.8,1209.4 1524.4,1204.6 1527.0,1200.0 1529.6,1195.4 1532.3,1191.0 1534.9,1186.7 1537.5,1182.6 1540.1,1178.6 1542.8,1174.7 1545.4,1170.9 1548.0,1167.2 1550.7,1163.7 1553.3,1160.3 1555.9,1157.0 1558.5,1153.9 1561.2,1150.8 1563.8,1147.9 1566.4,1145.1 1569.0,1142.4 1571.7,1139.9 1574.3,1137.4 1576.9,1135.1 1579.5,1132.9 1582.2,1130.8 1584.8,1128.9 1587.4,1127.0 1590.1,1125.3 1592.7,1123.7 1595.3,1122.2 1597.9,1120.8 1600.6,1119.5 1603.2,1118.3 1605.8,1117.3 1608.4,1116.3 1611.1,1115.5 1613.7,1114.8 1616.3,1114.2 1618.9,1113.6 1621.6,1113.2 1624.2,1112.9 1626.8,1112.7 1629.5,1112.6 1632.1,1112.5 1634.7,1112.6 1637.3,1112.7 1640.0,1112.9 1642.6,1113.2 1645.2,1113.6 1647.8,1114.1 1650.5,1114.6 1653.1,1115.2 1655.7,1115.9 1658.3,1116.7 1661.0,1117.6 1663.6,1118.5 1666.2,1119.5 1668.9,1120.6 1671.5,1121.8 1674.1,1123.0 1676.7,1124.3 1679.4,1125.6 1682.0,1127.0 1684.6,1128.5 1687.2,1130.1 1689.9,1131.6 1692.5,1133.3 1695.1,1135.0 1697.8,1136.7 1700.4,1138.5 1703.0,1140.3 1705.6,1142.2 1708.3,1144.1 1710.9,1146.0 1713.5,1148.0 1716.1,1150.0 1718.8,1152.0 1721.4,1154.0 1724.0,1156.0 1726.6,1158.1 1729.3,1160.1 1731.9,1162.2 1734.5,1164.3 1737.2,1166.3 1739.8,1168.4 1742.4,1170.4 1745.0,1172.5 1747.7,1174.5 1750.3,1176.5 1752.9,1178.4 1755.5,1180.4 1758.2,1182.3 1760.8,1184.2 1763.4,1186.0 1766.0,1187.9 1768.7,1189.6 1771.3,1191.4 1773.9,1193.0 1776.6,1194.7 1779.2,1196.2 1781.8,1197.7 1784.4,1199.2 1787.1,1200.6 1789.7,1201.9 1792.3,1203.2 1794.9,1204.4 1797.6,1205.5 1800.2,1206.6 1802.8,1207.6 1805.5,1208.5 1808.1,1209.3 1810.7,1210.1 1813.3,1210.8 1816.0,1211.4 1818.6,1211.9 1821.2,1212.3 1823.8,1212.7 1826.5,1212.9 1829.1,1213.1 1831.7,1213.2 1834.3,1213.2 1837.0,1213.2 1839.6,1213.0 1842.2,1212.8 1844.9,1212.5 1847.5,1212.1 1850.1,1211.7 1852.7,1211.1 1855.4,1210.5 1858.0,1209.8 1860.6,1209.1 1863.2,1208.3 1865.9,1207.4 1868.5,1206.5 1871.1,1205.5 1873.7,1204.4 1876.4,1203.3 1879.0,1202.2 1881.6,1201.0 1884.3,1199.8 1886.9,1198.5 1889.5,1197.2 1892.1,1195.8 1894.8,1194.5 1897.4,1193.1 1900.0,1191.7 1902.6,1190.3 1905.3,1188.8 1907.9,1187.4 1910.5,1186.0 1913.1,1184.5 1915.8,1183.1 1918.4,1181.7 1921.0,1180.3 1923.7,1179.0 1926.3,1177.6 1928.9,1176.3 1931.5,1175.0 1934.2,1173.8 1936.8,1172.6 1939.4,1171.5 1942.0,1170.4 1944.7,1169.3 1947.3,1168.3 1949.9,1167.4 1952.6,1166.5 1955.2,1165.7 1957.8,1165.0 1960.4,1164.3 1963.1,1163.7 1965.7,1163.1 1968.3,1162.7 1970.9,1162.3 1973.6,1162.0 1976.2,1161.8 1978.8,1161.6 1981.4,1161.6 1984.1,1161.6 1986.7,1161.6 1989.3,1161.6 1992.0,1161.6 1994.6,1161.6 1997.2,1161.6 1999.8,1161.6 2002.5,1161.6 2005.1,1161.6 2007.7,1161.6 2010.3,1161.6 2013.0,1161.6 2015.6,1161.6 2018.2,1161.6 2020.8,1161.6 2023.5,1161.6 2026.1,1161.6 2028.7,1161.6 2031.4,1161.6 2034.0,1161.6 2036.6,1161.6 2039.2,1161.6 2041.9,1161.6 2044.5,1161.6 2047.1,1161.6 2049.7,1161.6 2052.4,1161.6 2055.0,1161.6 2057.6,1161.6 2060.3,1161.6 2062.9,1161.6 2065.5,1161.6" fill="none" stroke="#3a36d6" stroke-width="2.1" stroke-linejoin="round" opacity="0.95"/>
<polyline points="1422.8,1563.5 1422.6,1541.6 1421.7,1513.3 1421.3,1500.2 1421.9,1489.2 1424.6,1479.7 1427.2,1470.4 1429.8,1461.2 1432.4,1452.1 1435.1,1443.2 1437.7,1434.3 1440.3,1425.6 1443.0,1417.1 1445.6,1408.6 1448.2,1400.3 1450.8,1392.1 1453.5,1384.0 1456.1,1376.1 1458.7,1368.3 1461.3,1360.6 1464.0,1353.0 1466.6,1345.5 1469.2,1338.2 1471.8,1331.0 1474.5,1323.9 1477.1,1317.0 1479.7,1310.2 1482.4,1303.5 1485.0,1296.9 1487.6,1290.4 1490.2,1284.1 1492.9,1277.9 1495.5,1271.8 1498.1,1265.8 1500.7,1260.0 1503.4,1254.2 1506.0,1248.6 1508.6,1243.2 1511.2,1237.8 1513.9,1232.6 1516.5,1227.4 1519.1,1222.4 1521.8,1217.6 1524.4,1212.8 1527.0,1208.2 1529.6,1203.7 1532.3,1199.3 1534.9,1195.0 1537.5,1190.8 1540.1,1186.8 1542.8,1182.9 1545.4,1179.1 1548.0,1175.4 1550.7,1171.8 1553.3,1168.4 1555.9,1165.0 1558.5,1161.8 1561.2,1158.7 1563.8,1155.7 1566.4,1152.8 1569.0,1150.1 1571.7,1147.4 1574.3,1144.9 1576.9,1142.5 1579.5,1140.2 1582.2,1138.0 1584.8,1135.9 1587.4,1134.0 1590.1,1132.1 1592.7,1130.4 1595.3,1128.7 1597.9,1127.2 1600.6,1125.8 1603.2,1124.5 1605.8,1123.3 1608.4,1122.2 1611.1,1121.2 1613.7,1120.3 1616.3,1119.6 1618.9,1118.9 1621.6,1118.3 1624.2,1117.9 1626.8,1117.5 1629.5,1117.2 1632.1,1117.0 1634.7,1116.9 1637.3,1116.9 1640.0,1117.0 1642.6,1117.1 1645.2,1117.3 1647.8,1117.6 1650.5,1118.0 1653.1,1118.4 1655.7,1118.9 1658.3,1119.5 1661.0,1120.2 1663.6,1120.9 1666.2,1121.7 1668.9,1122.6 1671.5,1123.5 1674.1,1124.5 1676.7,1125.6 1679.4,1126.7 1682.0,1127.9 1684.6,1129.1 1687.2,1130.4 1689.9,1131.8 1692.5,1133.2 1695.1,1134.7 1697.8,1136.2 1700.4,1137.7 1703.0,1139.3 1705.6,1141.0 1708.3,1142.7 1710.9,1144.4 1713.5,1146.1 1716.1,1147.9 1718.8,1149.7 1721.4,1151.6 1724.0,1153.4 1726.6,1155.3 1729.3,1157.2 1731.9,1159.1 1734.5,1161.0 1737.2,1162.9 1739.8,1164.9 1742.4,1166.8 1745.0,1168.7 1747.7,1170.7 1750.3,1172.6 1752.9,1174.5 1755.5,1176.4 1758.2,1178.3 1760.8,1180.2 1763.4,1182.0 1766.0,1183.8 1768.7,1185.6 1771.3,1187.4 1773.9,1189.1 1776.6,1190.8 1779.2,1192.4 1781.8,1194.1 1784.4,1195.6 1787.1,1197.2 1789.7,1198.6 1792.3,1200.1 1794.9,1201.4 1797.6,1202.8 1800.2,1204.0 1802.8,1205.2 1805.5,1206.4 1808.1,1207.5 1810.7,1208.5 1813.3,1209.5 1816.0,1210.3 1818.6,1211.2 1821.2,1211.9 1823.8,1212.6 1826.5,1213.2 1829.1,1213.7 1831.7,1214.2 1834.3,1214.6 1837.0,1214.9 1839.6,1215.1 1842.2,1215.3 1844.9,1215.4 1847.5,1215.4 1850.1,1215.4 1852.7,1215.3 1855.4,1215.2 1858.0,1215.0 1860.6,1214.8 1863.2,1214.5 1865.9,1214.2 1868.5,1213.9 1871.1,1213.5 1873.7,1212.9 1876.4,1212.8 1879.0,1213.6 1881.6,1211.4 1884.3,1211.0 1886.9,1210.6 1889.5,1208.6 1892.1,1209.0 1894.8,1208.7 1897.4,1208.6 1900.0,1205.3 1902.6,1205.3 1905.3,1203.7 1907.9,1205.4 1910.5,1204.1 1913.1,1201.0 1915.8,1203.3 1918.4,1202.4 1921.0,1200.4 1923.7,1199.3 1926.3,1196.7 1928.9,1195.3 1931.5,1196.1 1934.2,1193.5 1936.8,1193.0 1939.4,1192.2 1942.0,1190.5 1944.7,1191.1 1947.3,1190.1 1949.9,1190.6 1952.6,1188.5 1955.2,1188.1 1957.8,1186.7 1960.4,1186.4 1963.1,1184.8 1965.7,1183.4 1968.3,1185.1 1970.9,1184.3 1973.6,1183.0 1976.2,1181.9 1978.8,1179.8 1981.4,1178.8 1984.1,1178.4 1986.7,1177.1 1989.3,1179.0 1992.0,1177.2 1994.6,1178.3 1997.2,1176.2 1999.8,1177.9 2002.5,1177.1 2005.1,1173.9 2007.7,1174.3 2010.3,1176.6 2013.0,1174.8 2015.6,1176.5 2018.2,1174.4 2020.8,1173.2 2023.5,1174.7 2026.1,1174.7 2028.7,1174.7 2031.4,1174.7 2034.0,1174.7 2036.6,1174.7 2039.2,1174.7 2041.9,1174.7 2044.5,1174.7 2047.1,1174.7 2049.7,1174.7 2052.4,1174.7 2055.0,1174.7 2057.6,1174.7 2060.3,1174.7 2062.9,1174.7 2065.5,1174.7" fill="none" stroke="#8a8af0" stroke-width="3.6" stroke-linejoin="round" opacity="0.35"/>
<polyline points="1422.8,1563.5 1422.6,1541.6 1421.7,1513.3 1421.3,1500.2 1421.9,1489.2 1424.6,1479.7 1427.2,1470.4 1429.8,1461.2 1432.4,1452.1 1435.1,1443.2 1437.7,1434.3 1440.3,1425.6 1443.0,1417.1 1445.6,1408.6 1448.2,1400.3 1450.8,1392.1 1453.5,1384.0 1456.1,1376.1 1458.7,1368.3 1461.3,1360.6 1464.0,1353.0 1466.6,1345.5 1469.2,1338.2 1471.8,1331.0 1474.5,1323.9 1477.1,1317.0 1479.7,1310.2 1482.4,1303.5 1485.0,1296.9 1487.6,1290.4 1490.2,1284.1 1492.9,1277.9 1495.5,1271.8 1498.1,1265.8 1500.7,1260.0 1503.4,1254.2 1506.0,1248.6 1508.6,1243.2 1511.2,1237.8 1513.9,1232.6 1516.5,1227.4 1519.1,1222.4 1521.8,1217.6 1524.4,1212.8 1527.0,1208.2 1529.6,1203.7 1532.3,1199.3 1534.9,1195.0 1537.5,1190.8 1540.1,1186.8 1542.8,1182.9 1545.4,1179.1 1548.0,1175.4 1550.7,1171.8 1553.3,1168.4 1555.9,1165.0 1558.5,1161.8 1561.2,1158.7 1563.8,1155.7 1566.4,1152.8 1569.0,1150.1 1571.7,1147.4 1574.3,1144.9 1576.9,1142.5 1579.5,1140.2 1582.2,1138.0 1584.8,1135.9 1587.4,1134.0 1590.1,1132.1 1592.7,1130.4 1595.3,1128.7 1597.9,1127.2 1600.6,1125.8 1603.2,1124.5 1605.8,1123.3 1608.4,1122.2 1611.1,1121.2 1613.7,1120.3 1616.3,1119.6 1618.9,1118.9 1621.6,1118.3 1624.2,1117.9 1626.8,1117.5 1629.5,1117.2 1632.1,1117.0 1634.7,1116.9 1637.3,1116.9 1640.0,1117.0 1642.6,1117.1 1645.2,1117.3 1647.8,1117.6 1650.5,1118.0 1653.1,1118.4 1655.7,1118.9 1658.3,1119.5 1661.0,1120.2 1663.6,1120.9 1666.2,1121.7 1668.9,1122.6 1671.5,1123.5 1674.1,1124.5 1676.7,1125.6 1679.4,1126.7 1682.0,1127.9 1684.6,1129.1 1687.2,1130.4 1689.9,1131.8 1692.5,1133.2 1695.1,1134.7 1697.8,1136.2 1700.4,1137.7 1703.0,1139.3 1705.6,1141.0 1708.3,1142.7 1710.9,1144.4 1713.5,1146.1 1716.1,1147.9 1718.8,1149.7 1721.4,1151.6 1724.0,1153.4 1726.6,1155.3 1729.3,1157.2 1731.9,1159.1 1734.5,1161.0 1737.2,1162.9 1739.8,1164.9 1742.4,1166.8 1745.0,1168.7 1747.7,1170.7 1750.3,1172.6 1752.9,1174.5 1755.5,1176.4 1758.2,1178.3 1760.8,1180.2 1763.4,1182.0 1766.0,1183.8 1768.7,1185.6 1771.3,1187.4 1773.9,1189.1 1776.6,1190.8 1779.2,1192.4 1781.8,1194.1 1784.4,1195.6 1787.1,1197.2 1789.7,1198.6 1792.3,1200.1 1794.9,1201.4 1797.6,1202.8 1800.2,1204.0 1802.8,1205.2 1805.5,1206.4 1808.1,1207.5 1810.7,1208.5 1813.3,1209.5 1816.0,1210.3 1818.6,1211.2 1821.2,1211.9 1823.8,1212.6 1826.5,1213.2 1829.1,1213.7 1831.7,1214.2 1834.3,1214.6 1837.0,1214.9 1839.6,1215.1 1842.2,1215.3 1844.9,1215.4 1847.5,1215.4 1850.1,1215.4 1852.7,1215.3 1855.4,1215.2 1858.0,1215.0 1860.6,1214.8 1863.2,1214.5 1865.9,1214.2 1868.5,1213.9 1871.1,1213.5 1873.7,1212.9 1876.4,1212.8 1879.0,1213.6 1881.6,1211.4 1884.3,1211.0 1886.9,1210.6 1889.5,1208.6 1892.1,1209.0 1894.8,1208.7 1897.4,1208.6 1900.0,1205.3 1902.6,1205.3 1905.3,1203.7 1907.9,1205.4 1910.5,1204.1 1913.1,1201.0 1915.8,1203.3 1918.4,1202.4 1921.0,1200.4 1923.7,1199.3 1926.3,1196.7 1928.9,1195.3 1931.5,1196.1 1934.2,1193.5 1936.8,1193.0 1939.4,1192.2 1942.0,1190.5 1944.7,1191.1 1947.3,1190.1 1949.9,1190.6 1952.6,1188.5 1955.2,1188.1 1957.8,1186.7 1960.4,1186.4 1963.1,1184.8 1965.7,1183.4 1968.3,1185.1 1970.9,1184.3 1973.6,1183.0 1976.2,1181.9 1978.8,1179.8 1981.4,1178.8 1984.1,1178.4 1986.7,1177.1 1989.3,1179.0 1992.0,1177.2 1994.6,1178.3 1997.2,1176.2 1999.8,1177.9 2002.5,1177.1 2005.1,1173.9 2007.7,1174.3 2010.3,1176.6 2013.0,1174.8 2015.6,1176.5 2018.2,1174.4 2020.8,1173.2 2023.5,1174.7 2026.1,1174.7 2028.7,1174.7 2031.4,1174.7 2034.0,1174.7 2036.6,1174.7 2039.2,1174.7 2041.9,1174.7 2044.5,1174.7 2047.1,1174.7 2049.7,1174.7 2052.4,1174.7 2055.0,1174.7 2057.6,1174.7 2060.3,1174.7 2062.9,1174.7 2065.5,1174.7" fill="none" stroke="#3a36d6" stroke-width="2.1" stroke-linejoin="round" opacity="0.95"/>
<polyline points="1422.8,1563.5 1422.6,1541.6 1421.7,1515.2 1421.3,1502.1 1421.9,1491.1 1424.6,1482.1 1427.2,1473.3 1429.8,1464.5 1432.4,1455.9 1435.1,1447.3 1437.7,1438.9 1440.3,1430.6 1443.0,1422.4 1445.6,1414.4 1448.2,1406.4 1450.8,1398.6 1453.5,1390.8 1456.1,1383.2 1458.7,1375.7 1461.3,1368.3 1464.0,1361.0 1466.6,1353.9 1469.2,1346.8 1471.8,1339.9 1474.5,1333.1 1477.1,1326.3 1479.7,1319.7 1482.4,1313.3 1485.0,1306.9 1487.6,1300.6 1490.2,1294.5 1492.9,1288.4 1495.5,1282.5 1498.1,1276.7 1500.7,1270.9 1503.4,1265.3 1506.0,1259.9 1508.6,1254.5 1511.2,1249.2 1513.9,1244.0 1516.5,1239.0 1519.1,1234.1 1521.8,1229.2 1524.4,1224.5 1527.0,1219.9 1529.6,1215.4 1532.3,1211.0 1534.9,1206.7 1537.5,1202.6 1540.1,1198.5 1542.8,1194.5 1545.4,1190.7 1548.0,1186.9 1550.7,1183.3 1553.3,1179.8 1555.9,1176.4 1558.5,1173.1 1561.2,1169.8 1563.8,1166.7 1566.4,1163.8 1569.0,1160.9 1571.7,1158.1 1574.3,1155.4 1576.9,1152.8 1579.5,1150.4 1582.2,1148.0 1584.8,1145.7 1587.4,1143.6 1590.1,1141.5 1592.7,1139.6 1595.3,1137.7 1597.9,1136.0 1600.6,1134.3 1603.2,1132.8 1605.8,1131.3 1608.4,1130.0 1611.1,1128.8 1613.7,1127.6 1616.3,1126.6 1618.9,1125.6 1621.6,1124.8 1624.2,1124.0 1626.8,1123.4 1629.5,1122.8 1632.1,1122.3 1634.7,1121.9 1637.3,1121.6 1640.0,1121.4 1642.6,1121.3 1645.2,1121.3 1647.8,1121.3 1650.5,1121.4 1653.1,1121.6 1655.7,1121.9 1658.3,1122.2 1661.0,1122.6 1663.6,1123.1 1666.2,1123.7 1668.9,1124.3 1671.5,1125.0 1674.1,1125.8 1676.7,1126.6 1679.4,1127.5 1682.0,1128.5 1684.6,1129.5 1687.2,1130.6 1689.9,1131.7 1692.5,1132.9 1695.1,1134.2 1697.8,1135.5 1700.4,1136.9 1703.0,1138.3 1705.6,1139.8 1708.3,1141.3 1710.9,1142.9 1713.5,1144.5 1716.1,1146.1 1718.8,1147.8 1721.4,1149.5 1724.0,1151.3 1726.6,1153.1 1729.3,1154.9 1731.9,1156.7 1734.5,1158.5 1737.2,1160.4 1739.8,1162.3 1742.4,1164.2 1745.0,1166.1 1747.7,1168.0 1750.3,1169.9 1752.9,1171.8 1755.5,1173.7 1758.2,1175.6 1760.8,1177.5 1763.4,1179.4 1766.0,1181.2 1768.7,1183.1 1771.3,1184.9 1773.9,1186.7 1776.6,1188.5 1779.2,1190.2 1781.8,1191.9 1784.4,1193.6 1787.1,1195.3 1789.7,1196.9 1792.3,1198.5 1794.9,1200.0 1797.6,1201.4 1800.2,1202.9 1802.8,1204.3 1805.5,1205.6 1808.1,1206.8 1810.7,1208.1 1813.3,1209.2 1816.0,1210.3 1818.6,1211.3 1821.2,1212.3 1823.8,1213.2 1826.5,1214.0 1829.1,1214.8 1831.7,1215.5 1834.3,1216.1 1837.0,1216.7 1839.6,1217.1 1842.2,1217.5 1844.9,1217.9 1847.5,1218.1 1850.1,1218.3 1852.7,1218.4 1855.4,1218.5 1858.0,1218.4 1860.6,1218.3 1863.2,1218.0 1865.9,1217.7 1868.5,1217.2 1871.1,1216.7 1873.7,1216.0 1876.4,1215.3 1879.0,1214.4 1881.6,1213.5 1884.3,1212.5 1886.9,1211.5 1889.5,1210.3 1892.1,1209.1 1894.8,1207.8 1897.4,1206.5 1900.0,1205.1 1902.6,1203.7 1905.3,1202.3 1907.9,1200.8 1910.5,1199.3 1913.1,1197.8 1915.8,1196.2 1918.4,1194.7 1921.0,1193.2 1923.7,1191.7 1926.3,1190.2 1928.9,1188.7 1931.5,1187.2 1934.2,1185.8 1936.8,1184.5 1939.4,1183.2 1942.0,1181.9 1944.7,1180.7 1947.3,1179.6 1949.9,1178.6 1952.6,1177.6 1955.2,1176.7 1957.8,1175.9 1960.4,1175.2 1963.1,1174.6 1965.7,1174.1 1968.3,1173.6 1970.9,1173.3 1973.6,1173.1 1976.2,1173.0 1978.8,1173.0 1981.4,1173.0 1984.1,1173.0 1986.7,1173.0 1989.3,1173.0 1992.0,1173.0 1994.6,1173.0 1997.2,1173.0 1999.8,1173.0 2002.5,1173.0 2005.1,1173.0 2007.7,1173.0 2010.3,1173.0 2013.0,1173.0 2015.6,1173.0 2018.2,1173.0 2020.8,1173.0 2023.5,1173.0 2026.1,1173.0 2028.7,1173.0 2031.4,1173.0 2034.0,1173.0 2036.6,1173.0 2039.2,1173.0 2041.9,1173.0 2044.5,1173.0 2047.1,1173.0 2049.7,1173.0 2052.4,1173.0 2055.0,1173.0 2057.6,1173.0 2060.3,1173.0 2062.9,1173.0 2065.5,1173.0" fill="none" stroke="#8a8af0" stroke-width="3.6" stroke-linejoin="round" opacity="0.35"/>
<polyline points="1422.8,1563.5 1422.6,1541.6 1421.7,1515.2 1421.3,1502.1 1421.9,1491.1 1424.6,1482.1 1427.2,1473.3 1429.8,1464.5 1432.4,1455.9 1435.1,1447.3 1437.7,1438.9 1440.3,1430.6 1443.0,1422.4 1445.6,1414.4 1448.2,1406.4 1450.8,1398.6 1453.5,1390.8 1456.1,1383.2 1458.7,1375.7 1461.3,1368.3 1464.0,1361.0 1466.6,1353.9 1469.2,1346.8 1471.8,1339.9 1474.5,1333.1 1477.1,1326.3 1479.7,1319.7 1482.4,1313.3 1485.0,1306.9 1487.6,1300.6 1490.2,1294.5 1492.9,1288.4 1495.5,1282.5 1498.1,1276.7 1500.7,1270.9 1503.4,1265.3 1506.0,1259.9 1508.6,1254.5 1511.2,1249.2 1513.9,1244.0 1516.5,1239.0 1519.1,1234.1 1521.8,1229.2 1524.4,1224.5 1527.0,1219.9 1529.6,1215.4 1532.3,1211.0 1534.9,1206.7 1537.5,1202.6 1540.1,1198.5 1542.8,1194.5 1545.4,1190.7 1548.0,1186.9 1550.7,1183.3 1553.3,1179.8 1555.9,1176.4 1558.5,1173.1 1561.2,1169.8 1563.8,1166.7 1566.4,1163.8 1569.0,1160.9 1571.7,1158.1 1574.3,1155.4 1576.9,1152.8 1579.5,1150.4 1582.2,1148.0 1584.8,1145.7 1587.4,1143.6 1590.1,1141.5 1592.7,1139.6 1595.3,1137.7 1597.9,1136.0 1600.6,1134.3 1603.2,1132.8 1605.8,1131.3 1608.4,1130.0 1611.1,1128.8 1613.7,1127.6 1616.3,1126.6 1618.9,1125.6 1621.6,1124.8 1624.2,1124.0 1626.8,1123.4 1629.5,1122.8 1632.1,1122.3 1634.7,1121.9 1637.3,1121.6 1640.0,1121.4 1642.6,1121.3 1645.2,1121.3 1647.8,1121.3 1650.5,1121.4 1653.1,1121.6 1655.7,1121.9 1658.3,1122.2 1661.0,1122.6 1663.6,1123.1 1666.2,1123.7 1668.9,1124.3 1671.5,1125.0 1674.1,1125.8 1676.7,1126.6 1679.4,1127.5 1682.0,1128.5 1684.6,1129.5 1687.2,1130.6 1689.9,1131.7 1692.5,1132.9 1695.1,1134.2 1697.8,1135.5 1700.4,1136.9 1703.0,1138.3 1705.6,1139.8 1708.3,1141.3 1710.9,1142.9 1713.5,1144.5 1716.1,1146.1 1718.8,1147.8 1721.4,1149.5 1724.0,1151.3 1726.6,1153.1 1729.3,1154.9 1731.9,1156.7 1734.5,1158.5 1737.2,1160.4 1739.8,1162.3 1742.4,1164.2 1745.0,1166.1 1747.7,1168.0 1750.3,1169.9 1752.9,1171.8 1755.5,1173.7 1758.2,1175.6 1760.8,1177.5 1763.4,1179.4 1766.0,1181.2 1768.7,1183.1 1771.3,1184.9 1773.9,1186.7 1776.6,1188.5 1779.2,1190.2 1781.8,1191.9 1784.4,1193.6 1787.1,1195.3 1789.7,1196.9 1792.3,1198.5 1794.9,1200.0 1797.6,1201.4 1800.2,1202.9 1802.8,1204.3 1805.5,1205.6 1808.1,1206.8 1810.7,1208.1 1813.3,1209.2 1816.0,1210.3 1818.6,1211.3 1821.2,1212.3 1823.8,1213.2 1826.5,1214.0 1829.1,1214.8 1831.7,1215.5 1834.3,1216.1 1837.0,1216.7 1839.6,1217.1 1842.2,1217.5 1844.9,1217.9 1847.5,1218.1 1850.1,1218.3 1852.7,1218.4 1855.4,1218.5 1858.0,1218.4 1860.6,1218.3 1863.2,1218.0 1865.9,1217.7 1868.5,1217.2 1871.1,1216.7 1873.7,1216.0 1876.4,1215.3 1879.0,1214.4 1881.6,1213.5 1884.3,1212.5 1886.9,1211.5 1889.5,1210.3 1892.1,1209.1 1894.8,1207.8 1897.4,1206.5 1900.0,1205.1 1902.6,1203.7 1905.3,1202.3 1907.9,1200.8 1910.5,1199.3 1913.1,1197.8 1915.8,1196.2 1918.4,1194.7 1921.0,1193.2 1923.7,1191.7 1926.3,1190.2 1928.9,1188.7 1931.5,1187.2 1934.2,1185.8 1936.8,1184.5 1939.4,1183.2 1942.0,1181.9 1944.7,1180.7 1947.3,1179.6 1949.9,1178.6 1952.6,1177.6 1955.2,1176.7 1957.8,1175.9 1960.4,1175.2 1963.1,1174.6 1965.7,1174.1 1968.3,1173.6 1970.9,1173.3 1973.6,1173.1 1976.2,1173.0 1978.8,1173.0 1981.4,1173.0 1984.1,1173.0 1986.7,1173.0 1989.3,1173.0 1992.0,1173.0 1994.6,1173.0 1997.2,1173.0 1999.8,1173.0 2002.5,1173.0 2005.1,1173.0 2007.7,1173.0 2010.3,1173.0 2013.0,1173.0 2015.6,1173.0 2018.2,1173.0 2020.8,1173.0 2023.5,1173.0 2026.1,1173.0 2028.7,1173.0 2031.4,1173.0 2034.0,1173.0 2036.6,1173.0 2039.2,1173.0 2041.9,1173.0 2044.5,1173.0 2047.1,1173.0 2049.7,1173.0 2052.4,1173.0 2055.0,1173.0 2057.6,1173.0 2060.3,1173.0 2062.9,1173.0 2065.5,1173.0" fill="none" stroke="#3a36d6" stroke-width="2.1" stroke-linejoin="round" opacity="0.95"/>
<polyline points="1422.8,1563.5 1422.6,1541.6 1421.7,1522.9 1421.3,1509.7 1421.9,1498.8 1424.6,1490.2 1427.2,1481.8 1429.8,1473.4 1432.4,1465.2 1435.1,1457.0 1437.7,1449.0 1440.3,1441.0 1443.0,1433.2 1445.6,1425.5 1448.2,1417.8 1450.8,1410.3 1453.5,1402.9 1456.1,1395.6 1458.7,1388.4 1461.3,1381.3 1464.0,1374.3 1466.6,1367.4 1469.2,1360.6 1471.8,1353.9 1474.5,1347.3 1477.1,1340.9 1479.7,1334.5 1482.4,1328.2 1485.0,1322.1 1487.6,1316.0 1490.2,1310.0 1492.9,1304.2 1495.5,1298.4 1498.1,1292.8 1500.7,1287.2 1503.4,1281.8 1506.0,1276.5 1508.6,1271.2 1511.2,1266.1 1513.9,1261.1 1516.5,1256.1 1519.1,1251.3 1521.8,1246.6 1524.4,1242.0 1527.0,1237.5 1529.6,1233.1 1532.3,1228.8 1534.9,1224.5 1537.5,1220.4 1540.1,1216.4 1542.8,1212.5 1545.4,1208.7 1548.0,1205.1 1550.7,1201.5 1553.3,1198.0 1555.9,1194.6 1558.5,1191.3 1561.2,1188.1 1563.8,1185.0 1566.4,1182.0 1569.0,1179.2 1571.7,1176.4 1574.3,1173.7 1576.9,1171.1 1579.5,1168.6 1582.2,1166.3 1584.8,1164.0 1587.4,1161.8 1590.1,1159.7 1592.7,1157.7 1595.3,1155.9 1597.9,1154.1 1600.6,1152.4 1603.2,1150.8 1605.8,1149.4 1608.4,1148.0 1611.1,1146.7 1613.7,1145.5 1616.3,1144.4 1618.9,1143.4 1621.6,1142.5 1624.2,1141.7 1626.8,1141.0 1629.5,1140.4 1632.1,1139.9 1634.7,1139.5 1637.3,1139.2 1640.0,1139.0 1642.6,1138.8 1645.2,1138.8 1647.8,1138.8 1650.5,1138.9 1653.1,1139.1 1655.7,1139.3 1658.3,1139.6 1661.0,1140.0 1663.6,1140.4 1666.2,1140.9 1668.9,1141.4 1671.5,1142.0 1674.1,1142.7 1676.7,1143.4 1679.4,1144.2 1682.0,1145.0 1684.6,1145.9 1687.2,1146.9 1689.9,1147.9 1692.5,1148.9 1695.1,1150.1 1697.8,1151.2 1700.4,1152.4 1703.0,1153.7 1705.6,1155.0 1708.3,1156.4 1710.9,1157.8 1713.5,1159.2 1716.1,1160.7 1718.8,1162.3 1721.4,1163.8 1724.0,1165.4 1726.6,1167.1 1729.3,1168.7 1731.9,1170.5 1734.5,1172.2 1737.2,1173.9 1739.8,1175.7 1742.4,1177.5 1745.0,1179.3 1747.7,1181.2 1750.3,1183.1 1752.9,1184.9 1755.5,1186.8 1758.2,1188.7 1760.8,1190.6 1763.4,1192.5 1766.0,1194.4 1768.7,1196.4 1771.3,1198.3 1773.9,1200.2 1776.6,1202.1 1779.2,1204.0 1781.8,1205.9 1784.4,1207.8 1787.1,1209.6 1789.7,1211.5 1792.3,1213.3 1794.9,1215.1 1797.6,1216.9 1800.2,1218.7 1802.8,1220.4 1805.5,1222.1 1808.1,1223.8 1810.7,1225.5 1813.3,1227.1 1816.0,1228.7 1818.6,1230.2 1821.2,1231.7 1823.8,1233.2 1826.5,1234.6 1829.1,1236.0 1831.7,1237.3 1834.3,1238.6 1837.0,1239.8 1839.6,1241.0 1842.2,1242.1 1844.9,1243.2 1847.5,1244.2 1850.1,1245.2 1852.7,1246.1 1855.4,1247.0 1858.0,1247.8 1860.6,1248.5 1863.2,1249.2 1865.9,1249.8 1868.5,1250.4 1871.1,1250.9 1873.7,1251.3 1876.4,1251.7 1879.0,1252.0 1881.6,1252.3 1884.3,1252.5 1886.9,1252.6 1889.5,1252.6 1892.1,1252.6 1894.8,1252.4 1897.4,1252.1 1900.0,1251.6 1902.6,1251.0 1905.3,1250.2 1907.9,1249.3 1910.5,1248.2 1913.1,1247.0 1915.8,1245.7 1918.4,1244.7 1921.0,1243.7 1923.7,1240.2 1926.3,1237.8 1928.9,1236.8 1931.5,1237.1 1934.2,1234.3 1936.8,1230.0 1939.4,1228.3 1942.0,1225.6 1944.7,1223.2 1947.3,1223.5 1949.9,1219.1 1952.6,1218.1 1955.2,1215.5 1957.8,1212.3 1960.4,1212.0 1963.1,1207.7 1965.7,1207.3 1968.3,1203.3 1970.9,1202.3 1973.6,1199.6 1976.2,1198.0 1978.8,1198.6 1981.4,1196.3 1984.1,1193.0 1986.7,1193.5 1989.3,1189.8 1992.0,1189.2 1994.6,1189.7 1997.2,1188.0 1999.8,1185.3 2002.5,1187.7 2005.1,1184.5 2007.7,1184.2 2010.3,1185.8 2013.0,1184.2 2015.6,1184.8 2018.2,1184.8 2020.8,1184.8 2023.5,1184.8 2026.1,1184.8 2028.7,1184.8 2031.4,1184.8 2034.0,1184.8 2036.6,1184.8 2039.2,1184.8 2041.9,1184.8 2044.5,1184.8 2047.1,1184.8 2049.7,1184.8 2052.4,1184.8 2055.0,1184.8 2057.6,1184.8 2060.3,1184.8 2062.9,1184.8 2065.5,1184.8" fill="none" stroke="#8a8af0" stroke-width="3.6" stroke-linejoin="round" opacity="0.35"/>
<polyline points="1422.8,1563.5 1422.6,1541.6 1421.7,1522.9 1421.3,1509.7 1421.9,1498.8 1424.6,1490.2 1427.2,1481.8 1429.8,1473.4 1432.4,1465.2 1435.1,1457.0 1437.7,1449.0 1440.3,1441.0 1443.0,1433.2 1445.6,1425.5 1448.2,1417.8 1450.8,1410.3 1453.5,1402.9 1456.1,1395.6 1458.7,1388.4 1461.3,1381.3 1464.0,1374.3 1466.6,1367.4 1469.2,1360.6 1471.8,1353.9 1474.5,1347.3 1477.1,1340.9 1479.7,1334.5 1482.4,1328.2 1485.0,1322.1 1487.6,1316.0 1490.2,1310.0 1492.9,1304.2 1495.5,1298.4 1498.1,1292.8 1500.7,1287.2 1503.4,1281.8 1506.0,1276.5 1508.6,1271.2 1511.2,1266.1 1513.9,1261.1 1516.5,1256.1 1519.1,1251.3 1521.8,1246.6 1524.4,1242.0 1527.0,1237.5 1529.6,1233.1 1532.3,1228.8 1534.9,1224.5 1537.5,1220.4 1540.1,1216.4 1542.8,1212.5 1545.4,1208.7 1548.0,1205.1 1550.7,1201.5 1553.3,1198.0 1555.9,1194.6 1558.5,1191.3 1561.2,1188.1 1563.8,1185.0 1566.4,1182.0 1569.0,1179.2 1571.7,1176.4 1574.3,1173.7 1576.9,1171.1 1579.5,1168.6 1582.2,1166.3 1584.8,1164.0 1587.4,1161.8 1590.1,1159.7 1592.7,1157.7 1595.3,1155.9 1597.9,1154.1 1600.6,1152.4 1603.2,1150.8 1605.8,1149.4 1608.4,1148.0 1611.1,1146.7 1613.7,1145.5 1616.3,1144.4 1618.9,1143.4 1621.6,1142.5 1624.2,1141.7 1626.8,1141.0 1629.5,1140.4 1632.1,1139.9 1634.7,1139.5 1637.3,1139.2 1640.0,1139.0 1642.6,1138.8 1645.2,1138.8 1647.8,1138.8 1650.5,1138.9 1653.1,1139.1 1655.7,1139.3 1658.3,1139.6 1661.0,1140.0 1663.6,1140.4 1666.2,1140.9 1668.9,1141.4 1671.5,1142.0 1674.1,1142.7 1676.7,1143.4 1679.4,1144.2 1682.0,1145.0 1684.6,1145.9 1687.2,1146.9 1689.9,1147.9 1692.5,1148.9 1695.1,1150.1 1697.8,1151.2 1700.4,1152.4 1703.0,1153.7 1705.6,1155.0 1708.3,1156.4 1710.9,1157.8 1713.5,1159.2 1716.1,1160.7 1718.8,1162.3 1721.4,1163.8 1724.0,1165.4 1726.6,1167.1 1729.3,1168.7 1731.9,1170.5 1734.5,1172.2 1737.2,1173.9 1739.8,1175.7 1742.4,1177.5 1745.0,1179.3 1747.7,1181.2 1750.3,1183.1 1752.9,1184.9 1755.5,1186.8 1758.2,1188.7 1760.8,1190.6 1763.4,1192.5 1766.0,1194.4 1768.7,1196.4 1771.3,1198.3 1773.9,1200.2 1776.6,1202.1 1779.2,1204.0 1781.8,1205.9 1784.4,1207.8 1787.1,1209.6 1789.7,1211.5 1792.3,1213.3 1794.9,1215.1 1797.6,1216.9 1800.2,1218.7 1802.8,1220.4 1805.5,1222.1 1808.1,1223.8 1810.7,1225.5 1813.3,1227.1 1816.0,1228.7 1818.6,1230.2 1821.2,1231.7 1823.8,1233.2 1826.5,1234.6 1829.1,1236.0 1831.7,1237.3 1834.3,1238.6 1837.0,1239.8 1839.6,1241.0 1842.2,1242.1 1844.9,1243.2 1847.5,1244.2 1850.1,1245.2 1852.7,1246.1 1855.4,1247.0 1858.0,1247.8 1860.6,1248.5 1863.2,1249.2 1865.9,1249.8 1868.5,1250.4 1871.1,1250.9 1873.7,1251.3 1876.4,1251.7 1879.0,1252.0 1881.6,1252.3 1884.3,1252.5 1886.9,1252.6 1889.5,1252.6 1892.1,1252.6 1894.8,1252.4 1897.4,1252.1 1900.0,1251.6 1902.6,1251.0 1905.3,1250.2 1907.9,1249.3 1910.5,1248.2 1913.1,1247.0 1915.8,1245.7 1918.4,1244.7 1921.0,1243.7 1923.7,1240.2 1926.3,1237.8 1928.9,1236.8 1931.5,1237.1 1934.2,1234.3 1936.8,1230.0 1939.4,1228.3 1942.0,1225.6 1944.7,1223.2 1947.3,1223.5 1949.9,1219.1 1952.6,1218.1 1955.2,1215.5 1957.8,1212.3 1960.4,1212.0 1963.1,1207.7 1965.7,1207.3 1968.3,1203.3 1970.9,1202.3 1973.6,1199.6 1976.2,1198.0 1978.8,1198.6 1981.4,1196.3 1984.1,1193.0 1986.7,1193.5 1989.3,1189.8 1992.0,1189.2 1994.6,1189.7 1997.2,1188.0 1999.8,1185.3 2002.5,1187.7 2005.1,1184.5 2007.7,1184.2 2010.3,1185.8 2013.0,1184.2 2015.6,1184.8 2018.2,1184.8 2020.8,1184.8 2023.5,1184.8 2026.1,1184.8 2028.7,1184.8 2031.4,1184.8 2034.0,1184.8 2036.6,1184.8 2039.2,1184.8 2041.9,1184.8 2044.5,1184.8 2047.1,1184.8 2049.7,1184.8 2052.4,1184.8 2055.0,1184.8 2057.6,1184.8 2060.3,1184.8 2062.9,1184.8 2065.5,1184.8" fill="none" stroke="#3a36d6" stroke-width="2.1" stroke-linejoin="round" opacity="0.95"/>
<polyline points="1422.8,1563.5 1422.6,1541.6 1421.7,1536.3 1421.3,1523.2 1421.9,1512.2 1424.6,1504.2 1427.2,1496.3 1429.8,1488.5 1432.4,1480.7 1435.1,1473.1 1437.7,1465.5 1440.3,1458.1 1443.0,1450.7 1445.6,1443.4 1448.2,1436.3 1450.8,1429.2 1453.5,1422.2 1456.1,1415.3 1458.7,1408.5 1461.3,1401.8 1464.0,1395.2 1466.6,1388.6 1469.2,1382.2 1471.8,1375.9 1474.5,1369.6 1477.1,1363.5 1479.7,1357.4 1482.4,1351.5 1485.0,1345.6 1487.6,1339.8 1490.2,1334.2 1492.9,1328.6 1495.5,1323.1 1498.1,1317.7 1500.7,1312.4 1503.4,1307.2 1506.0,1302.1 1508.6,1297.1 1511.2,1292.2 1513.9,1287.3 1516.5,1282.6 1519.1,1278.0 1521.8,1273.4 1524.4,1269.0 1527.0,1264.6 1529.6,1260.4 1532.3,1256.2 1534.9,1252.1 1537.5,1248.2 1540.1,1244.3 1542.8,1240.5 1545.4,1236.8 1548.0,1233.3 1550.7,1229.8 1553.3,1226.4 1555.9,1223.1 1558.5,1219.9 1561.2,1216.8 1563.8,1213.8 1566.4,1210.8 1569.0,1208.0 1571.7,1205.3 1574.3,1202.7 1576.9,1200.2 1579.5,1197.7 1582.2,1195.4 1584.8,1193.2 1587.4,1191.1 1590.1,1189.0 1592.7,1187.1 1595.3,1185.3 1597.9,1183.5 1600.6,1181.9 1603.2,1180.3 1605.8,1178.9 1608.4,1177.6 1611.1,1176.3 1613.7,1175.2 1616.3,1174.1 1618.9,1173.2 1621.6,1172.4 1624.2,1171.6 1626.8,1171.0 1629.5,1170.5 1632.1,1170.1 1634.7,1169.8 1637.3,1169.6 1640.0,1169.5 1642.6,1169.5 1645.2,1169.5 1647.8,1169.6 1650.5,1169.7 1653.1,1169.9 1655.7,1170.1 1658.3,1170.3 1661.0,1170.6 1663.6,1170.9 1666.2,1171.2 1668.9,1171.6 1671.5,1172.0 1674.1,1172.5 1676.7,1173.0 1679.4,1173.5 1682.0,1174.1 1684.6,1174.7 1687.2,1175.3 1689.9,1176.0 1692.5,1176.7 1695.1,1177.4 1697.8,1178.2 1700.4,1178.9 1703.0,1179.8 1705.6,1180.6 1708.3,1181.5 1710.9,1182.4 1713.5,1183.3 1716.1,1184.3 1718.8,1185.3 1721.4,1186.3 1724.0,1187.3 1726.6,1188.3 1729.3,1189.4 1731.9,1190.5 1734.5,1191.6 1737.2,1192.7 1739.8,1193.9 1742.4,1195.0 1745.0,1196.2 1747.7,1197.4 1750.3,1198.6 1752.9,1199.8 1755.5,1201.0 1758.2,1202.3 1760.8,1203.5 1763.4,1204.7 1766.0,1206.0 1768.7,1207.3 1771.3,1208.5 1773.9,1209.8 1776.6,1211.0 1779.2,1212.3 1781.8,1213.6 1784.4,1214.8 1787.1,1216.1 1789.7,1217.3 1792.3,1218.6 1794.9,1219.8 1797.6,1221.1 1800.2,1222.3 1802.8,1223.5 1805.5,1224.7 1808.1,1225.9 1810.7,1227.1 1813.3,1228.2 1816.0,1229.4 1818.6,1230.5 1821.2,1231.6 1823.8,1232.7 1826.5,1233.8 1829.1,1234.8 1831.7,1235.8 1834.3,1236.8 1837.0,1237.8 1839.6,1238.8 1842.2,1239.7 1844.9,1240.6 1847.5,1241.5 1850.1,1242.3 1852.7,1243.1 1855.4,1243.9 1858.0,1244.7 1860.6,1245.4 1863.2,1246.1 1865.9,1246.8 1868.5,1247.4 1871.1,1248.0 1873.7,1248.6 1876.4,1249.1 1879.0,1249.6 1881.6,1250.0 1884.3,1250.5 1886.9,1250.8 1889.5,1251.2 1892.1,1251.5 1894.8,1251.8 1897.4,1252.0 1900.0,1252.2 1902.6,1252.4 1905.3,1252.5 1907.9,1252.6 1910.5,1252.6 1913.1,1252.6 1915.8,1252.5 1918.4,1252.2 1921.0,1251.8 1923.7,1251.3 1926.3,1250.6 1928.9,1249.7 1931.5,1248.7 1934.2,1247.7 1936.8,1246.4 1939.4,1244.4 1942.0,1242.2 1944.7,1240.8 1947.3,1240.9 1949.9,1238.0 1952.6,1237.5 1955.2,1234.9 1957.8,1233.4 1960.4,1233.3 1963.1,1229.8 1965.7,1228.2 1968.3,1227.3 1970.9,1223.1 1973.6,1221.1 1976.2,1221.9 1978.8,1219.9 1981.4,1216.2 1984.1,1214.4 1986.7,1214.7 1989.3,1214.0 1992.0,1210.0 1994.6,1211.4 1997.2,1210.0 1999.8,1208.1 2002.5,1206.5 2005.1,1204.7 2007.7,1203.8 2010.3,1206.6 2013.0,1203.8 2015.6,1205.2 2018.2,1204.5 2020.8,1204.5 2023.5,1204.5 2026.1,1204.5 2028.7,1204.5 2031.4,1204.5 2034.0,1204.5 2036.6,1204.5 2039.2,1204.5 2041.9,1204.5 2044.5,1204.5 2047.1,1204.5 2049.7,1204.5 2052.4,1204.5 2055.0,1204.5 2057.6,1204.5 2060.3,1204.5 2062.9,1204.5 2065.5,1204.5" fill="none" stroke="#8a8af0" stroke-width="3.6" stroke-linejoin="round" opacity="0.35"/>
<polyline points="1422.8,1563.5 1422.6,1541.6 1421.7,1536.3 1421.3,1523.2 1421.9,1512.2 1424.6,1504.2 1427.2,1496.3 1429.8,1488.5 1432.4,1480.7 1435.1,1473.1 1437.7,1465.5 1440.3,1458.1 1443.0,1450.7 1445.6,1443.4 1448.2,1436.3 1450.8,1429.2 1453.5,1422.2 1456.1,1415.3 1458.7,1408.5 1461.3,1401.8 1464.0,1395.2 1466.6,1388.6 1469.2,1382.2 1471.8,1375.9 1474.5,1369.6 1477.1,1363.5 1479.7,1357.4 1482.4,1351.5 1485.0,1345.6 1487.6,1339.8 1490.2,1334.2 1492.9,1328.6 1495.5,1323.1 1498.1,1317.7 1500.7,1312.4 1503.4,1307.2 1506.0,1302.1 1508.6,1297.1 1511.2,1292.2 1513.9,1287.3 1516.5,1282.6 1519.1,1278.0 1521.8,1273.4 1524.4,1269.0 1527.0,1264.6 1529.6,1260.4 1532.3,1256.2 1534.9,1252.1 1537.5,1248.2 1540.1,1244.3 1542.8,1240.5 1545.4,1236.8 1548.0,1233.3 1550.7,1229.8 1553.3,1226.4 1555.9,1223.1 1558.5,1219.9 1561.2,1216.8 1563.8,1213.8 1566.4,1210.8 1569.0,1208.0 1571.7,1205.3 1574.3,1202.7 1576.9,1200.2 1579.5,1197.7 1582.2,1195.4 1584.8,1193.2 1587.4,1191.1 1590.1,1189.0 1592.7,1187.1 1595.3,1185.3 1597.9,1183.5 1600.6,1181.9 1603.2,1180.3 1605.8,1178.9 1608.4,1177.6 1611.1,1176.3 1613.7,1175.2 1616.3,1174.1 1618.9,1173.2 1621.6,1172.4 1624.2,1171.6 1626.8,1171.0 1629.5,1170.5 1632.1,1170.1 1634.7,1169.8 1637.3,1169.6 1640.0,1169.5 1642.6,1169.5 1645.2,1169.5 1647.8,1169.6 1650.5,1169.7 1653.1,1169.9 1655.7,1170.1 1658.3,1170.3 1661.0,1170.6 1663.6,1170.9 1666.2,1171.2 1668.9,1171.6 1671.5,1172.0 1674.1,1172.5 1676.7,1173.0 1679.4,1173.5 1682.0,1174.1 1684.6,1174.7 1687.2,1175.3 1689.9,1176.0 1692.5,1176.7 1695.1,1177.4 1697.8,1178.2 1700.4,1178.9 1703.0,1179.8 1705.6,1180.6 1708.3,1181.5 1710.9,1182.4 1713.5,1183.3 1716.1,1184.3 1718.8,1185.3 1721.4,1186.3 1724.0,1187.3 1726.6,1188.3 1729.3,1189.4 1731.9,1190.5 1734.5,1191.6 1737.2,1192.7 1739.8,1193.9 1742.4,1195.0 1745.0,1196.2 1747.7,1197.4 1750.3,1198.6 1752.9,1199.8 1755.5,1201.0 1758.2,1202.3 1760.8,1203.5 1763.4,1204.7 1766.0,1206.0 1768.7,1207.3 1771.3,1208.5 1773.9,1209.8 1776.6,1211.0 1779.2,1212.3 1781.8,1213.6 1784.4,1214.8 1787.1,1216.1 1789.7,1217.3 1792.3,1218.6 1794.9,1219.8 1797.6,1221.1 1800.2,1222.3 1802.8,1223.5 1805.5,1224.7 1808.1,1225.9 1810.7,1227.1 1813.3,1228.2 1816.0,1229.4 1818.6,1230.5 1821.2,1231.6 1823.8,1232.7 1826.5,1233.8 1829.1,1234.8 1831.7,1235.8 1834.3,1236.8 1837.0,1237.8 1839.6,1238.8 1842.2,1239.7 1844.9,1240.6 1847.5,1241.5 1850.1,1242.3 1852.7,1243.1 1855.4,1243.9 1858.0,1244.7 1860.6,1245.4 1863.2,1246.1 1865.9,1246.8 1868.5,1247.4 1871.1,1248.0 1873.7,1248.6 1876.4,1249.1 1879.0,1249.6 1881.6,1250.0 1884.3,1250.5 1886.9,1250.8 1889.5,1251.2 1892.1,1251.5 1894.8,1251.8 1897.4,1252.0 1900.0,1252.2 1902.6,1252.4 1905.3,1252.5 1907.9,1252.6 1910.5,1252.6 1913.1,1252.6 1915.8,1252.5 1918.4,1252.2 1921.0,1251.8 1923.7,1251.3 1926.3,1250.6 1928.9,1249.7 1931.5,1248.7 1934.2,1247.7 1936.8,1246.4 1939.4,1244.4 1942.0,1242.2 1944.7,1240.8 1947.3,1240.9 1949.9,1238.0 1952.6,1237.5 1955.2,1234.9 1957.8,1233.4 1960.4,1233.3 1963.1,1229.8 1965.7,1228.2 1968.3,1227.3 1970.9,1223.1 1973.6,1221.1 1976.2,1221.9 1978.8,1219.9 1981.4,1216.2 1984.1,1214.4 1986.7,1214.7 1989.3,1214.0 1992.0,1210.0 1994.6,1211.4 1997.2,1210.0 1999.8,1208.1 2002.5,1206.5 2005.1,1204.7 2007.7,1203.8 2010.3,1206.6 2013.0,1203.8 2015.6,1205.2 2018.2,1204.5 2020.8,1204.5 2023.5,1204.5 2026.1,1204.5 2028.7,1204.5 2031.4,1204.5 2034.0,1204.5 2036.6,1204.5 2039.2,1204.5 2041.9,1204.5 2044.5,1204.5 2047.1,1204.5 2049.7,1204.5 2052.4,1204.5 2055.0,1204.5 2057.6,1204.5 2060.3,1204.5 2062.9,1204.5 2065.5,1204.5" fill="none" stroke="#3a36d6" stroke-width="2.1" stroke-linejoin="round" opacity="0.95"/>
<polyline points="1422.8,1563.5 1422.6,1541.6 1421.7,1539.7 1421.3,1526.6 1421.9,1515.7 1424.6,1507.9 1427.2,1500.2 1429.8,1492.7 1432.4,1485.2 1435.1,1477.8 1437.7,1470.4 1440.3,1463.2 1443.0,1456.1 1445.6,1449.0 1448.2,1442.0 1450.8,1435.2 1453.5,1428.4 1456.1,1421.7 1458.7,1415.0 1461.3,1408.5 1464.0,1402.1 1466.6,1395.7 1469.2,1389.5 1471.8,1383.3 1474.5,1377.2 1477.1,1371.2 1479.7,1365.3 1482.4,1359.5 1485.0,1353.7 1487.6,1348.1 1490.2,1342.5 1492.9,1337.1 1495.5,1331.7 1498.1,1326.4 1500.7,1321.2 1503.4,1316.1 1506.0,1311.1 1508.6,1306.2 1511.2,1301.3 1513.9,1296.6 1516.5,1291.9 1519.1,1287.3 1521.8,1282.9 1524.4,1278.5 1527.0,1274.2 1529.6,1270.0 1532.3,1265.8 1534.9,1261.8 1537.5,1257.9 1540.1,1254.0 1542.8,1250.3 1545.4,1246.6 1548.0,1243.0 1550.7,1239.6 1553.3,1236.2 1555.9,1232.9 1558.5,1229.7 1561.2,1226.6 1563.8,1223.6 1566.4,1220.6 1569.0,1217.8 1571.7,1215.1 1574.3,1212.4 1576.9,1209.9 1579.5,1207.4 1582.2,1205.0 1584.8,1202.8 1587.4,1200.6 1590.1,1198.5 1592.7,1196.5 1595.3,1194.6 1597.9,1192.8 1600.6,1191.1 1603.2,1189.5 1605.8,1188.0 1608.4,1186.6 1611.1,1185.3 1613.7,1184.1 1616.3,1182.9 1618.9,1181.9 1621.6,1181.0 1624.2,1180.2 1626.8,1179.5 1629.5,1178.8 1632.1,1178.3 1634.7,1177.9 1637.3,1177.6 1640.0,1177.4 1642.6,1177.3 1645.2,1177.3 1647.8,1177.4 1650.5,1177.5 1653.1,1177.7 1655.7,1177.9 1658.3,1178.1 1661.0,1178.4 1663.6,1178.7 1666.2,1179.1 1668.9,1179.5 1671.5,1180.0 1674.1,1180.5 1676.7,1181.1 1679.4,1181.7 1682.0,1182.3 1684.6,1183.0 1687.2,1183.7 1689.9,1184.4 1692.5,1185.2 1695.1,1186.1 1697.8,1186.9 1700.4,1187.8 1703.0,1188.8 1705.6,1189.7 1708.3,1190.7 1710.9,1191.8 1713.5,1192.9 1716.1,1194.0 1718.8,1195.1 1721.4,1196.2 1724.0,1197.4 1726.6,1198.6 1729.3,1199.9 1731.9,1201.1 1734.5,1202.4 1737.2,1203.7 1739.8,1205.0 1742.4,1206.3 1745.0,1207.7 1747.7,1209.0 1750.3,1210.4 1752.9,1211.8 1755.5,1213.2 1758.2,1214.6 1760.8,1216.0 1763.4,1217.4 1766.0,1218.8 1768.7,1220.2 1771.3,1221.7 1773.9,1223.1 1776.6,1224.5 1779.2,1225.9 1781.8,1227.3 1784.4,1228.8 1787.1,1230.2 1789.7,1231.6 1792.3,1232.9 1794.9,1234.3 1797.6,1235.7 1800.2,1237.0 1802.8,1238.3 1805.5,1239.6 1808.1,1240.9 1810.7,1242.2 1813.3,1243.5 1816.0,1244.7 1818.6,1245.9 1821.2,1247.1 1823.8,1248.2 1826.5,1249.3 1829.1,1250.4 1831.7,1251.5 1834.3,1252.5 1837.0,1253.5 1839.6,1254.5 1842.2,1255.4 1844.9,1256.3 1847.5,1257.2 1850.1,1258.0 1852.7,1258.8 1855.4,1259.5 1858.0,1260.3 1860.6,1260.9 1863.2,1261.5 1865.9,1262.1 1868.5,1262.7 1871.1,1263.2 1873.7,1263.6 1876.4,1264.1 1879.0,1264.4 1881.6,1264.7 1884.3,1265.0 1886.9,1265.3 1889.5,1265.5 1892.1,1265.6 1894.8,1265.7 1897.4,1265.8 1900.0,1265.8 1902.6,1265.7 1905.3,1265.5 1907.9,1265.3 1910.5,1265.0 1913.1,1264.6 1915.8,1264.1 1918.4,1263.5 1921.0,1262.9 1923.7,1262.2 1926.3,1261.4 1928.9,1260.5 1931.5,1259.6 1934.2,1258.7 1936.8,1257.6 1939.4,1256.6 1942.0,1255.4 1944.7,1254.3 1947.3,1253.1 1949.9,1251.9 1952.6,1250.6 1955.2,1249.3 1957.8,1248.0 1960.4,1246.7 1963.1,1245.4 1965.7,1244.1 1968.3,1242.8 1970.9,1241.5 1973.6,1240.2 1976.2,1239.0 1978.8,1237.8 1981.4,1236.6 1984.1,1235.4 1986.7,1234.3 1989.3,1233.3 1992.0,1232.3 1994.6,1231.3 1997.2,1230.4 1999.8,1229.6 2002.5,1228.8 2005.1,1228.2 2007.7,1227.5 2010.3,1227.0 2013.0,1226.5 2015.6,1226.2 2018.2,1225.9 2020.8,1225.7 2023.5,1225.5 2026.1,1225.5 2028.7,1225.5 2031.4,1225.5 2034.0,1225.5 2036.6,1225.5 2039.2,1225.5 2041.9,1225.5 2044.5,1225.5 2047.1,1225.5 2049.7,1225.5 2052.4,1225.5 2055.0,1225.5 2057.6,1225.5 2060.3,1225.5 2062.9,1225.5 2065.5,1225.5" fill="none" stroke="#8a8af0" stroke-width="3.6" stroke-linejoin="round" opacity="0.35"/>
<polyline points="1422.8,1563.5 1422.6,1541.6 1421.7,1539.7 1421.3,1526.6 1421.9,1515.7 1424.6,1507.9 1427.2,1500.2 1429.8,1492.7 1432.4,1485.2 1435.1,1477.8 1437.7,1470.4 1440.3,1463.2 1443.0,1456.1 1445.6,1449.0 1448.2,1442.0 1450.8,1435.2 1453.5,1428.4 1456.1,1421.7 1458.7,1415.0 1461.3,1408.5 1464.0,1402.1 1466.6,1395.7 1469.2,1389.5 1471.8,1383.3 1474.5,1377.2 1477.1,1371.2 1479.7,1365.3 1482.4,1359.5 1485.0,1353.7 1487.6,1348.1 1490.2,1342.5 1492.9,1337.1 1495.5,1331.7 1498.1,1326.4 1500.7,1321.2 1503.4,1316.1 1506.0,1311.1 1508.6,1306.2 1511.2,1301.3 1513.9,1296.6 1516.5,1291.9 1519.1,1287.3 1521.8,1282.9 1524.4,1278.5 1527.0,1274.2 1529.6,1270.0 1532.3,1265.8 1534.9,1261.8 1537.5,1257.9 1540.1,1254.0 1542.8,1250.3 1545.4,1246.6 1548.0,1243.0 1550.7,1239.6 1553.3,1236.2 1555.9,1232.9 1558.5,1229.7 1561.2,1226.6 1563.8,1223.6 1566.4,1220.6 1569.0,1217.8 1571.7,1215.1 1574.3,1212.4 1576.9,1209.9 1579.5,1207.4 1582.2,1205.0 1584.8,1202.8 1587.4,1200.6 1590.1,1198.5 1592.7,1196.5 1595.3,1194.6 1597.9,1192.8 1600.6,1191.1 1603.2,1189.5 1605.8,1188.0 1608.4,1186.6 1611.1,1185.3 1613.7,1184.1 1616.3,1182.9 1618.9,1181.9 1621.6,1181.0 1624.2,1180.2 1626.8,1179.5 1629.5,1178.8 1632.1,1178.3 1634.7,1177.9 1637.3,1177.6 1640.0,1177.4 1642.6,1177.3 1645.2,1177.3 1647.8,1177.4 1650.5,1177.5 1653.1,1177.7 1655.7,1177.9 1658.3,1178.1 1661.0,1178.4 1663.6,1178.7 1666.2,1179.1 1668.9,1179.5 1671.5,1180.0 1674.1,1180.5 1676.7,1181.1 1679.4,1181.7 1682.0,1182.3 1684.6,1183.0 1687.2,1183.7 1689.9,1184.4 1692.5,1185.2 1695.1,1186.1 1697.8,1186.9 1700.4,1187.8 1703.0,1188.8 1705.6,1189.7 1708.3,1190.7 1710.9,1191.8 1713.5,1192.9 1716.1,1194.0 1718.8,1195.1 1721.4,1196.2 1724.0,1197.4 1726.6,1198.6 1729.3,1199.9 1731.9,1201.1 1734.5,1202.4 1737.2,1203.7 1739.8,1205.0 1742.4,1206.3 1745.0,1207.7 1747.7,1209.0 1750.3,1210.4 1752.9,1211.8 1755.5,1213.2 1758.2,1214.6 1760.8,1216.0 1763.4,1217.4 1766.0,1218.8 1768.7,1220.2 1771.3,1221.7 1773.9,1223.1 1776.6,1224.5 1779.2,1225.9 1781.8,1227.3 1784.4,1228.8 1787.1,1230.2 1789.7,1231.6 1792.3,1232.9 1794.9,1234.3 1797.6,1235.7 1800.2,1237.0 1802.8,1238.3 1805.5,1239.6 1808.1,1240.9 1810.7,1242.2 1813.3,1243.5 1816.0,1244.7 1818.6,1245.9 1821.2,1247.1 1823.8,1248.2 1826.5,1249.3 1829.1,1250.4 1831.7,1251.5 1834.3,1252.5 1837.0,1253.5 1839.6,1254.5 1842.2,1255.4 1844.9,1256.3 1847.5,1257.2 1850.1,1258.0 1852.7,1258.8 1855.4,1259.5 1858.0,1260.3 1860.6,1260.9 1863.2,1261.5 1865.9,1262.1 1868.5,1262.7 1871.1,1263.2 1873.7,1263.6 1876.4,1264.1 1879.0,1264.4 1881.6,1264.7 1884.3,1265.0 1886.9,1265.3 1889.5,1265.5 1892.1,1265.6 1894.8,1265.7 1897.4,1265.8 1900.0,1265.8 1902.6,1265.7 1905.3,1265.5 1907.9,1265.3 1910.5,1265.0 1913.1,1264.6 1915.8,1264.1 1918.4,1263.5 1921.0,1262.9 1923.7,1262.2 1926.3,1261.4 1928.9,1260.5 1931.5,1259.6 1934.2,1258.7 1936.8,1257.6 1939.4,1256.6 1942.0,1255.4 1944.7,1254.3 1947.3,1253.1 1949.9,1251.9 1952.6,1250.6 1955.2,1249.3 1957.8,1248.0 1960.4,1246.7 1963.1,1245.4 1965.7,1244.1 1968.3,1242.8 1970.9,1241.5 1973.6,1240.2 1976.2,1239.0 1978.8,1237.8 1981.4,1236.6 1984.1,1235.4 1986.7,1234.3 1989.3,1233.3 1992.0,1232.3 1994.6,1231.3 1997.2,1230.4 1999.8,1229.6 2002.5,1228.8 2005.1,1228.2 2007.7,1227.5 2010.3,1227.0 2013.0,1226.5 2015.6,1226.2 2018.2,1225.9 2020.8,1225.7 2023.5,1225.5 2026.1,1225.5 2028.7,1225.5 2031.4,1225.5 2034.0,1225.5 2036.6,1225.5 2039.2,1225.5 2041.9,1225.5 2044.5,1225.5 2047.1,1225.5 2049.7,1225.5 2052.4,1225.5 2055.0,1225.5 2057.6,1225.5 2060.3,1225.5 2062.9,1225.5 2065.5,1225.5" fill="none" stroke="#3a36d6" stroke-width="2.1" stroke-linejoin="round" opacity="0.95"/>
<polyline points="1422.8,1563.5 1422.6,1541.6 1421.7,1543.0 1421.3,1529.9 1421.9,1518.9 1424.6,1510.9 1427.2,1503.1 1429.8,1495.3 1432.4,1487.6 1435.1,1479.9 1437.7,1472.4 1440.3,1465.0 1443.0,1457.7 1445.6,1450.4 1448.2,1443.3 1450.8,1436.2 1453.5,1429.3 1456.1,1422.4 1458.7,1415.7 1461.3,1409.0 1464.0,1402.4 1466.6,1395.9 1469.2,1389.5 1471.8,1383.2 1474.5,1377.0 1477.1,1370.9 1479.7,1364.9 1482.4,1359.0 1485.0,1353.1 1487.6,1347.4 1490.2,1341.8 1492.9,1336.2 1495.5,1330.8 1498.1,1325.5 1500.7,1320.2 1503.4,1315.0 1506.0,1310.0 1508.6,1305.0 1511.2,1300.1 1513.9,1295.4 1516.5,1290.7 1519.1,1286.1 1521.8,1281.6 1524.4,1277.3 1527.0,1273.0 1529.6,1268.8 1532.3,1264.7 1534.9,1260.7 1537.5,1256.8 1540.1,1253.0 1542.8,1249.3 1545.4,1245.7 1548.0,1242.2 1550.7,1238.8 1553.3,1235.5 1555.9,1232.3 1558.5,1229.2 1561.2,1226.2 1563.8,1223.3 1566.4,1220.5 1569.0,1217.8 1571.7,1215.2 1574.3,1212.7 1576.9,1210.3 1579.5,1208.1 1582.2,1205.9 1584.8,1203.8 1587.4,1201.8 1590.1,1199.9 1592.7,1198.2 1595.3,1196.5 1597.9,1194.9 1600.6,1193.5 1603.2,1192.2 1605.8,1190.9 1608.4,1189.8 1611.1,1188.8 1613.7,1187.9 1616.3,1187.1 1618.9,1186.4 1621.6,1185.8 1624.2,1185.4 1626.8,1185.1 1629.5,1184.8 1632.1,1184.8 1634.7,1184.8 1637.3,1184.9 1640.0,1185.2 1642.6,1185.5 1645.2,1185.8 1647.8,1186.3 1650.5,1186.9 1653.1,1187.5 1655.7,1188.2 1658.3,1189.0 1661.0,1189.9 1663.6,1190.9 1666.2,1191.9 1668.9,1193.0 1671.5,1194.2 1674.1,1195.4 1676.7,1196.8 1679.4,1198.1 1682.0,1199.6 1684.6,1201.1 1687.2,1202.7 1689.9,1204.3 1692.5,1206.0 1695.1,1207.7 1697.8,1209.5 1700.4,1211.3 1703.0,1213.2 1705.6,1215.1 1708.3,1217.0 1710.9,1219.0 1713.5,1221.0 1716.1,1223.0 1718.8,1225.1 1721.4,1227.1 1724.0,1229.2 1726.6,1231.3 1729.3,1233.4 1731.9,1235.5 1734.5,1237.6 1737.2,1239.7 1739.8,1241.8 1742.4,1243.9 1745.0,1246.0 1747.7,1248.1 1750.3,1250.1 1752.9,1252.1 1755.5,1254.1 1758.2,1256.1 1760.8,1258.0 1763.4,1259.9 1766.0,1261.7 1768.7,1263.5 1771.3,1265.3 1773.9,1267.0 1776.6,1268.7 1779.2,1270.3 1781.8,1271.8 1784.4,1273.3 1787.1,1274.8 1789.7,1276.1 1792.3,1277.4 1794.9,1278.6 1797.6,1279.8 1800.2,1280.9 1802.8,1281.9 1805.5,1282.8 1808.1,1283.7 1810.7,1284.4 1813.3,1285.1 1816.0,1285.7 1818.6,1286.3 1821.2,1286.7 1823.8,1287.1 1826.5,1287.3 1829.1,1287.5 1831.7,1287.6 1834.3,1287.6 1837.0,1287.5 1839.6,1287.2 1842.2,1286.8 1844.9,1286.1 1847.5,1285.4 1850.1,1284.4 1852.7,1283.4 1855.4,1282.1 1858.0,1280.8 1860.6,1279.2 1863.2,1277.6 1865.9,1275.8 1868.5,1273.9 1871.1,1271.8 1873.7,1269.7 1876.4,1267.4 1879.0,1265.1 1881.6,1262.6 1884.3,1260.0 1886.9,1257.4 1889.5,1254.7 1892.1,1251.9 1894.8,1249.1 1897.4,1246.2 1900.0,1243.3 1902.6,1240.3 1905.3,1237.3 1907.9,1234.3 1910.5,1231.3 1913.1,1228.3 1915.8,1225.3 1918.4,1222.4 1921.0,1219.4 1923.7,1216.5 1926.3,1213.6 1928.9,1210.8 1931.5,1208.1 1934.2,1205.4 1936.8,1202.8 1939.4,1200.3 1942.0,1197.8 1944.7,1195.5 1947.3,1193.3 1949.9,1191.1 1952.6,1189.1 1955.2,1187.3 1957.8,1185.5 1960.4,1183.9 1963.1,1182.4 1965.7,1181.1 1968.3,1179.9 1970.9,1178.9 1973.6,1178.0 1976.2,1177.3 1978.8,1176.7 1981.4,1176.3 1984.1,1176.1 1986.7,1176.0 1989.3,1176.0 1992.0,1176.0 1994.6,1176.0 1997.2,1176.0 1999.8,1176.0 2002.5,1176.0 2005.1,1176.0 2007.7,1176.0 2010.3,1176.0 2013.0,1176.0 2015.6,1176.0 2018.2,1176.0 2020.8,1176.0 2023.5,1176.0 2026.1,1176.0 2028.7,1176.0 2031.4,1176.0 2034.0,1176.0 2036.6,1176.0 2039.2,1176.0 2041.9,1176.0 2044.5,1176.0 2047.1,1176.0 2049.7,1176.0 2052.4,1176.0 2055.0,1176.0 2057.6,1176.0 2060.3,1176.0 2062.9,1176.0 2065.5,1176.0" fill="none" stroke="#8a8af0" stroke-width="3.6" stroke-linejoin="round" opacity="0.35"/>
<polyline points="1422.8,1563.5 1422.6,1541.6 1421.7,1543.0 1421.3,1529.9 1421.9,1518.9 1424.6,1510.9 1427.2,1503.1 1429.8,1495.3 1432.4,1487.6 1435.1,1479.9 1437.7,1472.4 1440.3,1465.0 1443.0,1457.7 1445.6,1450.4 1448.2,1443.3 1450.8,1436.2 1453.5,1429.3 1456.1,1422.4 1458.7,1415.7 1461.3,1409.0 1464.0,1402.4 1466.6,1395.9 1469.2,1389.5 1471.8,1383.2 1474.5,1377.0 1477.1,1370.9 1479.7,1364.9 1482.4,1359.0 1485.0,1353.1 1487.6,1347.4 1490.2,1341.8 1492.9,1336.2 1495.5,1330.8 1498.1,1325.5 1500.7,1320.2 1503.4,1315.0 1506.0,1310.0 1508.6,1305.0 1511.2,1300.1 1513.9,1295.4 1516.5,1290.7 1519.1,1286.1 1521.8,1281.6 1524.4,1277.3 1527.0,1273.0 1529.6,1268.8 1532.3,1264.7 1534.9,1260.7 1537.5,1256.8 1540.1,1253.0 1542.8,1249.3 1545.4,1245.7 1548.0,1242.2 1550.7,1238.8 1553.3,1235.5 1555.9,1232.3 1558.5,1229.2 1561.2,1226.2 1563.8,1223.3 1566.4,1220.5 1569.0,1217.8 1571.7,1215.2 1574.3,1212.7 1576.9,1210.3 1579.5,1208.1 1582.2,1205.9 1584.8,1203.8 1587.4,1201.8 1590.1,1199.9 1592.7,1198.2 1595.3,1196.5 1597.9,1194.9 1600.6,1193.5 1603.2,1192.2 1605.8,1190.9 1608.4,1189.8 1611.1,1188.8 1613.7,1187.9 1616.3,1187.1 1618.9,1186.4 1621.6,1185.8 1624.2,1185.4 1626.8,1185.1 1629.5,1184.8 1632.1,1184.8 1634.7,1184.8 1637.3,1184.9 1640.0,1185.2 1642.6,1185.5 1645.2,1185.8 1647.8,1186.3 1650.5,1186.9 1653.1,1187.5 1655.7,1188.2 1658.3,1189.0 1661.0,1189.9 1663.6,1190.9 1666.2,1191.9 1668.9,1193.0 1671.5,1194.2 1674.1,1195.4 1676.7,1196.8 1679.4,1198.1 1682.0,1199.6 1684.6,1201.1 1687.2,1202.7 1689.9,1204.3 1692.5,1206.0 1695.1,1207.7 1697.8,1209.5 1700.4,1211.3 1703.0,1213.2 1705.6,1215.1 1708.3,1217.0 1710.9,1219.0 1713.5,1221.0 1716.1,1223.0 1718.8,1225.1 1721.4,1227.1 1724.0,1229.2 1726.6,1231.3 1729.3,1233.4 1731.9,1235.5 1734.5,1237.6 1737.2,1239.7 1739.8,1241.8 1742.4,1243.9 1745.0,1246.0 1747.7,1248.1 1750.3,1250.1 1752.9,1252.1 1755.5,1254.1 1758.2,1256.1 1760.8,1258.0 1763.4,1259.9 1766.0,1261.7 1768.7,1263.5 1771.3,1265.3 1773.9,1267.0 1776.6,1268.7 1779.2,1270.3 1781.8,1271.8 1784.4,1273.3 1787.1,1274.8 1789.7,1276.1 1792.3,1277.4 1794.9,1278.6 1797.6,1279.8 1800.2,1280.9 1802.8,1281.9 1805.5,1282.8 1808.1,1283.7 1810.7,1284.4 1813.3,1285.1 1816.0,1285.7 1818.6,1286.3 1821.2,1286.7 1823.8,1287.1 1826.5,1287.3 1829.1,1287.5 1831.7,1287.6 1834.3,1287.6 1837.0,1287.5 1839.6,1287.2 1842.2,1286.8 1844.9,1286.1 1847.5,1285.4 1850.1,1284.4 1852.7,1283.4 1855.4,1282.1 1858.0,1280.8 1860.6,1279.2 1863.2,1277.6 1865.9,1275.8 1868.5,1273.9 1871.1,1271.8 1873.7,1269.7 1876.4,1267.4 1879.0,1265.1 1881.6,1262.6 1884.3,1260.0 1886.9,1257.4 1889.5,1254.7 1892.1,1251.9 1894.8,1249.1 1897.4,1246.2 1900.0,1243.3 1902.6,1240.3 1905.3,1237.3 1907.9,1234.3 1910.5,1231.3 1913.1,1228.3 1915.8,1225.3 1918.4,1222.4 1921.0,1219.4 1923.7,1216.5 1926.3,1213.6 1928.9,1210.8 1931.5,1208.1 1934.2,1205.4 1936.8,1202.8 1939.4,1200.3 1942.0,1197.8 1944.7,1195.5 1947.3,1193.3 1949.9,1191.1 1952.6,1189.1 1955.2,1187.3 1957.8,1185.5 1960.4,1183.9 1963.1,1182.4 1965.7,1181.1 1968.3,1179.9 1970.9,1178.9 1973.6,1178.0 1976.2,1177.3 1978.8,1176.7 1981.4,1176.3 1984.1,1176.1 1986.7,1176.0 1989.3,1176.0 1992.0,1176.0 1994.6,1176.0 1997.2,1176.0 1999.8,1176.0 2002.5,1176.0 2005.1,1176.0 2007.7,1176.0 2010.3,1176.0 2013.0,1176.0 2015.6,1176.0 2018.2,1176.0 2020.8,1176.0 2023.5,1176.0 2026.1,1176.0 2028.7,1176.0 2031.4,1176.0 2034.0,1176.0 2036.6,1176.0 2039.2,1176.0 2041.9,1176.0 2044.5,1176.0 2047.1,1176.0 2049.7,1176.0 2052.4,1176.0 2055.0,1176.0 2057.6,1176.0 2060.3,1176.0 2062.9,1176.0 2065.5,1176.0" fill="none" stroke="#3a36d6" stroke-width="2.1" stroke-linejoin="round" opacity="0.95"/>
<polyline points="1422.8,1563.5 1422.6,1541.6 1421.7,1544.9 1421.3,1531.8 1421.9,1520.8 1424.6,1513.1 1427.2,1505.5 1429.8,1497.9 1432.4,1490.5 1435.1,1483.1 1437.7,1475.8 1440.3,1468.6 1443.0,1461.5 1445.6,1454.5 1448.2,1447.6 1450.8,1440.7 1453.5,1434.0 1456.1,1427.3 1458.7,1420.7 1461.3,1414.2 1464.0,1407.8 1466.6,1401.5 1469.2,1395.3 1471.8,1389.1 1474.5,1383.1 1477.1,1377.1 1479.7,1371.2 1482.4,1365.4 1485.0,1359.7 1487.6,1354.1 1490.2,1348.6 1492.9,1343.2 1495.5,1337.9 1498.1,1332.6 1500.7,1327.4 1503.4,1322.4 1506.0,1317.4 1508.6,1312.5 1511.2,1307.7 1513.9,1303.0 1516.5,1298.4 1519.1,1293.9 1521.8,1289.4 1524.4,1285.1 1527.0,1280.8 1529.6,1276.7 1532.3,1272.6 1534.9,1268.6 1537.5,1264.8 1540.1,1261.0 1542.8,1257.3 1545.4,1253.7 1548.0,1250.2 1550.7,1246.7 1553.3,1243.4 1555.9,1240.2 1558.5,1237.1 1561.2,1234.0 1563.8,1231.1 1566.4,1228.2 1569.0,1225.5 1571.7,1222.8 1574.3,1220.3 1576.9,1217.8 1579.5,1215.4 1582.2,1213.2 1584.8,1211.0 1587.4,1208.9 1590.1,1206.9 1592.7,1205.1 1595.3,1203.3 1597.9,1201.6 1600.6,1200.0 1603.2,1198.6 1605.8,1197.2 1608.4,1195.9 1611.1,1194.8 1613.7,1193.7 1616.3,1192.8 1618.9,1191.9 1621.6,1191.2 1624.2,1190.5 1626.8,1190.0 1629.5,1189.6 1632.1,1189.3 1634.7,1189.2 1637.3,1189.2 1640.0,1189.2 1642.6,1189.3 1645.2,1189.5 1647.8,1189.8 1650.5,1190.1 1653.1,1190.5 1655.7,1190.9 1658.3,1191.5 1661.0,1192.0 1663.6,1192.7 1666.2,1193.4 1668.9,1194.1 1671.5,1195.0 1674.1,1195.8 1676.7,1196.8 1679.4,1197.8 1682.0,1198.8 1684.6,1199.9 1687.2,1201.0 1689.9,1202.2 1692.5,1203.4 1695.1,1204.6 1697.8,1205.9 1700.4,1207.3 1703.0,1208.6 1705.6,1210.0 1708.3,1211.4 1710.9,1212.9 1713.5,1214.3 1716.1,1215.8 1718.8,1217.3 1721.4,1218.8 1724.0,1220.3 1726.6,1221.9 1729.3,1223.4 1731.9,1224.9 1734.5,1226.5 1737.2,1228.0 1739.8,1229.5 1742.4,1231.0 1745.0,1232.5 1747.7,1234.0 1750.3,1235.5 1752.9,1236.9 1755.5,1238.3 1758.2,1239.7 1760.8,1241.1 1763.4,1242.4 1766.0,1243.7 1768.7,1245.0 1771.3,1246.2 1773.9,1247.4 1776.6,1248.5 1779.2,1249.6 1781.8,1250.6 1784.4,1251.6 1787.1,1252.5 1789.7,1253.4 1792.3,1254.2 1794.9,1255.0 1797.6,1255.7 1800.2,1256.3 1802.8,1256.9 1805.5,1257.4 1808.1,1257.9 1810.7,1258.2 1813.3,1258.6 1816.0,1258.8 1818.6,1259.0 1821.2,1259.1 1823.8,1259.2 1826.5,1259.2 1829.1,1259.2 1831.7,1259.1 1834.3,1259.1 1837.0,1259.0 1839.6,1258.9 1842.2,1258.7 1844.9,1258.6 1847.5,1258.4 1850.1,1258.2 1852.7,1258.0 1855.4,1257.8 1858.0,1257.6 1860.6,1257.3 1863.2,1257.0 1865.9,1256.7 1868.5,1256.4 1871.1,1256.1 1873.7,1255.7 1876.4,1255.4 1879.0,1255.0 1881.6,1254.6 1884.3,1254.2 1886.9,1253.8 1889.5,1253.4 1892.1,1253.0 1894.8,1252.5 1897.4,1252.1 1900.0,1251.6 1902.6,1251.2 1905.3,1250.7 1907.9,1250.2 1910.5,1249.8 1913.1,1249.3 1915.8,1248.8 1918.4,1248.3 1921.0,1247.9 1923.7,1247.4 1926.3,1246.9 1928.9,1246.4 1931.5,1246.0 1934.2,1245.5 1936.8,1245.0 1939.4,1244.6 1942.0,1244.1 1944.7,1243.7 1947.3,1243.2 1949.9,1242.8 1952.6,1242.4 1955.2,1242.0 1957.8,1241.6 1960.4,1241.3 1963.1,1240.9 1965.7,1240.5 1968.3,1240.2 1970.9,1239.9 1973.6,1239.6 1976.2,1239.3 1978.8,1239.0 1981.4,1238.8 1984.1,1238.6 1986.7,1238.3 1989.3,1238.1 1992.0,1238.0 1994.6,1237.8 1997.2,1237.7 1999.8,1237.6 2002.5,1237.5 2005.1,1237.4 2007.7,1237.4 2010.3,1237.3 2013.0,1237.3 2015.6,1237.3 2018.2,1237.3 2020.8,1237.3 2023.5,1237.3 2026.1,1237.3 2028.7,1237.3 2031.4,1237.3 2034.0,1237.3 2036.6,1237.3 2039.2,1237.3 2041.9,1237.3 2044.5,1237.3 2047.1,1237.3 2049.7,1237.3 2052.4,1237.3 2055.0,1237.3 2057.6,1237.3 2060.3,1237.3 2062.9,1237.3 2065.5,1237.3" fill="none" stroke="#8a8af0" stroke-width="3.6" stroke-linejoin="round" opacity="0.35"/>
<polyline points="1422.8,1563.5 1422.6,1541.6 1421.7,1544.9 1421.3,1531.8 1421.9,1520.8 1424.6,1513.1 1427.2,1505.5 1429.8,1497.9 1432.4,1490.5 1435.1,1483.1 1437.7,1475.8 1440.3,1468.6 1443.0,1461.5 1445.6,1454.5 1448.2,1447.6 1450.8,1440.7 1453.5,1434.0 1456.1,1427.3 1458.7,1420.7 1461.3,1414.2 1464.0,1407.8 1466.6,1401.5 1469.2,1395.3 1471.8,1389.1 1474.5,1383.1 1477.1,1377.1 1479.7,1371.2 1482.4,1365.4 1485.0,1359.7 1487.6,1354.1 1490.2,1348.6 1492.9,1343.2 1495.5,1337.9 1498.1,1332.6 1500.7,1327.4 1503.4,1322.4 1506.0,1317.4 1508.6,1312.5 1511.2,1307.7 1513.9,1303.0 1516.5,1298.4 1519.1,1293.9 1521.8,1289.4 1524.4,1285.1 1527.0,1280.8 1529.6,1276.7 1532.3,1272.6 1534.9,1268.6 1537.5,1264.8 1540.1,1261.0 1542.8,1257.3 1545.4,1253.7 1548.0,1250.2 1550.7,1246.7 1553.3,1243.4 1555.9,1240.2 1558.5,1237.1 1561.2,1234.0 1563.8,1231.1 1566.4,1228.2 1569.0,1225.5 1571.7,1222.8 1574.3,1220.3 1576.9,1217.8 1579.5,1215.4 1582.2,1213.2 1584.8,1211.0 1587.4,1208.9 1590.1,1206.9 1592.7,1205.1 1595.3,1203.3 1597.9,1201.6 1600.6,1200.0 1603.2,1198.6 1605.8,1197.2 1608.4,1195.9 1611.1,1194.8 1613.7,1193.7 1616.3,1192.8 1618.9,1191.9 1621.6,1191.2 1624.2,1190.5 1626.8,1190.0 1629.5,1189.6 1632.1,1189.3 1634.7,1189.2 1637.3,1189.2 1640.0,1189.2 1642.6,1189.3 1645.2,1189.5 1647.8,1189.8 1650.5,1190.1 1653.1,1190.5 1655.7,1190.9 1658.3,1191.5 1661.0,1192.0 1663.6,1192.7 1666.2,1193.4 1668.9,1194.1 1671.5,1195.0 1674.1,1195.8 1676.7,1196.8 1679.4,1197.8 1682.0,1198.8 1684.6,1199.9 1687.2,1201.0 1689.9,1202.2 1692.5,1203.4 1695.1,1204.6 1697.8,1205.9 1700.4,1207.3 1703.0,1208.6 1705.6,1210.0 1708.3,1211.4 1710.9,1212.9 1713.5,1214.3 1716.1,1215.8 1718.8,1217.3 1721.4,1218.8 1724.0,1220.3 1726.6,1221.9 1729.3,1223.4 1731.9,1224.9 1734.5,1226.5 1737.2,1228.0 1739.8,1229.5 1742.4,1231.0 1745.0,1232.5 1747.7,1234.0 1750.3,1235.5 1752.9,1236.9 1755.5,1238.3 1758.2,1239.7 1760.8,1241.1 1763.4,1242.4 1766.0,1243.7 1768.7,1245.0 1771.3,1246.2 1773.9,1247.4 1776.6,1248.5 1779.2,1249.6 1781.8,1250.6 1784.4,1251.6 1787.1,1252.5 1789.7,1253.4 1792.3,1254.2 1794.9,1255.0 1797.6,1255.7 1800.2,1256.3 1802.8,1256.9 1805.5,1257.4 1808.1,1257.9 1810.7,1258.2 1813.3,1258.6 1816.0,1258.8 1818.6,1259.0 1821.2,1259.1 1823.8,1259.2 1826.5,1259.2 1829.1,1259.2 1831.7,1259.1 1834.3,1259.1 1837.0,1259.0 1839.6,1258.9 1842.2,1258.7 1844.9,1258.6 1847.5,1258.4 1850.1,1258.2 1852.7,1258.0 1855.4,1257.8 1858.0,1257.6 1860.6,1257.3 1863.2,1257.0 1865.9,1256.7 1868.5,1256.4 1871.1,1256.1 1873.7,1255.7 1876.4,1255.4 1879.0,1255.0 1881.6,1254.6 1884.3,1254.2 1886.9,1253.8 1889.5,1253.4 1892.1,1253.0 1894.8,1252.5 1897.4,1252.1 1900.0,1251.6 1902.6,1251.2 1905.3,1250.7 1907.9,1250.2 1910.5,1249.8 1913.1,1249.3 1915.8,1248.8 1918.4,1248.3 1921.0,1247.9 1923.7,1247.4 1926.3,1246.9 1928.9,1246.4 1931.5,1246.0 1934.2,1245.5 1936.8,1245.0 1939.4,1244.6 1942.0,1244.1 1944.7,1243.7 1947.3,1243.2 1949.9,1242.8 1952.6,1242.4 1955.2,1242.0 1957.8,1241.6 1960.4,1241.3 1963.1,1240.9 1965.7,1240.5 1968.3,1240.2 1970.9,1239.9 1973.6,1239.6 1976.2,1239.3 1978.8,1239.0 1981.4,1238.8 1984.1,1238.6 1986.7,1238.3 1989.3,1238.1 1992.0,1238.0 1994.6,1237.8 1997.2,1237.7 1999.8,1237.6 2002.5,1237.5 2005.1,1237.4 2007.7,1237.4 2010.3,1237.3 2013.0,1237.3 2015.6,1237.3 2018.2,1237.3 2020.8,1237.3 2023.5,1237.3 2026.1,1237.3 2028.7,1237.3 2031.4,1237.3 2034.0,1237.3 2036.6,1237.3 2039.2,1237.3 2041.9,1237.3 2044.5,1237.3 2047.1,1237.3 2049.7,1237.3 2052.4,1237.3 2055.0,1237.3 2057.6,1237.3 2060.3,1237.3 2062.9,1237.3 2065.5,1237.3" fill="none" stroke="#3a36d6" stroke-width="2.1" stroke-linejoin="round" opacity="0.95"/>
<polyline points="1422.8,1563.5 1422.6,1541.6 1421.7,1546.8 1421.3,1533.7 1421.9,1522.8 1424.6,1515.4 1427.2,1508.2 1429.8,1501.0 1432.4,1493.9 1435.1,1486.9 1437.7,1480.0 1440.3,1473.2 1443.0,1466.4 1445.6,1459.7 1448.2,1453.1 1450.8,1446.5 1453.5,1440.1 1456.1,1433.7 1458.7,1427.4 1461.3,1421.2 1464.0,1415.0 1466.6,1409.0 1469.2,1403.0 1471.8,1397.1 1474.5,1391.3 1477.1,1385.5 1479.7,1379.9 1482.4,1374.3 1485.0,1368.8 1487.6,1363.4 1490.2,1358.0 1492.9,1352.8 1495.5,1347.6 1498.1,1342.5 1500.7,1337.5 1503.4,1332.6 1506.0,1327.7 1508.6,1322.9 1511.2,1318.3 1513.9,1313.7 1516.5,1309.1 1519.1,1304.7 1521.8,1300.3 1524.4,1296.1 1527.0,1291.9 1529.6,1287.8 1532.3,1283.7 1534.9,1279.8 1537.5,1275.9 1540.1,1272.1 1542.8,1268.5 1545.4,1264.8 1548.0,1261.3 1550.7,1257.9 1553.3,1254.5 1555.9,1251.3 1558.5,1248.1 1561.2,1245.0 1563.8,1242.0 1566.4,1239.0 1569.0,1236.2 1571.7,1233.4 1574.3,1230.8 1576.9,1228.2 1579.5,1225.7 1582.2,1223.3 1584.8,1221.0 1587.4,1218.8 1590.1,1216.6 1592.7,1214.6 1595.3,1212.6 1597.9,1210.8 1600.6,1209.0 1603.2,1207.3 1605.8,1205.7 1608.4,1204.2 1611.1,1202.8 1613.7,1201.5 1616.3,1200.3 1618.9,1199.2 1621.6,1198.1 1624.2,1197.2 1626.8,1196.4 1629.5,1195.7 1632.1,1195.0 1634.7,1194.5 1637.3,1194.1 1640.0,1193.8 1642.6,1193.6 1645.2,1193.5 1647.8,1193.6 1650.5,1193.6 1653.1,1193.7 1655.7,1193.9 1658.3,1194.1 1661.0,1194.4 1663.6,1194.7 1666.2,1195.1 1668.9,1195.5 1671.5,1195.9 1674.1,1196.4 1676.7,1197.0 1679.4,1197.6 1682.0,1198.2 1684.6,1198.9 1687.2,1199.6 1689.9,1200.3 1692.5,1201.1 1695.1,1201.9 1697.8,1202.8 1700.4,1203.7 1703.0,1204.7 1705.6,1205.6 1708.3,1206.7 1710.9,1207.7 1713.5,1208.8 1716.1,1209.9 1718.8,1211.0 1721.4,1212.2 1724.0,1213.3 1726.6,1214.5 1729.3,1215.8 1731.9,1217.0 1734.5,1218.3 1737.2,1219.6 1739.8,1220.9 1742.4,1222.2 1745.0,1223.5 1747.7,1224.8 1750.3,1226.2 1752.9,1227.5 1755.5,1228.9 1758.2,1230.2 1760.8,1231.6 1763.4,1233.0 1766.0,1234.3 1768.7,1235.7 1771.3,1237.0 1773.9,1238.4 1776.6,1239.7 1779.2,1241.1 1781.8,1242.4 1784.4,1243.7 1787.1,1245.0 1789.7,1246.2 1792.3,1247.5 1794.9,1248.7 1797.6,1249.9 1800.2,1251.1 1802.8,1252.3 1805.5,1253.4 1808.1,1254.5 1810.7,1255.6 1813.3,1256.7 1816.0,1257.7 1818.6,1258.7 1821.2,1259.6 1823.8,1260.6 1826.5,1261.4 1829.1,1262.3 1831.7,1263.1 1834.3,1263.9 1837.0,1264.6 1839.6,1265.3 1842.2,1265.9 1844.9,1266.5 1847.5,1267.1 1850.1,1267.6 1852.7,1268.1 1855.4,1268.5 1858.0,1268.8 1860.6,1269.2 1863.2,1269.5 1865.9,1269.7 1868.5,1269.9 1871.1,1270.0 1873.7,1270.1 1876.4,1270.1 1879.0,1270.1 1881.6,1270.0 1884.3,1269.9 1886.9,1269.6 1889.5,1269.3 1892.1,1268.9 1894.8,1268.4 1897.4,1267.8 1900.0,1267.2 1902.6,1266.6 1905.3,1265.8 1907.9,1265.0 1910.5,1264.2 1913.1,1263.3 1915.8,1262.4 1918.4,1261.5 1921.0,1260.6 1923.7,1259.6 1926.3,1258.6 1928.9,1257.6 1931.5,1256.6 1934.2,1255.7 1936.8,1254.7 1939.4,1253.8 1942.0,1252.9 1944.7,1252.0 1947.3,1251.2 1949.9,1250.4 1952.6,1249.6 1955.2,1249.0 1957.8,1248.4 1960.4,1247.8 1963.1,1247.3 1965.7,1246.9 1968.3,1246.6 1970.9,1246.4 1973.6,1246.2 1976.2,1246.1 1978.8,1246.1 1981.4,1246.1 1984.1,1246.1 1986.7,1246.1 1989.3,1246.1 1992.0,1246.1 1994.6,1246.1 1997.2,1246.1 1999.8,1246.1 2002.5,1246.1 2005.1,1246.1 2007.7,1246.1 2010.3,1246.1 2013.0,1246.1 2015.6,1246.1 2018.2,1246.1 2020.8,1246.1 2023.5,1246.1 2026.1,1246.1 2028.7,1246.1 2031.4,1246.1 2034.0,1246.1 2036.6,1246.1 2039.2,1246.1 2041.9,1246.1 2044.5,1246.1 2047.1,1246.1 2049.7,1246.1 2052.4,1246.1 2055.0,1246.1 2057.6,1246.1 2060.3,1246.1 2062.9,1246.1 2065.5,1246.1" fill="none" stroke="#8a8af0" stroke-width="3.6" stroke-linejoin="round" opacity="0.35"/>
<polyline points="1422.8,1563.5 1422.6,1541.6 1421.7,1546.8 1421.3,1533.7 1421.9,1522.8 1424.6,1515.4 1427.2,1508.2 1429.8,1501.0 1432.4,1493.9 1435.1,1486.9 1437.7,1480.0 1440.3,1473.2 1443.0,1466.4 1445.6,1459.7 1448.2,1453.1 1450.8,1446.5 1453.5,1440.1 1456.1,1433.7 1458.7,1427.4 1461.3,1421.2 1464.0,1415.0 1466.6,1409.0 1469.2,1403.0 1471.8,1397.1 1474.5,1391.3 1477.1,1385.5 1479.7,1379.9 1482.4,1374.3 1485.0,1368.8 1487.6,1363.4 1490.2,1358.0 1492.9,1352.8 1495.5,1347.6 1498.1,1342.5 1500.7,1337.5 1503.4,1332.6 1506.0,1327.7 1508.6,1322.9 1511.2,1318.3 1513.9,1313.7 1516.5,1309.1 1519.1,1304.7 1521.8,1300.3 1524.4,1296.1 1527.0,1291.9 1529.6,1287.8 1532.3,1283.7 1534.9,1279.8 1537.5,1275.9 1540.1,1272.1 1542.8,1268.5 1545.4,1264.8 1548.0,1261.3 1550.7,1257.9 1553.3,1254.5 1555.9,1251.3 1558.5,1248.1 1561.2,1245.0 1563.8,1242.0 1566.4,1239.0 1569.0,1236.2 1571.7,1233.4 1574.3,1230.8 1576.9,1228.2 1579.5,1225.7 1582.2,1223.3 1584.8,1221.0 1587.4,1218.8 1590.1,1216.6 1592.7,1214.6 1595.3,1212.6 1597.9,1210.8 1600.6,1209.0 1603.2,1207.3 1605.8,1205.7 1608.4,1204.2 1611.1,1202.8 1613.7,1201.5 1616.3,1200.3 1618.9,1199.2 1621.6,1198.1 1624.2,1197.2 1626.8,1196.4 1629.5,1195.7 1632.1,1195.0 1634.7,1194.5 1637.3,1194.1 1640.0,1193.8 1642.6,1193.6 1645.2,1193.5 1647.8,1193.6 1650.5,1193.6 1653.1,1193.7 1655.7,1193.9 1658.3,1194.1 1661.0,1194.4 1663.6,1194.7 1666.2,1195.1 1668.9,1195.5 1671.5,1195.9 1674.1,1196.4 1676.7,1197.0 1679.4,1197.6 1682.0,1198.2 1684.6,1198.9 1687.2,1199.6 1689.9,1200.3 1692.5,1201.1 1695.1,1201.9 1697.8,1202.8 1700.4,1203.7 1703.0,1204.7 1705.6,1205.6 1708.3,1206.7 1710.9,1207.7 1713.5,1208.8 1716.1,1209.9 1718.8,1211.0 1721.4,1212.2 1724.0,1213.3 1726.6,1214.5 1729.3,1215.8 1731.9,1217.0 1734.5,1218.3 1737.2,1219.6 1739.8,1220.9 1742.4,1222.2 1745.0,1223.5 1747.7,1224.8 1750.3,1226.2 1752.9,1227.5 1755.5,1228.9 1758.2,1230.2 1760.8,1231.6 1763.4,1233.0 1766.0,1234.3 1768.7,1235.7 1771.3,1237.0 1773.9,1238.4 1776.6,1239.7 1779.2,1241.1 1781.8,1242.4 1784.4,1243.7 1787.1,1245.0 1789.7,1246.2 1792.3,1247.5 1794.9,1248.7 1797.6,1249.9 1800.2,1251.1 1802.8,1252.3 1805.5,1253.4 1808.1,1254.5 1810.7,1255.6 1813.3,1256.7 1816.0,1257.7 1818.6,1258.7 1821.2,1259.6 1823.8,1260.6 1826.5,1261.4 1829.1,1262.3 1831.7,1263.1 1834.3,1263.9 1837.0,1264.6 1839.6,1265.3 1842.2,1265.9 1844.9,1266.5 1847.5,1267.1 1850.1,1267.6 1852.7,1268.1 1855.4,1268.5 1858.0,1268.8 1860.6,1269.2 1863.2,1269.5 1865.9,1269.7 1868.5,1269.9 1871.1,1270.0 1873.7,1270.1 1876.4,1270.1 1879.0,1270.1 1881.6,1270.0 1884.3,1269.9 1886.9,1269.6 1889.5,1269.3 1892.1,1268.9 1894.8,1268.4 1897.4,1267.8 1900.0,1267.2 1902.6,1266.6 1905.3,1265.8 1907.9,1265.0 1910.5,1264.2 1913.1,1263.3 1915.8,1262.4 1918.4,1261.5 1921.0,1260.6 1923.7,1259.6 1926.3,1258.6 1928.9,1257.6 1931.5,1256.6 1934.2,1255.7 1936.8,1254.7 1939.4,1253.8 1942.0,1252.9 1944.7,1252.0 1947.3,1251.2 1949.9,1250.4 1952.6,1249.6 1955.2,1249.0 1957.8,1248.4 1960.4,1247.8 1963.1,1247.3 1965.7,1246.9 1968.3,1246.6 1970.9,1246.4 1973.6,1246.2 1976.2,1246.1 1978.8,1246.1 1981.4,1246.1 1984.1,1246.1 1986.7,1246.1 1989.3,1246.1 1992.0,1246.1 1994.6,1246.1 1997.2,1246.1 1999.8,1246.1 2002.5,1246.1 2005.1,1246.1 2007.7,1246.1 2010.3,1246.1 2013.0,1246.1 2015.6,1246.1 2018.2,1246.1 2020.8,1246.1 2023.5,1246.1 2026.1,1246.1 2028.7,1246.1 2031.4,1246.1 2034.0,1246.1 2036.6,1246.1 2039.2,1246.1 2041.9,1246.1 2044.5,1246.1 2047.1,1246.1 2049.7,1246.1 2052.4,1246.1 2055.0,1246.1 2057.6,1246.1 2060.3,1246.1 2062.9,1246.1 2065.5,1246.1" fill="none" stroke="#3a36d6" stroke-width="2.1" stroke-linejoin="round" opacity="0.95"/>
<polyline points="1422.8,1563.5 1422.6,1541.6 1421.7,1545.9 1421.3,1532.7 1421.9,1521.8 1424.6,1514.1 1427.2,1506.5 1429.8,1499.1 1432.4,1491.6 1435.1,1484.3 1437.7,1477.1 1440.3,1469.9 1443.0,1462.9 1445.6,1455.9 1448.2,1449.0 1450.8,1442.2 1453.5,1435.5 1456.1,1428.8 1458.7,1422.3 1461.3,1415.8 1464.0,1409.4 1466.6,1403.2 1469.2,1397.0 1471.8,1390.9 1474.5,1384.8 1477.1,1378.9 1479.7,1373.1 1482.4,1367.3 1485.0,1361.6 1487.6,1356.0 1490.2,1350.5 1492.9,1345.1 1495.5,1339.8 1498.1,1334.6 1500.7,1329.5 1503.4,1324.4 1506.0,1319.5 1508.6,1314.6 1511.2,1309.8 1513.9,1305.1 1516.5,1300.5 1519.1,1296.0 1521.8,1291.6 1524.4,1287.3 1527.0,1283.0 1529.6,1278.9 1532.3,1274.8 1534.9,1270.8 1537.5,1267.0 1540.1,1263.2 1542.8,1259.5 1545.4,1255.9 1548.0,1252.4 1550.7,1249.0 1553.3,1245.7 1555.9,1242.5 1558.5,1239.3 1561.2,1236.3 1563.8,1233.4 1566.4,1230.5 1569.0,1227.8 1571.7,1225.1 1574.3,1222.5 1576.9,1220.1 1579.5,1217.7 1582.2,1215.4 1584.8,1213.3 1587.4,1211.2 1590.1,1209.2 1592.7,1207.3 1595.3,1205.6 1597.9,1203.9 1600.6,1202.3 1603.2,1200.8 1605.8,1199.4 1608.4,1198.2 1611.1,1197.0 1613.7,1195.9 1616.3,1195.0 1618.9,1194.1 1621.6,1193.4 1624.2,1192.8 1626.8,1192.2 1629.5,1191.8 1632.1,1191.5 1634.7,1191.4 1637.3,1191.3 1640.0,1191.4 1642.6,1191.6 1645.2,1191.8 1647.8,1192.1 1650.5,1192.5 1653.1,1193.0 1655.7,1193.5 1658.3,1194.1 1661.0,1194.8 1663.6,1195.6 1666.2,1196.4 1668.9,1197.4 1671.5,1198.4 1674.1,1199.4 1676.7,1200.5 1679.4,1201.7 1682.0,1203.0 1684.6,1204.3 1687.2,1205.7 1689.9,1207.1 1692.5,1208.6 1695.1,1210.1 1697.8,1211.7 1700.4,1213.4 1703.0,1215.0 1705.6,1216.8 1708.3,1218.5 1710.9,1220.3 1713.5,1222.1 1716.1,1224.0 1718.8,1225.9 1721.4,1227.8 1724.0,1229.7 1726.6,1231.6 1729.3,1233.6 1731.9,1235.6 1734.5,1237.5 1737.2,1239.5 1739.8,1241.5 1742.4,1243.4 1745.0,1245.4 1747.7,1247.4 1750.3,1249.3 1752.9,1251.2 1755.5,1253.1 1758.2,1255.0 1760.8,1256.9 1763.4,1258.7 1766.0,1260.5 1768.7,1262.2 1771.3,1264.0 1773.9,1265.6 1776.6,1267.3 1779.2,1268.9 1781.8,1270.4 1784.4,1271.9 1787.1,1273.3 1789.7,1274.7 1792.3,1276.0 1794.9,1277.3 1797.6,1278.5 1800.2,1279.6 1802.8,1280.6 1805.5,1281.6 1808.1,1282.6 1810.7,1283.4 1813.3,1284.2 1816.0,1284.9 1818.6,1285.5 1821.2,1286.0 1823.8,1286.5 1826.5,1286.9 1829.1,1287.2 1831.7,1287.4 1834.3,1287.6 1837.0,1287.7 1839.6,1287.6 1842.2,1287.6 1844.9,1287.4 1847.5,1287.2 1850.1,1286.9 1852.7,1286.5 1855.4,1286.1 1858.0,1285.6 1860.6,1285.1 1863.2,1284.4 1865.9,1283.8 1868.5,1283.0 1871.1,1282.2 1873.7,1281.4 1876.4,1280.5 1879.0,1279.5 1881.6,1278.5 1884.3,1277.5 1886.9,1276.4 1889.5,1275.3 1892.1,1274.1 1894.8,1273.0 1897.4,1271.8 1900.0,1270.6 1902.6,1269.3 1905.3,1268.1 1907.9,1266.8 1910.5,1265.5 1913.1,1264.2 1915.8,1263.0 1918.4,1261.7 1921.0,1260.4 1923.7,1259.2 1926.3,1258.0 1928.9,1256.8 1931.5,1255.6 1934.2,1254.4 1936.8,1253.3 1939.4,1252.2 1942.0,1251.2 1944.7,1250.2 1947.3,1249.2 1949.9,1248.3 1952.6,1247.4 1955.2,1246.6 1957.8,1245.8 1960.4,1245.1 1963.1,1244.5 1965.7,1243.9 1968.3,1243.4 1970.9,1242.9 1973.6,1242.6 1976.2,1242.2 1978.8,1242.0 1981.4,1241.8 1984.1,1241.7 1986.7,1241.7 1989.3,1241.7 1992.0,1241.7 1994.6,1241.7 1997.2,1241.7 1999.8,1241.7 2002.5,1241.7 2005.1,1241.7 2007.7,1241.7 2010.3,1241.7 2013.0,1241.7 2015.6,1241.7 2018.2,1241.7 2020.8,1241.7 2023.5,1241.7 2026.1,1241.7 2028.7,1241.7 2031.4,1241.7 2034.0,1241.7 2036.6,1241.7 2039.2,1241.7 2041.9,1241.7 2044.5,1241.7 2047.1,1241.7 2049.7,1241.7 2052.4,1241.7 2055.0,1241.7 2057.6,1241.7 2060.3,1241.7 2062.9,1241.7 2065.5,1241.7" fill="none" stroke="#8a8af0" stroke-width="3.6" stroke-linejoin="round" opacity="0.35"/>
<polyline points="1422.8,1563.5 1422.6,1541.6 1421.7,1545.9 1421.3,1532.7 1421.9,1521.8 1424.6,1514.1 1427.2,1506.5 1429.8,1499.1 1432.4,1491.6 1435.1,1484.3 1437.7,1477.1 1440.3,1469.9 1443.0,1462.9 1445.6,1455.9 1448.2,1449.0 1450.8,1442.2 1453.5,1435.5 1456.1,1428.8 1458.7,1422.3 1461.3,1415.8 1464.0,1409.4 1466.6,1403.2 1469.2,1397.0 1471.8,1390.9 1474.5,1384.8 1477.1,1378.9 1479.7,1373.1 1482.4,1367.3 1485.0,1361.6 1487.6,1356.0 1490.2,1350.5 1492.9,1345.1 1495.5,1339.8 1498.1,1334.6 1500.7,1329.5 1503.4,1324.4 1506.0,1319.5 1508.6,1314.6 1511.2,1309.8 1513.9,1305.1 1516.5,1300.5 1519.1,1296.0 1521.8,1291.6 1524.4,1287.3 1527.0,1283.0 1529.6,1278.9 1532.3,1274.8 1534.9,1270.8 1537.5,1267.0 1540.1,1263.2 1542.8,1259.5 1545.4,1255.9 1548.0,1252.4 1550.7,1249.0 1553.3,1245.7 1555.9,1242.5 1558.5,1239.3 1561.2,1236.3 1563.8,1233.4 1566.4,1230.5 1569.0,1227.8 1571.7,1225.1 1574.3,1222.5 1576.9,1220.1 1579.5,1217.7 1582.2,1215.4 1584.8,1213.3 1587.4,1211.2 1590.1,1209.2 1592.7,1207.3 1595.3,1205.6 1597.9,1203.9 1600.6,1202.3 1603.2,1200.8 1605.8,1199.4 1608.4,1198.2 1611.1,1197.0 1613.7,1195.9 1616.3,1195.0 1618.9,1194.1 1621.6,1193.4 1624.2,1192.8 1626.8,1192.2 1629.5,1191.8 1632.1,1191.5 1634.7,1191.4 1637.3,1191.3 1640.0,1191.4 1642.6,1191.6 1645.2,1191.8 1647.8,1192.1 1650.5,1192.5 1653.1,1193.0 1655.7,1193.5 1658.3,1194.1 1661.0,1194.8 1663.6,1195.6 1666.2,1196.4 1668.9,1197.4 1671.5,1198.4 1674.1,1199.4 1676.7,1200.5 1679.4,1201.7 1682.0,1203.0 1684.6,1204.3 1687.2,1205.7 1689.9,1207.1 1692.5,1208.6 1695.1,1210.1 1697.8,1211.7 1700.4,1213.4 1703.0,1215.0 1705.6,1216.8 1708.3,1218.5 1710.9,1220.3 1713.5,1222.1 1716.1,1224.0 1718.8,1225.9 1721.4,1227.8 1724.0,1229.7 1726.6,1231.6 1729.3,1233.6 1731.9,1235.6 1734.5,1237.5 1737.2,1239.5 1739.8,1241.5 1742.4,1243.4 1745.0,1245.4 1747.7,1247.4 1750.3,1249.3 1752.9,1251.2 1755.5,1253.1 1758.2,1255.0 1760.8,1256.9 1763.4,1258.7 1766.0,1260.5 1768.7,1262.2 1771.3,1264.0 1773.9,1265.6 1776.6,1267.3 1779.2,1268.9 1781.8,1270.4 1784.4,1271.9 1787.1,1273.3 1789.7,1274.7 1792.3,1276.0 1794.9,1277.3 1797.6,1278.5 1800.2,1279.6 1802.8,1280.6 1805.5,1281.6 1808.1,1282.6 1810.7,1283.4 1813.3,1284.2 1816.0,1284.9 1818.6,1285.5 1821.2,1286.0 1823.8,1286.5 1826.5,1286.9 1829.1,1287.2 1831.7,1287.4 1834.3,1287.6 1837.0,1287.7 1839.6,1287.6 1842.2,1287.6 1844.9,1287.4 1847.5,1287.2 1850.1,1286.9 1852.7,1286.5 1855.4,1286.1 1858.0,1285.6 1860.6,1285.1 1863.2,1284.4 1865.9,1283.8 1868.5,1283.0 1871.1,1282.2 1873.7,1281.4 1876.4,1280.5 1879.0,1279.5 1881.6,1278.5 1884.3,1277.5 1886.9,1276.4 1889.5,1275.3 1892.1,1274.1 1894.8,1273.0 1897.4,1271.8 1900.0,1270.6 1902.6,1269.3 1905.3,1268.1 1907.9,1266.8 1910.5,1265.5 1913.1,1264.2 1915.8,1263.0 1918.4,1261.7 1921.0,1260.4 1923.7,1259.2 1926.3,1258.0 1928.9,1256.8 1931.5,1255.6 1934.2,1254.4 1936.8,1253.3 1939.4,1252.2 1942.0,1251.2 1944.7,1250.2 1947.3,1249.2 1949.9,1248.3 1952.6,1247.4 1955.2,1246.6 1957.8,1245.8 1960.4,1245.1 1963.1,1244.5 1965.7,1243.9 1968.3,1243.4 1970.9,1242.9 1973.6,1242.6 1976.2,1242.2 1978.8,1242.0 1981.4,1241.8 1984.1,1241.7 1986.7,1241.7 1989.3,1241.7 1992.0,1241.7 1994.6,1241.7 1997.2,1241.7 1999.8,1241.7 2002.5,1241.7 2005.1,1241.7 2007.7,1241.7 2010.3,1241.7 2013.0,1241.7 2015.6,1241.7 2018.2,1241.7 2020.8,1241.7 2023.5,1241.7 2026.1,1241.7 2028.7,1241.7 2031.4,1241.7 2034.0,1241.7 2036.6,1241.7 2039.2,1241.7 2041.9,1241.7 2044.5,1241.7 2047.1,1241.7 2049.7,1241.7 2052.4,1241.7 2055.0,1241.7 2057.6,1241.7 2060.3,1241.7 2062.9,1241.7 2065.5,1241.7" fill="none" stroke="#3a36d6" stroke-width="2.1" stroke-linejoin="round" opacity="0.95"/>
<polyline points="1422.8,1563.5 1422.6,1541.6 1421.7,1514.5 1421.3,1501.3 1421.9,1490.4 1424.6,1480.8 1427.2,1471.3 1429.8,1461.9 1432.4,1452.7 1435.1,1443.6 1437.7,1434.6 1440.3,1425.8 1443.0,1417.1 1445.6,1408.5 1448.2,1400.1 1450.8,1391.8 1453.5,1383.6 1456.1,1375.5 1458.7,1367.6 1461.3,1359.8 1464.0,1352.1 1466.6,1344.5 1469.2,1337.1 1471.8,1329.8 1474.5,1322.7 1477.1,1315.6 1479.7,1308.7 1482.4,1301.9 1485.0,1295.3 1487.6,1288.7 1490.2,1282.3 1492.9,1276.0 1495.5,1269.9 1498.1,1263.9 1500.7,1258.0 1503.4,1252.2 1506.0,1246.5 1508.6,1241.0 1511.2,1235.6 1513.9,1230.3 1516.5,1225.2 1519.1,1220.1 1521.8,1215.2 1524.4,1210.4 1527.0,1205.8 1529.6,1201.2 1532.3,1196.8 1534.9,1192.5 1537.5,1188.3 1540.1,1184.3 1542.8,1180.4 1545.4,1176.5 1548.0,1172.9 1550.7,1169.3 1553.3,1165.8 1555.9,1162.5 1558.5,1159.3 1561.2,1156.2 1563.8,1153.2 1566.4,1150.4 1569.0,1147.6 1571.7,1145.0 1574.3,1142.5 1576.9,1140.1 1579.5,1137.8 1582.2,1135.7 1584.8,1133.6 1587.4,1131.7 1590.1,1129.9 1592.7,1128.2 1595.3,1126.6 1597.9,1125.1 1600.6,1123.8 1603.2,1122.5 1605.8,1121.3 1608.4,1120.3 1611.1,1119.4 1613.7,1118.6 1616.3,1117.8 1618.9,1117.2 1621.6,1116.7 1624.2,1116.3 1626.8,1116.0 1629.5,1115.8 1632.1,1115.6 1634.7,1115.6 1637.3,1115.6 1640.0,1115.8 1642.6,1116.0 1645.2,1116.3 1647.8,1116.6 1650.5,1117.1 1653.1,1117.6 1655.7,1118.2 1658.3,1118.9 1661.0,1119.6 1663.6,1120.4 1666.2,1121.3 1668.9,1122.3 1671.5,1123.4 1674.1,1124.5 1676.7,1125.7 1679.4,1126.9 1682.0,1128.2 1684.6,1129.6 1687.2,1131.0 1689.9,1132.5 1692.5,1134.0 1695.1,1135.6 1697.8,1137.3 1700.4,1138.9 1703.0,1140.7 1705.6,1142.4 1708.3,1144.2 1710.9,1146.1 1713.5,1147.9 1716.1,1149.8 1718.8,1151.8 1721.4,1153.7 1724.0,1155.7 1726.6,1157.7 1729.3,1159.6 1731.9,1161.6 1734.5,1163.7 1737.2,1165.7 1739.8,1167.7 1742.4,1169.7 1745.0,1171.7 1747.7,1173.7 1750.3,1175.7 1752.9,1177.6 1755.5,1179.6 1758.2,1181.5 1760.8,1183.4 1763.4,1185.2 1766.0,1187.0 1768.7,1188.8 1771.3,1190.6 1773.9,1192.3 1776.6,1194.0 1779.2,1195.6 1781.8,1197.2 1784.4,1198.7 1787.1,1200.1 1789.7,1201.6 1792.3,1202.9 1794.9,1204.2 1797.6,1205.4 1800.2,1206.6 1802.8,1207.7 1805.5,1208.7 1808.1,1209.6 1810.7,1210.5 1813.3,1211.3 1816.0,1212.0 1818.6,1212.7 1821.2,1213.3 1823.8,1213.8 1826.5,1214.2 1829.1,1214.5 1831.7,1214.8 1834.3,1215.0 1837.0,1215.1 1839.6,1215.1 1842.2,1215.0 1844.9,1214.8 1847.5,1214.6 1850.1,1214.3 1852.7,1213.9 1855.4,1213.4 1858.0,1212.8 1860.6,1212.1 1863.2,1211.4 1865.9,1210.6 1868.5,1209.7 1871.1,1208.8 1873.7,1207.8 1876.4,1206.7 1879.0,1205.6 1881.6,1204.4 1884.3,1203.2 1886.9,1201.9 1889.5,1200.6 1892.1,1199.3 1894.8,1197.9 1897.4,1196.4 1900.0,1195.0 1902.6,1193.5 1905.3,1192.1 1907.9,1190.6 1910.5,1189.1 1913.1,1187.6 1915.8,1186.1 1918.4,1184.6 1921.0,1183.2 1923.7,1181.7 1926.3,1180.3 1928.9,1178.9 1931.5,1177.6 1934.2,1176.2 1936.8,1175.0 1939.4,1173.7 1942.0,1172.6 1944.7,1171.4 1947.3,1170.4 1949.9,1169.4 1952.6,1168.4 1955.2,1167.6 1957.8,1166.8 1960.4,1166.0 1963.1,1165.4 1965.7,1164.8 1968.3,1164.3 1970.9,1163.9 1973.6,1163.6 1976.2,1163.3 1978.8,1163.2 1981.4,1163.1 1984.1,1163.1 1986.7,1163.1 1989.3,1163.1 1992.0,1163.1 1994.6,1163.1 1997.2,1163.1 1999.8,1163.1 2002.5,1163.1 2005.1,1163.1 2007.7,1163.1 2010.3,1163.1 2013.0,1163.1 2015.6,1163.1 2018.2,1163.1 2020.8,1163.1 2023.5,1163.1 2026.1,1163.1 2028.7,1163.1 2031.4,1163.1 2034.0,1163.1 2036.6,1163.1 2039.2,1163.1 2041.9,1163.1 2044.5,1163.1 2047.1,1163.1 2049.7,1163.1 2052.4,1163.1 2055.0,1163.1 2057.6,1163.1 2060.3,1163.1 2062.9,1163.1 2065.5,1163.1" fill="none" stroke="#8a8af0" stroke-width="3.6" stroke-linejoin="round" opacity="0.35"/>
<polyline points="1422.8,1563.5 1422.6,1541.6 1421.7,1514.5 1421.3,1501.3 1421.9,1490.4 1424.6,1480.8 1427.2,1471.3 1429.8,1461.9 1432.4,1452.7 1435.1,1443.6 1437.7,1434.6 1440.3,1425.8 1443.0,1417.1 1445.6,1408.5 1448.2,1400.1 1450.8,1391.8 1453.5,1383.6 1456.1,1375.5 1458.7,1367.6 1461.3,1359.8 1464.0,1352.1 1466.6,1344.5 1469.2,1337.1 1471.8,1329.8 1474.5,1322.7 1477.1,1315.6 1479.7,1308.7 1482.4,1301.9 1485.0,1295.3 1487.6,1288.7 1490.2,1282.3 1492.9,1276.0 1495.5,1269.9 1498.1,1263.9 1500.7,1258.0 1503.4,1252.2 1506.0,1246.5 1508.6,1241.0 1511.2,1235.6 1513.9,1230.3 1516.5,1225.2 1519.1,1220.1 1521.8,1215.2 1524.4,1210.4 1527.0,1205.8 1529.6,1201.2 1532.3,1196.8 1534.9,1192.5 1537.5,1188.3 1540.1,1184.3 1542.8,1180.4 1545.4,1176.5 1548.0,1172.9 1550.7,1169.3 1553.3,1165.8 1555.9,1162.5 1558.5,1159.3 1561.2,1156.2 1563.8,1153.2 1566.4,1150.4 1569.0,1147.6 1571.7,1145.0 1574.3,1142.5 1576.9,1140.1 1579.5,1137.8 1582.2,1135.7 1584.8,1133.6 1587.4,1131.7 1590.1,1129.9 1592.7,1128.2 1595.3,1126.6 1597.9,1125.1 1600.6,1123.8 1603.2,1122.5 1605.8,1121.3 1608.4,1120.3 1611.1,1119.4 1613.7,1118.6 1616.3,1117.8 1618.9,1117.2 1621.6,1116.7 1624.2,1116.3 1626.8,1116.0 1629.5,1115.8 1632.1,1115.6 1634.7,1115.6 1637.3,1115.6 1640.0,1115.8 1642.6,1116.0 1645.2,1116.3 1647.8,1116.6 1650.5,1117.1 1653.1,1117.6 1655.7,1118.2 1658.3,1118.9 1661.0,1119.6 1663.6,1120.4 1666.2,1121.3 1668.9,1122.3 1671.5,1123.4 1674.1,1124.5 1676.7,1125.7 1679.4,1126.9 1682.0,1128.2 1684.6,1129.6 1687.2,1131.0 1689.9,1132.5 1692.5,1134.0 1695.1,1135.6 1697.8,1137.3 1700.4,1138.9 1703.0,1140.7 1705.6,1142.4 1708.3,1144.2 1710.9,1146.1 1713.5,1147.9 1716.1,1149.8 1718.8,1151.8 1721.4,1153.7 1724.0,1155.7 1726.6,1157.7 1729.3,1159.6 1731.9,1161.6 1734.5,1163.7 1737.2,1165.7 1739.8,1167.7 1742.4,1169.7 1745.0,1171.7 1747.7,1173.7 1750.3,1175.7 1752.9,1177.6 1755.5,1179.6 1758.2,1181.5 1760.8,1183.4 1763.4,1185.2 1766.0,1187.0 1768.7,1188.8 1771.3,1190.6 1773.9,1192.3 1776.6,1194.0 1779.2,1195.6 1781.8,1197.2 1784.4,1198.7 1787.1,1200.1 1789.7,1201.6 1792.3,1202.9 1794.9,1204.2 1797.6,1205.4 1800.2,1206.6 1802.8,1207.7 1805.5,1208.7 1808.1,1209.6 1810.7,1210.5 1813.3,1211.3 1816.0,1212.0 1818.6,1212.7 1821.2,1213.3 1823.8,1213.8 1826.5,1214.2 1829.1,1214.5 1831.7,1214.8 1834.3,1215.0 1837.0,1215.1 1839.6,1215.1 1842.2,1215.0 1844.9,1214.8 1847.5,1214.6 1850.1,1214.3 1852.7,1213.9 1855.4,1213.4 1858.0,1212.8 1860.6,1212.1 1863.2,1211.4 1865.9,1210.6 1868.5,1209.7 1871.1,1208.8 1873.7,1207.8 1876.4,1206.7 1879.0,1205.6 1881.6,1204.4 1884.3,1203.2 1886.9,1201.9 1889.5,1200.6 1892.1,1199.3 1894.8,1197.9 1897.4,1196.4 1900.0,1195.0 1902.6,1193.5 1905.3,1192.1 1907.9,1190.6 1910.5,1189.1 1913.1,1187.6 1915.8,1186.1 1918.4,1184.6 1921.0,1183.2 1923.7,1181.7 1926.3,1180.3 1928.9,1178.9 1931.5,1177.6 1934.2,1176.2 1936.8,1175.0 1939.4,1173.7 1942.0,1172.6 1944.7,1171.4 1947.3,1170.4 1949.9,1169.4 1952.6,1168.4 1955.2,1167.6 1957.8,1166.8 1960.4,1166.0 1963.1,1165.4 1965.7,1164.8 1968.3,1164.3 1970.9,1163.9 1973.6,1163.6 1976.2,1163.3 1978.8,1163.2 1981.4,1163.1 1984.1,1163.1 1986.7,1163.1 1989.3,1163.1 1992.0,1163.1 1994.6,1163.1 1997.2,1163.1 1999.8,1163.1 2002.5,1163.1 2005.1,1163.1 2007.7,1163.1 2010.3,1163.1 2013.0,1163.1 2015.6,1163.1 2018.2,1163.1 2020.8,1163.1 2023.5,1163.1 2026.1,1163.1 2028.7,1163.1 2031.4,1163.1 2034.0,1163.1 2036.6,1163.1 2039.2,1163.1 2041.9,1163.1 2044.5,1163.1 2047.1,1163.1 2049.7,1163.1 2052.4,1163.1 2055.0,1163.1 2057.6,1163.1 2060.3,1163.1 2062.9,1163.1 2065.5,1163.1" fill="none" stroke="#3a36d6" stroke-width="2.1" stroke-linejoin="round" opacity="0.95"/>
<polyline points="1422.8,1563.5 1422.6,1541.6 1421.7,1518.1 1421.3,1505.0 1421.9,1494.0 1424.6,1485.0 1427.2,1476.0 1429.8,1467.2 1432.4,1458.5 1435.1,1449.9 1437.7,1441.4 1440.3,1433.1 1443.0,1424.8 1445.6,1416.7 1448.2,1408.7 1450.8,1400.8 1453.5,1393.0 1456.1,1385.4 1458.7,1377.8 1461.3,1370.4 1464.0,1363.0 1466.6,1355.8 1469.2,1348.7 1471.8,1341.7 1474.5,1334.9 1477.1,1328.1 1479.7,1321.5 1482.4,1315.0 1485.0,1308.5 1487.6,1302.2 1490.2,1296.1 1492.9,1290.0 1495.5,1284.0 1498.1,1278.2 1500.7,1272.4 1503.4,1266.8 1506.0,1261.3 1508.6,1255.9 1511.2,1250.6 1513.9,1245.4 1516.5,1240.4 1519.1,1235.4 1521.8,1230.6 1524.4,1225.8 1527.0,1221.2 1529.6,1216.7 1532.3,1212.3 1534.9,1208.0 1537.5,1203.8 1540.1,1199.8 1542.8,1195.8 1545.4,1192.0 1548.0,1188.2 1550.7,1184.6 1553.3,1181.1 1555.9,1177.7 1558.5,1174.4 1561.2,1171.2 1563.8,1168.1 1566.4,1165.1 1569.0,1162.2 1571.7,1159.5 1574.3,1156.8 1576.9,1154.3 1579.5,1151.8 1582.2,1149.5 1584.8,1147.2 1587.4,1145.1 1590.1,1143.1 1592.7,1141.2 1595.3,1139.4 1597.9,1137.7 1600.6,1136.0 1603.2,1134.5 1605.8,1133.1 1608.4,1131.8 1611.1,1130.6 1613.7,1129.6 1616.3,1128.6 1618.9,1127.7 1621.6,1126.9 1624.2,1126.2 1626.8,1125.6 1629.5,1125.1 1632.1,1124.6 1634.7,1124.3 1637.3,1124.1 1640.0,1124.0 1642.6,1123.9 1645.2,1123.9 1647.8,1124.0 1650.5,1124.2 1653.1,1124.5 1655.7,1124.8 1658.3,1125.2 1661.0,1125.7 1663.6,1126.2 1666.2,1126.8 1668.9,1127.5 1671.5,1128.3 1674.1,1129.1 1676.7,1130.0 1679.4,1131.0 1682.0,1132.0 1684.6,1133.1 1687.2,1134.3 1689.9,1135.5 1692.5,1136.7 1695.1,1138.1 1697.8,1139.4 1700.4,1140.9 1703.0,1142.3 1705.6,1143.9 1708.3,1145.4 1710.9,1147.0 1713.5,1148.7 1716.1,1150.4 1718.8,1152.1 1721.4,1153.9 1724.0,1155.6 1726.6,1157.4 1729.3,1159.3 1731.9,1161.1 1734.5,1163.0 1737.2,1164.9 1739.8,1166.8 1742.4,1168.7 1745.0,1170.6 1747.7,1172.5 1750.3,1174.4 1752.9,1176.3 1755.5,1178.2 1758.2,1180.1 1760.8,1181.9 1763.4,1183.8 1766.0,1185.6 1768.7,1187.4 1771.3,1189.2 1773.9,1191.0 1776.6,1192.7 1779.2,1194.4 1781.8,1196.1 1784.4,1197.7 1787.1,1199.3 1789.7,1200.9 1792.3,1202.4 1794.9,1203.8 1797.6,1205.2 1800.2,1206.6 1802.8,1207.9 1805.5,1209.1 1808.1,1210.3 1810.7,1211.4 1813.3,1212.5 1816.0,1213.5 1818.6,1214.4 1821.2,1215.3 1823.8,1216.1 1826.5,1216.8 1829.1,1217.5 1831.7,1218.0 1834.3,1218.5 1837.0,1219.0 1839.6,1219.4 1842.2,1219.6 1844.9,1219.9 1847.5,1220.0 1850.1,1220.1 1852.7,1220.0 1855.4,1219.9 1858.0,1219.7 1860.6,1219.4 1863.2,1219.0 1865.9,1218.5 1868.5,1217.9 1871.1,1217.3 1873.7,1216.5 1876.4,1215.7 1879.0,1214.8 1881.6,1213.8 1884.3,1212.7 1886.9,1211.6 1889.5,1210.4 1892.1,1209.2 1894.8,1207.9 1897.4,1206.6 1900.0,1205.2 1902.6,1203.8 1905.3,1202.3 1907.9,1200.9 1910.5,1199.4 1913.1,1197.9 1915.8,1196.4 1918.4,1194.9 1921.0,1193.5 1923.7,1192.0 1926.3,1190.6 1928.9,1189.2 1931.5,1187.8 1934.2,1186.4 1936.8,1185.1 1939.4,1183.9 1942.0,1182.7 1944.7,1181.6 1947.3,1180.5 1949.9,1179.6 1952.6,1178.6 1955.2,1177.8 1957.8,1177.1 1960.4,1176.4 1963.1,1175.8 1965.7,1175.3 1968.3,1174.9 1970.9,1174.6 1973.6,1174.4 1976.2,1174.3 1978.8,1174.3 1981.4,1174.3 1984.1,1174.3 1986.7,1174.3 1989.3,1174.3 1992.0,1174.3 1994.6,1174.3 1997.2,1174.3 1999.8,1174.3 2002.5,1174.3 2005.1,1174.3 2007.7,1174.3 2010.3,1174.3 2013.0,1174.3 2015.6,1174.3 2018.2,1174.3 2020.8,1174.3 2023.5,1174.3 2026.1,1174.3 2028.7,1174.3 2031.4,1174.3 2034.0,1174.3 2036.6,1174.3 2039.2,1174.3 2041.9,1174.3 2044.5,1174.3 2047.1,1174.3 2049.7,1174.3 2052.4,1174.3 2055.0,1174.3 2057.6,1174.3 2060.3,1174.3 2062.9,1174.3 2065.5,1174.3" fill="none" stroke="#8a8af0" stroke-width="3.6" stroke-linejoin="round" opacity="0.35"/>
<polyline points="1422.8,1563.5 1422.6,1541.6 1421.7,1518.1 1421.3,1505.0 1421.9,1494.0 1424.6,1485.0 1427.2,1476.0 1429.8,1467.2 1432.4,1458.5 1435.1,1449.9 1437.7,1441.4 1440.3,1433.1 1443.0,1424.8 1445.6,1416.7 1448.2,1408.7 1450.8,1400.8 1453.5,1393.0 1456.1,1385.4 1458.7,1377.8 1461.3,1370.4 1464.0,1363.0 1466.6,1355.8 1469.2,1348.7 1471.8,1341.7 1474.5,1334.9 1477.1,1328.1 1479.7,1321.5 1482.4,1315.0 1485.0,1308.5 1487.6,1302.2 1490.2,1296.1 1492.9,1290.0 1495.5,1284.0 1498.1,1278.2 1500.7,1272.4 1503.4,1266.8 1506.0,1261.3 1508.6,1255.9 1511.2,1250.6 1513.9,1245.4 1516.5,1240.4 1519.1,1235.4 1521.8,1230.6 1524.4,1225.8 1527.0,1221.2 1529.6,1216.7 1532.3,1212.3 1534.9,1208.0 1537.5,1203.8 1540.1,1199.8 1542.8,1195.8 1545.4,1192.0 1548.0,1188.2 1550.7,1184.6 1553.3,1181.1 1555.9,1177.7 1558.5,1174.4 1561.2,1171.2 1563.8,1168.1 1566.4,1165.1 1569.0,1162.2 1571.7,1159.5 1574.3,1156.8 1576.9,1154.3 1579.5,1151.8 1582.2,1149.5 1584.8,1147.2 1587.4,1145.1 1590.1,1143.1 1592.7,1141.2 1595.3,1139.4 1597.9,1137.7 1600.6,1136.0 1603.2,1134.5 1605.8,1133.1 1608.4,1131.8 1611.1,1130.6 1613.7,1129.6 1616.3,1128.6 1618.9,1127.7 1621.6,1126.9 1624.2,1126.2 1626.8,1125.6 1629.5,1125.1 1632.1,1124.6 1634.7,1124.3 1637.3,1124.1 1640.0,1124.0 1642.6,1123.9 1645.2,1123.9 1647.8,1124.0 1650.5,1124.2 1653.1,1124.5 1655.7,1124.8 1658.3,1125.2 1661.0,1125.7 1663.6,1126.2 1666.2,1126.8 1668.9,1127.5 1671.5,1128.3 1674.1,1129.1 1676.7,1130.0 1679.4,1131.0 1682.0,1132.0 1684.6,1133.1 1687.2,1134.3 1689.9,1135.5 1692.5,1136.7 1695.1,1138.1 1697.8,1139.4 1700.4,1140.9 1703.0,1142.3 1705.6,1143.9 1708.3,1145.4 1710.9,1147.0 1713.5,1148.7 1716.1,1150.4 1718.8,1152.1 1721.4,1153.9 1724.0,1155.6 1726.6,1157.4 1729.3,1159.3 1731.9,1161.1 1734.5,1163.0 1737.2,1164.9 1739.8,1166.8 1742.4,1168.7 1745.0,1170.6 1747.7,1172.5 1750.3,1174.4 1752.9,1176.3 1755.5,1178.2 1758.2,1180.1 1760.8,1181.9 1763.4,1183.8 1766.0,1185.6 1768.7,1187.4 1771.3,1189.2 1773.9,1191.0 1776.6,1192.7 1779.2,1194.4 1781.8,1196.1 1784.4,1197.7 1787.1,1199.3 1789.7,1200.9 1792.3,1202.4 1794.9,1203.8 1797.6,1205.2 1800.2,1206.6 1802.8,1207.9 1805.5,1209.1 1808.1,1210.3 1810.7,1211.4 1813.3,1212.5 1816.0,1213.5 1818.6,1214.4 1821.2,1215.3 1823.8,1216.1 1826.5,1216.8 1829.1,1217.5 1831.7,1218.0 1834.3,1218.5 1837.0,1219.0 1839.6,1219.4 1842.2,1219.6 1844.9,1219.9 1847.5,1220.0 1850.1,1220.1 1852.7,1220.0 1855.4,1219.9 1858.0,1219.7 1860.6,1219.4 1863.2,1219.0 1865.9,1218.5 1868.5,1217.9 1871.1,1217.3 1873.7,1216.5 1876.4,1215.7 1879.0,1214.8 1881.6,1213.8 1884.3,1212.7 1886.9,1211.6 1889.5,1210.4 1892.1,1209.2 1894.8,1207.9 1897.4,1206.6 1900.0,1205.2 1902.6,1203.8 1905.3,1202.3 1907.9,1200.9 1910.5,1199.4 1913.1,1197.9 1915.8,1196.4 1918.4,1194.9 1921.0,1193.5 1923.7,1192.0 1926.3,1190.6 1928.9,1189.2 1931.5,1187.8 1934.2,1186.4 1936.8,1185.1 1939.4,1183.9 1942.0,1182.7 1944.7,1181.6 1947.3,1180.5 1949.9,1179.6 1952.6,1178.6 1955.2,1177.8 1957.8,1177.1 1960.4,1176.4 1963.1,1175.8 1965.7,1175.3 1968.3,1174.9 1970.9,1174.6 1973.6,1174.4 1976.2,1174.3 1978.8,1174.3 1981.4,1174.3 1984.1,1174.3 1986.7,1174.3 1989.3,1174.3 1992.0,1174.3 1994.6,1174.3 1997.2,1174.3 1999.8,1174.3 2002.5,1174.3 2005.1,1174.3 2007.7,1174.3 2010.3,1174.3 2013.0,1174.3 2015.6,1174.3 2018.2,1174.3 2020.8,1174.3 2023.5,1174.3 2026.1,1174.3 2028.7,1174.3 2031.4,1174.3 2034.0,1174.3 2036.6,1174.3 2039.2,1174.3 2041.9,1174.3 2044.5,1174.3 2047.1,1174.3 2049.7,1174.3 2052.4,1174.3 2055.0,1174.3 2057.6,1174.3 2060.3,1174.3 2062.9,1174.3 2065.5,1174.3" fill="none" stroke="#3a36d6" stroke-width="2.1" stroke-linejoin="round" opacity="0.95"/>
<polyline points="1422.8,1563.5 1422.6,1541.6 1421.7,1543.4 1421.3,1530.3 1421.9,1519.3 1424.6,1511.3 1427.2,1503.4 1429.8,1495.5 1432.4,1487.8 1435.1,1480.1 1437.7,1472.6 1440.3,1465.1 1443.0,1457.7 1445.6,1450.4 1448.2,1443.3 1450.8,1436.2 1453.5,1429.2 1456.1,1422.3 1458.7,1415.4 1461.3,1408.7 1464.0,1402.1 1466.6,1395.6 1469.2,1389.1 1471.8,1382.8 1474.5,1376.6 1477.1,1370.4 1479.7,1364.4 1482.4,1358.4 1485.0,1352.5 1487.6,1346.8 1490.2,1341.1 1492.9,1335.5 1495.5,1330.0 1498.1,1324.7 1500.7,1319.4 1503.4,1314.2 1506.0,1309.1 1508.6,1304.1 1511.2,1299.2 1513.9,1294.4 1516.5,1289.6 1519.1,1285.0 1521.8,1280.5 1524.4,1276.1 1527.0,1271.8 1529.6,1267.6 1532.3,1263.4 1534.9,1259.4 1537.5,1255.5 1540.1,1251.6 1542.8,1247.9 1545.4,1244.3 1548.0,1240.7 1550.7,1237.3 1553.3,1234.0 1555.9,1230.7 1558.5,1227.6 1561.2,1224.5 1563.8,1221.6 1566.4,1218.8 1569.0,1216.0 1571.7,1213.4 1574.3,1210.9 1576.9,1208.4 1579.5,1206.1 1582.2,1203.9 1584.8,1201.8 1587.4,1199.7 1590.1,1197.8 1592.7,1196.0 1595.3,1194.3 1597.9,1192.7 1600.6,1191.2 1603.2,1189.8 1605.8,1188.5 1608.4,1187.3 1611.1,1186.3 1613.7,1185.3 1616.3,1184.5 1618.9,1183.7 1621.6,1183.1 1624.2,1182.6 1626.8,1182.2 1629.5,1181.9 1632.1,1181.7 1634.7,1181.7 1637.3,1181.8 1640.0,1181.9 1642.6,1182.2 1645.2,1182.5 1647.8,1182.9 1650.5,1183.4 1653.1,1184.0 1655.7,1184.7 1658.3,1185.4 1661.0,1186.2 1663.6,1187.1 1666.2,1188.1 1668.9,1189.2 1671.5,1190.3 1674.1,1191.5 1676.7,1192.8 1679.4,1194.1 1682.0,1195.5 1684.6,1197.0 1687.2,1198.5 1689.9,1200.1 1692.5,1201.7 1695.1,1203.4 1697.8,1205.1 1700.4,1206.9 1703.0,1208.8 1705.6,1210.6 1708.3,1212.5 1710.9,1214.5 1713.5,1216.5 1716.1,1218.5 1718.8,1220.5 1721.4,1222.6 1724.0,1224.6 1726.6,1226.7 1729.3,1228.8 1731.9,1230.9 1734.5,1233.1 1737.2,1235.2 1739.8,1237.3 1742.4,1239.4 1745.0,1241.5 1747.7,1243.6 1750.3,1245.6 1752.9,1247.7 1755.5,1249.7 1758.2,1251.7 1760.8,1253.7 1763.4,1255.6 1766.0,1257.5 1768.7,1259.4 1771.3,1261.2 1773.9,1263.0 1776.6,1264.7 1779.2,1266.4 1781.8,1268.0 1784.4,1269.6 1787.1,1271.1 1789.7,1272.5 1792.3,1273.9 1794.9,1275.2 1797.6,1276.4 1800.2,1277.6 1802.8,1278.7 1805.5,1279.8 1808.1,1280.7 1810.7,1281.6 1813.3,1282.4 1816.0,1283.1 1818.6,1283.7 1821.2,1284.3 1823.8,1284.7 1826.5,1285.1 1829.1,1285.4 1831.7,1285.6 1834.3,1285.8 1837.0,1285.8 1839.6,1285.7 1842.2,1285.5 1844.9,1285.1 1847.5,1284.5 1850.1,1283.7 1852.7,1282.8 1855.4,1281.7 1858.0,1280.5 1860.6,1279.1 1863.2,1277.6 1865.9,1275.9 1868.5,1274.1 1871.1,1272.1 1873.7,1270.1 1876.4,1267.9 1879.0,1265.5 1881.6,1263.1 1884.3,1260.6 1886.9,1258.0 1889.5,1255.3 1892.1,1252.5 1894.8,1249.7 1897.4,1246.8 1900.0,1243.8 1902.6,1240.8 1905.3,1237.8 1907.9,1234.7 1910.5,1231.7 1913.1,1228.6 1915.8,1225.6 1918.4,1222.5 1921.0,1219.5 1923.7,1216.5 1926.3,1213.5 1928.9,1210.6 1931.5,1207.8 1934.2,1205.0 1936.8,1202.3 1939.4,1199.7 1942.0,1197.2 1944.7,1194.8 1947.3,1192.4 1949.9,1190.3 1952.6,1188.2 1955.2,1186.2 1957.8,1184.4 1960.4,1182.7 1963.1,1181.2 1965.7,1179.8 1968.3,1178.6 1970.9,1177.5 1973.6,1176.6 1976.2,1175.8 1978.8,1175.2 1981.4,1174.8 1984.1,1174.6 1986.7,1174.5 1989.3,1174.5 1992.0,1174.5 1994.6,1174.5 1997.2,1174.5 1999.8,1174.5 2002.5,1174.5 2005.1,1174.5 2007.7,1174.5 2010.3,1174.5 2013.0,1174.5 2015.6,1174.5 2018.2,1174.5 2020.8,1174.5 2023.5,1174.5 2026.1,1174.5 2028.7,1174.5 2031.4,1174.5 2034.0,1174.5 2036.6,1174.5 2039.2,1174.5 2041.9,1174.5 2044.5,1174.5 2047.1,1174.5 2049.7,1174.5 2052.4,1174.5 2055.0,1174.5 2057.6,1174.5 2060.3,1174.5 2062.9,1174.5 2065.5,1174.5" fill="none" stroke="#8a8af0" stroke-width="3.6" stroke-linejoin="round" opacity="0.35"/>
<polyline points="1422.8,1563.5 1422.6,1541.6 1421.7,1543.4 1421.3,1530.3 1421.9,1519.3 1424.6,1511.3 1427.2,1503.4 1429.8,1495.5 1432.4,1487.8 1435.1,1480.1 1437.7,1472.6 1440.3,1465.1 1443.0,1457.7 1445.6,1450.4 1448.2,1443.3 1450.8,1436.2 1453.5,1429.2 1456.1,1422.3 1458.7,1415.4 1461.3,1408.7 1464.0,1402.1 1466.6,1395.6 1469.2,1389.1 1471.8,1382.8 1474.5,1376.6 1477.1,1370.4 1479.7,1364.4 1482.4,1358.4 1485.0,1352.5 1487.6,1346.8 1490.2,1341.1 1492.9,1335.5 1495.5,1330.0 1498.1,1324.7 1500.7,1319.4 1503.4,1314.2 1506.0,1309.1 1508.6,1304.1 1511.2,1299.2 1513.9,1294.4 1516.5,1289.6 1519.1,1285.0 1521.8,1280.5 1524.4,1276.1 1527.0,1271.8 1529.6,1267.6 1532.3,1263.4 1534.9,1259.4 1537.5,1255.5 1540.1,1251.6 1542.8,1247.9 1545.4,1244.3 1548.0,1240.7 1550.7,1237.3 1553.3,1234.0 1555.9,1230.7 1558.5,1227.6 1561.2,1224.5 1563.8,1221.6 1566.4,1218.8 1569.0,1216.0 1571.7,1213.4 1574.3,1210.9 1576.9,1208.4 1579.5,1206.1 1582.2,1203.9 1584.8,1201.8 1587.4,1199.7 1590.1,1197.8 1592.7,1196.0 1595.3,1194.3 1597.9,1192.7 1600.6,1191.2 1603.2,1189.8 1605.8,1188.5 1608.4,1187.3 1611.1,1186.3 1613.7,1185.3 1616.3,1184.5 1618.9,1183.7 1621.6,1183.1 1624.2,1182.6 1626.8,1182.2 1629.5,1181.9 1632.1,1181.7 1634.7,1181.7 1637.3,1181.8 1640.0,1181.9 1642.6,1182.2 1645.2,1182.5 1647.8,1182.9 1650.5,1183.4 1653.1,1184.0 1655.7,1184.7 1658.3,1185.4 1661.0,1186.2 1663.6,1187.1 1666.2,1188.1 1668.9,1189.2 1671.5,1190.3 1674.1,1191.5 1676.7,1192.8 1679.4,1194.1 1682.0,1195.5 1684.6,1197.0 1687.2,1198.5 1689.9,1200.1 1692.5,1201.7 1695.1,1203.4 1697.8,1205.1 1700.4,1206.9 1703.0,1208.8 1705.6,1210.6 1708.3,1212.5 1710.9,1214.5 1713.5,1216.5 1716.1,1218.5 1718.8,1220.5 1721.4,1222.6 1724.0,1224.6 1726.6,1226.7 1729.3,1228.8 1731.9,1230.9 1734.5,1233.1 1737.2,1235.2 1739.8,1237.3 1742.4,1239.4 1745.0,1241.5 1747.7,1243.6 1750.3,1245.6 1752.9,1247.7 1755.5,1249.7 1758.2,1251.7 1760.8,1253.7 1763.4,1255.6 1766.0,1257.5 1768.7,1259.4 1771.3,1261.2 1773.9,1263.0 1776.6,1264.7 1779.2,1266.4 1781.8,1268.0 1784.4,1269.6 1787.1,1271.1 1789.7,1272.5 1792.3,1273.9 1794.9,1275.2 1797.6,1276.4 1800.2,1277.6 1802.8,1278.7 1805.5,1279.8 1808.1,1280.7 1810.7,1281.6 1813.3,1282.4 1816.0,1283.1 1818.6,1283.7 1821.2,1284.3 1823.8,1284.7 1826.5,1285.1 1829.1,1285.4 1831.7,1285.6 1834.3,1285.8 1837.0,1285.8 1839.6,1285.7 1842.2,1285.5 1844.9,1285.1 1847.5,1284.5 1850.1,1283.7 1852.7,1282.8 1855.4,1281.7 1858.0,1280.5 1860.6,1279.1 1863.2,1277.6 1865.9,1275.9 1868.5,1274.1 1871.1,1272.1 1873.7,1270.1 1876.4,1267.9 1879.0,1265.5 1881.6,1263.1 1884.3,1260.6 1886.9,1258.0 1889.5,1255.3 1892.1,1252.5 1894.8,1249.7 1897.4,1246.8 1900.0,1243.8 1902.6,1240.8 1905.3,1237.8 1907.9,1234.7 1910.5,1231.7 1913.1,1228.6 1915.8,1225.6 1918.4,1222.5 1921.0,1219.5 1923.7,1216.5 1926.3,1213.5 1928.9,1210.6 1931.5,1207.8 1934.2,1205.0 1936.8,1202.3 1939.4,1199.7 1942.0,1197.2 1944.7,1194.8 1947.3,1192.4 1949.9,1190.3 1952.6,1188.2 1955.2,1186.2 1957.8,1184.4 1960.4,1182.7 1963.1,1181.2 1965.7,1179.8 1968.3,1178.6 1970.9,1177.5 1973.6,1176.6 1976.2,1175.8 1978.8,1175.2 1981.4,1174.8 1984.1,1174.6 1986.7,1174.5 1989.3,1174.5 1992.0,1174.5 1994.6,1174.5 1997.2,1174.5 1999.8,1174.5 2002.5,1174.5 2005.1,1174.5 2007.7,1174.5 2010.3,1174.5 2013.0,1174.5 2015.6,1174.5 2018.2,1174.5 2020.8,1174.5 2023.5,1174.5 2026.1,1174.5 2028.7,1174.5 2031.4,1174.5 2034.0,1174.5 2036.6,1174.5 2039.2,1174.5 2041.9,1174.5 2044.5,1174.5 2047.1,1174.5 2049.7,1174.5 2052.4,1174.5 2055.0,1174.5 2057.6,1174.5 2060.3,1174.5 2062.9,1174.5 2065.5,1174.5" fill="none" stroke="#3a36d6" stroke-width="2.1" stroke-linejoin="round" opacity="0.95"/>
<polyline points="1422.8,1563.5 1422.6,1541.6 1421.7,1549.7 1421.3,1536.6 1421.9,1525.7 1424.6,1518.3 1427.2,1511.0 1429.8,1503.7 1432.4,1496.6 1435.1,1489.5 1437.7,1482.5 1440.3,1475.6 1443.0,1468.8 1445.6,1462.0 1448.2,1455.3 1450.8,1448.8 1453.5,1442.2 1456.1,1435.8 1458.7,1429.5 1461.3,1423.2 1464.0,1417.0 1466.6,1410.9 1469.2,1404.9 1471.8,1398.9 1474.5,1393.1 1477.1,1387.3 1479.7,1381.6 1482.4,1375.9 1485.0,1370.4 1487.6,1364.9 1490.2,1359.6 1492.9,1354.3 1495.5,1349.1 1498.1,1343.9 1500.7,1338.9 1503.4,1333.9 1506.0,1329.0 1508.6,1324.2 1511.2,1319.5 1513.9,1314.9 1516.5,1310.4 1519.1,1305.9 1521.8,1301.5 1524.4,1297.2 1527.0,1293.0 1529.6,1288.9 1532.3,1284.8 1534.9,1280.9 1537.5,1277.0 1540.1,1273.2 1542.8,1269.5 1545.4,1265.9 1548.0,1262.4 1550.7,1259.0 1553.3,1255.6 1555.9,1252.3 1558.5,1249.2 1561.2,1246.1 1563.8,1243.1 1566.4,1240.1 1569.0,1237.3 1571.7,1234.6 1574.3,1231.9 1576.9,1229.4 1579.5,1226.9 1582.2,1224.5 1584.8,1222.2 1587.4,1220.0 1590.1,1217.9 1592.7,1215.9 1595.3,1214.0 1597.9,1212.2 1600.6,1210.4 1603.2,1208.8 1605.8,1207.2 1608.4,1205.8 1611.1,1204.4 1613.7,1203.2 1616.3,1202.0 1618.9,1201.0 1621.6,1200.0 1624.2,1199.1 1626.8,1198.4 1629.5,1197.7 1632.1,1197.2 1634.7,1196.8 1637.3,1196.4 1640.0,1196.2 1642.6,1196.2 1645.2,1196.2 1647.8,1196.3 1650.5,1196.4 1653.1,1196.5 1655.7,1196.8 1658.3,1197.0 1661.0,1197.3 1663.6,1197.7 1666.2,1198.1 1668.9,1198.6 1671.5,1199.1 1674.1,1199.6 1676.7,1200.2 1679.4,1200.8 1682.0,1201.5 1684.6,1202.2 1687.2,1203.0 1689.9,1203.8 1692.5,1204.6 1695.1,1205.5 1697.8,1206.4 1700.4,1207.4 1703.0,1208.4 1705.6,1209.4 1708.3,1210.4 1710.9,1211.5 1713.5,1212.6 1716.1,1213.8 1718.8,1214.9 1721.4,1216.1 1724.0,1217.3 1726.6,1218.5 1729.3,1219.8 1731.9,1221.1 1734.5,1222.3 1737.2,1223.6 1739.8,1225.0 1742.4,1226.3 1745.0,1227.6 1747.7,1229.0 1750.3,1230.3 1752.9,1231.7 1755.5,1233.0 1758.2,1234.4 1760.8,1235.7 1763.4,1237.1 1766.0,1238.5 1768.7,1239.8 1771.3,1241.1 1773.9,1242.5 1776.6,1243.8 1779.2,1245.1 1781.8,1246.4 1784.4,1247.7 1787.1,1248.9 1789.7,1250.2 1792.3,1251.4 1794.9,1252.6 1797.6,1253.7 1800.2,1254.9 1802.8,1256.0 1805.5,1257.1 1808.1,1258.1 1810.7,1259.2 1813.3,1260.2 1816.0,1261.1 1818.6,1262.1 1821.2,1262.9 1823.8,1263.8 1826.5,1264.6 1829.1,1265.4 1831.7,1266.1 1834.3,1266.8 1837.0,1267.5 1839.6,1268.1 1842.2,1268.6 1844.9,1269.1 1847.5,1269.6 1850.1,1270.0 1852.7,1270.4 1855.4,1270.7 1858.0,1271.0 1860.6,1271.3 1863.2,1271.4 1865.9,1271.6 1868.5,1271.7 1871.1,1271.7 1873.7,1271.7 1876.4,1271.6 1879.0,1271.5 1881.6,1271.2 1884.3,1270.9 1886.9,1270.6 1889.5,1270.1 1892.1,1269.6 1894.8,1269.1 1897.4,1268.4 1900.0,1267.8 1902.6,1267.0 1905.3,1266.3 1907.9,1265.5 1910.5,1264.6 1913.1,1263.7 1915.8,1262.8 1918.4,1261.9 1921.0,1261.0 1923.7,1260.0 1926.3,1259.1 1928.9,1258.1 1931.5,1257.2 1934.2,1256.3 1936.8,1255.4 1939.4,1254.5 1942.0,1253.6 1944.7,1252.8 1947.3,1252.1 1949.9,1251.3 1952.6,1250.7 1955.2,1250.0 1957.8,1249.5 1960.4,1249.0 1963.1,1248.5 1965.7,1248.2 1968.3,1247.9 1970.9,1247.6 1973.6,1247.5 1976.2,1247.4 1978.8,1247.4 1981.4,1247.4 1984.1,1247.4 1986.7,1247.4 1989.3,1247.4 1992.0,1247.4 1994.6,1247.4 1997.2,1247.4 1999.8,1247.4 2002.5,1247.4 2005.1,1247.4 2007.7,1247.4 2010.3,1247.4 2013.0,1247.4 2015.6,1247.4 2018.2,1247.4 2020.8,1247.4 2023.5,1247.4 2026.1,1247.4 2028.7,1247.4 2031.4,1247.4 2034.0,1247.4 2036.6,1247.4 2039.2,1247.4 2041.9,1247.4 2044.5,1247.4 2047.1,1247.4 2049.7,1247.4 2052.4,1247.4 2055.0,1247.4 2057.6,1247.4 2060.3,1247.4 2062.9,1247.4 2065.5,1247.4" fill="none" stroke="#8a8af0" stroke-width="3.6" stroke-linejoin="round" opacity="0.35"/>
<polyline points="1422.8,1563.5 1422.6,1541.6 1421.7,1549.7 1421.3,1536.6 1421.9,1525.7 1424.6,1518.3 1427.2,1511.0 1429.8,1503.7 1432.4,1496.6 1435.1,1489.5 1437.7,1482.5 1440.3,1475.6 1443.0,1468.8 1445.6,1462.0 1448.2,1455.3 1450.8,1448.8 1453.5,1442.2 1456.1,1435.8 1458.7,1429.5 1461.3,1423.2 1464.0,1417.0 1466.6,1410.9 1469.2,1404.9 1471.8,1398.9 1474.5,1393.1 1477.1,1387.3 1479.7,1381.6 1482.4,1375.9 1485.0,1370.4 1487.6,1364.9 1490.2,1359.6 1492.9,1354.3 1495.5,1349.1 1498.1,1343.9 1500.7,1338.9 1503.4,1333.9 1506.0,1329.0 1508.6,1324.2 1511.2,1319.5 1513.9,1314.9 1516.5,1310.4 1519.1,1305.9 1521.8,1301.5 1524.4,1297.2 1527.0,1293.0 1529.6,1288.9 1532.3,1284.8 1534.9,1280.9 1537.5,1277.0 1540.1,1273.2 1542.8,1269.5 1545.4,1265.9 1548.0,1262.4 1550.7,1259.0 1553.3,1255.6 1555.9,1252.3 1558.5,1249.2 1561.2,1246.1 1563.8,1243.1 1566.4,1240.1 1569.0,1237.3 1571.7,1234.6 1574.3,1231.9 1576.9,1229.4 1579.5,1226.9 1582.2,1224.5 1584.8,1222.2 1587.4,1220.0 1590.1,1217.9 1592.7,1215.9 1595.3,1214.0 1597.9,1212.2 1600.6,1210.4 1603.2,1208.8 1605.8,1207.2 1608.4,1205.8 1611.1,1204.4 1613.7,1203.2 1616.3,1202.0 1618.9,1201.0 1621.6,1200.0 1624.2,1199.1 1626.8,1198.4 1629.5,1197.7 1632.1,1197.2 1634.7,1196.8 1637.3,1196.4 1640.0,1196.2 1642.6,1196.2 1645.2,1196.2 1647.8,1196.3 1650.5,1196.4 1653.1,1196.5 1655.7,1196.8 1658.3,1197.0 1661.0,1197.3 1663.6,1197.7 1666.2,1198.1 1668.9,1198.6 1671.5,1199.1 1674.1,1199.6 1676.7,1200.2 1679.4,1200.8 1682.0,1201.5 1684.6,1202.2 1687.2,1203.0 1689.9,1203.8 1692.5,1204.6 1695.1,1205.5 1697.8,1206.4 1700.4,1207.4 1703.0,1208.4 1705.6,1209.4 1708.3,1210.4 1710.9,1211.5 1713.5,1212.6 1716.1,1213.8 1718.8,1214.9 1721.4,1216.1 1724.0,1217.3 1726.6,1218.5 1729.3,1219.8 1731.9,1221.1 1734.5,1222.3 1737.2,1223.6 1739.8,1225.0 1742.4,1226.3 1745.0,1227.6 1747.7,1229.0 1750.3,1230.3 1752.9,1231.7 1755.5,1233.0 1758.2,1234.4 1760.8,1235.7 1763.4,1237.1 1766.0,1238.5 1768.7,1239.8 1771.3,1241.1 1773.9,1242.5 1776.6,1243.8 1779.2,1245.1 1781.8,1246.4 1784.4,1247.7 1787.1,1248.9 1789.7,1250.2 1792.3,1251.4 1794.9,1252.6 1797.6,1253.7 1800.2,1254.9 1802.8,1256.0 1805.5,1257.1 1808.1,1258.1 1810.7,1259.2 1813.3,1260.2 1816.0,1261.1 1818.6,1262.1 1821.2,1262.9 1823.8,1263.8 1826.5,1264.6 1829.1,1265.4 1831.7,1266.1 1834.3,1266.8 1837.0,1267.5 1839.6,1268.1 1842.2,1268.6 1844.9,1269.1 1847.5,1269.6 1850.1,1270.0 1852.7,1270.4 1855.4,1270.7 1858.0,1271.0 1860.6,1271.3 1863.2,1271.4 1865.9,1271.6 1868.5,1271.7 1871.1,1271.7 1873.7,1271.7 1876.4,1271.6 1879.0,1271.5 1881.6,1271.2 1884.3,1270.9 1886.9,1270.6 1889.5,1270.1 1892.1,1269.6 1894.8,1269.1 1897.4,1268.4 1900.0,1267.8 1902.6,1267.0 1905.3,1266.3 1907.9,1265.5 1910.5,1264.6 1913.1,1263.7 1915.8,1262.8 1918.4,1261.9 1921.0,1261.0 1923.7,1260.0 1926.3,1259.1 1928.9,1258.1 1931.5,1257.2 1934.2,1256.3 1936.8,1255.4 1939.4,1254.5 1942.0,1253.6 1944.7,1252.8 1947.3,1252.1 1949.9,1251.3 1952.6,1250.7 1955.2,1250.0 1957.8,1249.5 1960.4,1249.0 1963.1,1248.5 1965.7,1248.2 1968.3,1247.9 1970.9,1247.6 1973.6,1247.5 1976.2,1247.4 1978.8,1247.4 1981.4,1247.4 1984.1,1247.4 1986.7,1247.4 1989.3,1247.4 1992.0,1247.4 1994.6,1247.4 1997.2,1247.4 1999.8,1247.4 2002.5,1247.4 2005.1,1247.4 2007.7,1247.4 2010.3,1247.4 2013.0,1247.4 2015.6,1247.4 2018.2,1247.4 2020.8,1247.4 2023.5,1247.4 2026.1,1247.4 2028.7,1247.4 2031.4,1247.4 2034.0,1247.4 2036.6,1247.4 2039.2,1247.4 2041.9,1247.4 2044.5,1247.4 2047.1,1247.4 2049.7,1247.4 2052.4,1247.4 2055.0,1247.4 2057.6,1247.4 2060.3,1247.4 2062.9,1247.4 2065.5,1247.4" fill="none" stroke="#3a36d6" stroke-width="2.1" stroke-linejoin="round" opacity="0.95"/>
<polyline points="1422.8,1563.5 1422.6,1541.6 1421.7,1549.2 1421.3,1536.0 1421.9,1525.1 1424.6,1517.5 1427.2,1510.1 1429.8,1502.7 1432.4,1495.4 1435.1,1488.2 1437.7,1481.0 1440.3,1474.0 1443.0,1467.0 1445.6,1460.1 1448.2,1453.3 1450.8,1446.6 1453.5,1439.9 1456.1,1433.4 1458.7,1426.9 1461.3,1420.5 1464.0,1414.2 1466.6,1408.0 1469.2,1401.9 1471.8,1395.8 1474.5,1389.9 1477.1,1384.0 1479.7,1378.2 1482.4,1372.5 1485.0,1366.9 1487.6,1361.4 1490.2,1355.9 1492.9,1350.5 1495.5,1345.3 1498.1,1340.1 1500.7,1335.0 1503.4,1329.9 1506.0,1325.0 1508.6,1320.2 1511.2,1315.4 1513.9,1310.7 1516.5,1306.2 1519.1,1301.7 1521.8,1297.2 1524.4,1292.9 1527.0,1288.7 1529.6,1284.5 1532.3,1280.5 1534.9,1276.5 1537.5,1272.6 1540.1,1268.9 1542.8,1265.2 1545.4,1261.6 1548.0,1258.0 1550.7,1254.6 1553.3,1251.3 1555.9,1248.0 1558.5,1244.9 1561.2,1241.8 1563.8,1238.8 1566.4,1235.9 1569.0,1233.2 1571.7,1230.5 1574.3,1227.9 1576.9,1225.3 1579.5,1222.9 1582.2,1220.6 1584.8,1218.4 1587.4,1216.3 1590.1,1214.2 1592.7,1212.3 1595.3,1210.4 1597.9,1208.7 1600.6,1207.0 1603.2,1205.5 1605.8,1204.1 1608.4,1202.7 1611.1,1201.5 1613.7,1200.3 1616.3,1199.3 1618.9,1198.3 1621.6,1197.5 1624.2,1196.8 1626.8,1196.2 1629.5,1195.7 1632.1,1195.3 1634.7,1195.0 1637.3,1194.9 1640.0,1194.9 1642.6,1194.9 1645.2,1195.1 1647.8,1195.3 1650.5,1195.6 1653.1,1196.0 1655.7,1196.5 1658.3,1197.0 1661.0,1197.6 1663.6,1198.3 1666.2,1199.1 1668.9,1199.9 1671.5,1200.8 1674.1,1201.8 1676.7,1202.8 1679.4,1203.9 1682.0,1205.1 1684.6,1206.3 1687.2,1207.6 1689.9,1208.9 1692.5,1210.3 1695.1,1211.8 1697.8,1213.3 1700.4,1214.8 1703.0,1216.4 1705.6,1218.0 1708.3,1219.7 1710.9,1221.4 1713.5,1223.1 1716.1,1224.9 1718.8,1226.7 1721.4,1228.6 1724.0,1230.4 1726.6,1232.3 1729.3,1234.2 1731.9,1236.1 1734.5,1238.0 1737.2,1239.9 1739.8,1241.8 1742.4,1243.7 1745.0,1245.7 1747.7,1247.6 1750.3,1249.5 1752.9,1251.4 1755.5,1253.3 1758.2,1255.1 1760.8,1257.0 1763.4,1258.8 1766.0,1260.6 1768.7,1262.3 1771.3,1264.1 1773.9,1265.8 1776.6,1267.4 1779.2,1269.0 1781.8,1270.6 1784.4,1272.1 1787.1,1273.6 1789.7,1275.0 1792.3,1276.4 1794.9,1277.7 1797.6,1278.9 1800.2,1280.1 1802.8,1281.3 1805.5,1282.3 1808.1,1283.3 1810.7,1284.3 1813.3,1285.1 1816.0,1285.9 1818.6,1286.6 1821.2,1287.3 1823.8,1287.9 1826.5,1288.4 1829.1,1288.8 1831.7,1289.1 1834.3,1289.4 1837.0,1289.6 1839.6,1289.7 1842.2,1289.8 1844.9,1289.7 1847.5,1289.6 1850.1,1289.4 1852.7,1289.2 1855.4,1288.8 1858.0,1288.4 1860.6,1287.9 1863.2,1287.4 1865.9,1286.8 1868.5,1286.1 1871.1,1285.3 1873.7,1284.5 1876.4,1283.7 1879.0,1282.7 1881.6,1281.8 1884.3,1280.7 1886.9,1279.7 1889.5,1278.6 1892.1,1277.4 1894.8,1276.2 1897.4,1275.0 1900.0,1273.8 1902.6,1272.5 1905.3,1271.2 1907.9,1269.9 1910.5,1268.6 1913.1,1267.3 1915.8,1265.9 1918.4,1264.6 1921.0,1263.3 1923.7,1262.0 1926.3,1260.7 1928.9,1259.4 1931.5,1258.2 1934.2,1257.0 1936.8,1255.8 1939.4,1254.6 1942.0,1253.5 1944.7,1252.5 1947.3,1251.4 1949.9,1250.5 1952.6,1249.5 1955.2,1248.7 1957.8,1247.9 1960.4,1247.1 1963.1,1246.4 1965.7,1245.8 1968.3,1245.3 1970.9,1244.8 1973.6,1244.4 1976.2,1244.0 1978.8,1243.8 1981.4,1243.6 1984.1,1243.5 1986.7,1243.4 1989.3,1243.4 1992.0,1243.4 1994.6,1243.4 1997.2,1243.4 1999.8,1243.4 2002.5,1243.4 2005.1,1243.4 2007.7,1243.4 2010.3,1243.4 2013.0,1243.4 2015.6,1243.4 2018.2,1243.4 2020.8,1243.4 2023.5,1243.4 2026.1,1243.4 2028.7,1243.4 2031.4,1243.4 2034.0,1243.4 2036.6,1243.4 2039.2,1243.4 2041.9,1243.4 2044.5,1243.4 2047.1,1243.4 2049.7,1243.4 2052.4,1243.4 2055.0,1243.4 2057.6,1243.4 2060.3,1243.4 2062.9,1243.4 2065.5,1243.4" fill="none" stroke="#8a8af0" stroke-width="3.6" stroke-linejoin="round" opacity="0.35"/>
<polyline points="1422.8,1563.5 1422.6,1541.6 1421.7,1549.2 1421.3,1536.0 1421.9,1525.1 1424.6,1517.5 1427.2,1510.1 1429.8,1502.7 1432.4,1495.4 1435.1,1488.2 1437.7,1481.0 1440.3,1474.0 1443.0,1467.0 1445.6,1460.1 1448.2,1453.3 1450.8,1446.6 1453.5,1439.9 1456.1,1433.4 1458.7,1426.9 1461.3,1420.5 1464.0,1414.2 1466.6,1408.0 1469.2,1401.9 1471.8,1395.8 1474.5,1389.9 1477.1,1384.0 1479.7,1378.2 1482.4,1372.5 1485.0,1366.9 1487.6,1361.4 1490.2,1355.9 1492.9,1350.5 1495.5,1345.3 1498.1,1340.1 1500.7,1335.0 1503.4,1329.9 1506.0,1325.0 1508.6,1320.2 1511.2,1315.4 1513.9,1310.7 1516.5,1306.2 1519.1,1301.7 1521.8,1297.2 1524.4,1292.9 1527.0,1288.7 1529.6,1284.5 1532.3,1280.5 1534.9,1276.5 1537.5,1272.6 1540.1,1268.9 1542.8,1265.2 1545.4,1261.6 1548.0,1258.0 1550.7,1254.6 1553.3,1251.3 1555.9,1248.0 1558.5,1244.9 1561.2,1241.8 1563.8,1238.8 1566.4,1235.9 1569.0,1233.2 1571.7,1230.5 1574.3,1227.9 1576.9,1225.3 1579.5,1222.9 1582.2,1220.6 1584.8,1218.4 1587.4,1216.3 1590.1,1214.2 1592.7,1212.3 1595.3,1210.4 1597.9,1208.7 1600.6,1207.0 1603.2,1205.5 1605.8,1204.1 1608.4,1202.7 1611.1,1201.5 1613.7,1200.3 1616.3,1199.3 1618.9,1198.3 1621.6,1197.5 1624.2,1196.8 1626.8,1196.2 1629.5,1195.7 1632.1,1195.3 1634.7,1195.0 1637.3,1194.9 1640.0,1194.9 1642.6,1194.9 1645.2,1195.1 1647.8,1195.3 1650.5,1195.6 1653.1,1196.0 1655.7,1196.5 1658.3,1197.0 1661.0,1197.6 1663.6,1198.3 1666.2,1199.1 1668.9,1199.9 1671.5,1200.8 1674.1,1201.8 1676.7,1202.8 1679.4,1203.9 1682.0,1205.1 1684.6,1206.3 1687.2,1207.6 1689.9,1208.9 1692.5,1210.3 1695.1,1211.8 1697.8,1213.3 1700.4,1214.8 1703.0,1216.4 1705.6,1218.0 1708.3,1219.7 1710.9,1221.4 1713.5,1223.1 1716.1,1224.9 1718.8,1226.7 1721.4,1228.6 1724.0,1230.4 1726.6,1232.3 1729.3,1234.2 1731.9,1236.1 1734.5,1238.0 1737.2,1239.9 1739.8,1241.8 1742.4,1243.7 1745.0,1245.7 1747.7,1247.6 1750.3,1249.5 1752.9,1251.4 1755.5,1253.3 1758.2,1255.1 1760.8,1257.0 1763.4,1258.8 1766.0,1260.6 1768.7,1262.3 1771.3,1264.1 1773.9,1265.8 1776.6,1267.4 1779.2,1269.0 1781.8,1270.6 1784.4,1272.1 1787.1,1273.6 1789.7,1275.0 1792.3,1276.4 1794.9,1277.7 1797.6,1278.9 1800.2,1280.1 1802.8,1281.3 1805.5,1282.3 1808.1,1283.3 1810.7,1284.3 1813.3,1285.1 1816.0,1285.9 1818.6,1286.6 1821.2,1287.3 1823.8,1287.9 1826.5,1288.4 1829.1,1288.8 1831.7,1289.1 1834.3,1289.4 1837.0,1289.6 1839.6,1289.7 1842.2,1289.8 1844.9,1289.7 1847.5,1289.6 1850.1,1289.4 1852.7,1289.2 1855.4,1288.8 1858.0,1288.4 1860.6,1287.9 1863.2,1287.4 1865.9,1286.8 1868.5,1286.1 1871.1,1285.3 1873.7,1284.5 1876.4,1283.7 1879.0,1282.7 1881.6,1281.8 1884.3,1280.7 1886.9,1279.7 1889.5,1278.6 1892.1,1277.4 1894.8,1276.2 1897.4,1275.0 1900.0,1273.8 1902.6,1272.5 1905.3,1271.2 1907.9,1269.9 1910.5,1268.6 1913.1,1267.3 1915.8,1265.9 1918.4,1264.6 1921.0,1263.3 1923.7,1262.0 1926.3,1260.7 1928.9,1259.4 1931.5,1258.2 1934.2,1257.0 1936.8,1255.8 1939.4,1254.6 1942.0,1253.5 1944.7,1252.5 1947.3,1251.4 1949.9,1250.5 1952.6,1249.5 1955.2,1248.7 1957.8,1247.9 1960.4,1247.1 1963.1,1246.4 1965.7,1245.8 1968.3,1245.3 1970.9,1244.8 1973.6,1244.4 1976.2,1244.0 1978.8,1243.8 1981.4,1243.6 1984.1,1243.5 1986.7,1243.4 1989.3,1243.4 1992.0,1243.4 1994.6,1243.4 1997.2,1243.4 1999.8,1243.4 2002.5,1243.4 2005.1,1243.4 2007.7,1243.4 2010.3,1243.4 2013.0,1243.4 2015.6,1243.4 2018.2,1243.4 2020.8,1243.4 2023.5,1243.4 2026.1,1243.4 2028.7,1243.4 2031.4,1243.4 2034.0,1243.4 2036.6,1243.4 2039.2,1243.4 2041.9,1243.4 2044.5,1243.4 2047.1,1243.4 2049.7,1243.4 2052.4,1243.4 2055.0,1243.4 2057.6,1243.4 2060.3,1243.4 2062.9,1243.4 2065.5,1243.4" fill="none" stroke="#3a36d6" stroke-width="2.1" stroke-linejoin="round" opacity="0.95"/>
</g>
<line x1="1648.8" y1="1121.0" x2="1648.8" y2="1591.0" stroke="#6a6ade" stroke-width="5.0" stroke-dasharray="16 5.8" stroke-dashoffset="3"/>
<polygon points="1642.6,1590.0 1655.0,1590.0 1648.8,1603.7" fill="#6a6ade" />
<line x1="1351.5" y1="1080.6" x2="2066.2" y2="1080.6" stroke="#000" stroke-width="4.6"/>
<line x1="1352.5" y1="1080.6" x2="1352.5" y2="1605.1" stroke="#000" stroke-width="3.2"/>
<line x1="2065.2" y1="1080.6" x2="2065.2" y2="1605.1" stroke="#000" stroke-width="4.2"/>
<line x1="1351.5" y1="1605.1" x2="2066.2" y2="1605.1" stroke="#1c1c1c" stroke-width="2.8"/>
<line x1="1352.5" y1="1605.1" x2="1352.5" y2="1617.6" stroke="#1c1c1c" stroke-width="3.0"/>
<line x1="1423.8" y1="1605.1" x2="1423.8" y2="1610.6" stroke="#1c1c1c" stroke-width="2.8"/>
<line x1="1495.0" y1="1605.1" x2="1495.0" y2="1617.6" stroke="#1c1c1c" stroke-width="3.0"/>
<line x1="1566.3" y1="1605.1" x2="1566.3" y2="1610.6" stroke="#1c1c1c" stroke-width="2.8"/>
<line x1="1637.6" y1="1605.1" x2="1637.6" y2="1617.6" stroke="#1c1c1c" stroke-width="3.0"/>
<line x1="1708.8" y1="1605.1" x2="1708.8" y2="1610.6" stroke="#1c1c1c" stroke-width="2.8"/>
<line x1="1780.1" y1="1605.1" x2="1780.1" y2="1617.6" stroke="#1c1c1c" stroke-width="3.0"/>
<line x1="1851.4" y1="1605.1" x2="1851.4" y2="1610.6" stroke="#1c1c1c" stroke-width="2.8"/>
<line x1="1922.7" y1="1605.1" x2="1922.7" y2="1617.6" stroke="#1c1c1c" stroke-width="3.0"/>
<line x1="1993.9" y1="1605.1" x2="1993.9" y2="1610.6" stroke="#1c1c1c" stroke-width="2.8"/>
<line x1="2065.2" y1="1605.1" x2="2065.2" y2="1617.6" stroke="#1c1c1c" stroke-width="3.0"/>
<text x="1340.3" y="1655.4" font-size="36.5" fill="#222" textLength="25.0" lengthAdjust="spacingAndGlyphs">0</text>
<text x="1463.3" y="1655.4" font-size="36.5" fill="#222" textLength="66.5" lengthAdjust="spacingAndGlyphs">100</text>
<text x="1605.8" y="1655.4" font-size="36.5" fill="#222" textLength="66.5" lengthAdjust="spacingAndGlyphs">200</text>
<text x="1748.4" y="1655.4" font-size="36.5" fill="#222" textLength="66.5" lengthAdjust="spacingAndGlyphs">300</text>
<text x="1890.9" y="1655.4" font-size="36.5" fill="#222" textLength="66.5" lengthAdjust="spacingAndGlyphs">400</text>
<text x="2033.4" y="1655.4" font-size="36.5" fill="#222" textLength="66.5" lengthAdjust="spacingAndGlyphs">500</text>
<text x="1666" y="1563.5" font-size="33" font-weight="bold" fill="#111">T<tspan font-size="24" dy="11">m</tspan></text>
<text x="1552.5" y="1707.2" font-size="36.3" fill="#2a2a2a" textLength="311.0" lengthAdjust="spacingAndGlyphs">Temperature (°C)</text>
<text transform="translate(1288.5,1364.5) rotate(-90)" font-size="40.5" text-anchor="middle" fill="#111" textLength="254.5" lengthAdjust="spacingAndGlyphs">Deflection (V)</text>
<text x="1160.7" y="1065.5" font-size="64.0" textLength="54.5" lengthAdjust="spacingAndGlyphs">d)</text>
<rect x="201.2" y="1900.3" width="711.8" height="520.7" fill="none" stroke="#000" stroke-width="5.4"/>
<line x1="189.2" y1="1900.3" x2="201.2" y2="1900.3" stroke="#000" stroke-width="4.6"/>
<text x="112.9" y="1913.6" font-size="36.5" fill="#1a1a1a" textLength="67.0" lengthAdjust="spacingAndGlyphs">470</text>
<line x1="193.7" y1="1965.4" x2="201.2" y2="1965.4" stroke="#000" stroke-width="3"/>
<line x1="189.2" y1="2030.5" x2="201.2" y2="2030.5" stroke="#000" stroke-width="4.6"/>
<text x="112.9" y="2043.8" font-size="36.5" fill="#1a1a1a" textLength="67.0" lengthAdjust="spacingAndGlyphs">460</text>
<line x1="193.7" y1="2095.6" x2="201.2" y2="2095.6" stroke="#000" stroke-width="3"/>
<line x1="189.2" y1="2160.7" x2="201.2" y2="2160.7" stroke="#000" stroke-width="4.6"/>
<text x="112.9" y="2174.0" font-size="36.5" fill="#1a1a1a" textLength="67.0" lengthAdjust="spacingAndGlyphs">450</text>
<line x1="193.7" y1="2225.7" x2="201.2" y2="2225.7" stroke="#000" stroke-width="3"/>
<line x1="189.2" y1="2290.8" x2="201.2" y2="2290.8" stroke="#000" stroke-width="4.6"/>
<text x="112.9" y="2304.1" font-size="36.5" fill="#1a1a1a" textLength="67.0" lengthAdjust="spacingAndGlyphs">440</text>
<line x1="193.7" y1="2355.9" x2="201.2" y2="2355.9" stroke="#000" stroke-width="3"/>
<line x1="189.2" y1="2421.0" x2="201.2" y2="2421.0" stroke="#000" stroke-width="4.6"/>
<text x="112.9" y="2434.3" font-size="36.5" fill="#1a1a1a" textLength="67.0" lengthAdjust="spacingAndGlyphs">430</text>
<line x1="201.2" y1="2421.0" x2="201.2" y2="2434.5" stroke="#000" stroke-width="4.4"/>
<line x1="272.4" y1="2421.0" x2="272.4" y2="2430.0" stroke="#000" stroke-width="3.4"/>
<line x1="343.6" y1="2421.0" x2="343.6" y2="2434.5" stroke="#000" stroke-width="4.4"/>
<line x1="414.7" y1="2421.0" x2="414.7" y2="2430.0" stroke="#000" stroke-width="3.4"/>
<line x1="485.9" y1="2421.0" x2="485.9" y2="2434.5" stroke="#000" stroke-width="4.4"/>
<line x1="557.1" y1="2421.0" x2="557.1" y2="2430.0" stroke="#000" stroke-width="3.4"/>
<line x1="628.3" y1="2421.0" x2="628.3" y2="2434.5" stroke="#000" stroke-width="4.4"/>
<line x1="699.5" y1="2421.0" x2="699.5" y2="2430.0" stroke="#000" stroke-width="3.4"/>
<line x1="770.6" y1="2421.0" x2="770.6" y2="2434.5" stroke="#000" stroke-width="4.4"/>
<line x1="841.8" y1="2421.0" x2="841.8" y2="2430.0" stroke="#000" stroke-width="3.4"/>
<line x1="913.0" y1="2421.0" x2="913.0" y2="2434.5" stroke="#000" stroke-width="4.4"/>
<text x="186.9" y="2472.3" font-size="36.5" fill="#1a1a1a" textLength="25.0" lengthAdjust="spacingAndGlyphs">0</text>
<text x="321.6" y="2472.3" font-size="36.5" fill="#1a1a1a" textLength="45.5" lengthAdjust="spacingAndGlyphs">20</text>
<text x="464.0" y="2472.3" font-size="36.5" fill="#1a1a1a" textLength="45.5" lengthAdjust="spacingAndGlyphs">40</text>
<text x="606.3" y="2472.3" font-size="36.5" fill="#1a1a1a" textLength="45.5" lengthAdjust="spacingAndGlyphs">60</text>
<text x="748.7" y="2472.3" font-size="36.5" fill="#1a1a1a" textLength="45.5" lengthAdjust="spacingAndGlyphs">80</text>
<text x="880.5" y="2472.3" font-size="36.5" fill="#1a1a1a" textLength="66.5" lengthAdjust="spacingAndGlyphs">100</text>
<clipPath id="clipe"><rect x="201.2" y="1900.3" width="711.8" height="520.7"/></clipPath>
<polyline points="753.9,2166.9 757.9,2166.9 762.0,2166.9 766.0,2166.9 770.0,2166.9 774.1,2166.9 778.1,2166.9 782.2,2166.8 786.2,2166.8 790.3,2166.8 794.3,2166.8 798.4,2166.8 802.4,2166.8 806.5,2166.8 810.5,2166.8 814.5,2166.8 818.6,2166.7 822.6,2166.7 826.7,2166.7 830.7,2166.7 834.8,2166.7 838.8,2166.7 842.9,2166.7 846.9,2166.7 851.0,2166.7 855.0,2166.6 859.0,2166.6 863.1,2166.6 867.1,2166.6 871.2,2166.6 875.2,2166.6 879.3,2166.6 883.3,2166.6 887.4,2166.6 891.4,2166.6 895.4,2166.6 899.5,2166.6 903.5,2166.6 907.6,2166.6 911.6,2166.5 913.0,2166.5" fill="none" stroke="#4a1414" stroke-width="1.7" stroke-linejoin="round" clip-path="url(#clipe)"/>
<line x1="201.2" y1="2165.6" x2="913.0" y2="2165.6" stroke="#e0707c" stroke-width="3.1" stroke-dasharray="16.5 9.5"/>
<polyline points="203.7,2420.8 204.4,2403.3 205.1,2389.6 205.7,2376.4 206.4,2363.3 207.1,2349.4 207.8,2332.5 208.4,2315.6 209.1,2303.6 209.8,2295.0 210.5,2288.5 211.1,2283.1 211.8,2277.9 212.5,2272.4 213.2,2267.1 213.8,2262.1 214.5,2257.6 215.2,2253.5 215.9,2249.8 216.5,2246.5 217.2,2243.4 217.9,2240.7 218.6,2238.1 219.2,2235.8 219.9,2233.5 220.6,2231.4 221.2,2229.3 221.9,2227.5 222.6,2225.8 223.3,2224.3 223.9,2222.8 224.6,2221.5 225.3,2220.2 226.0,2219.0 226.6,2217.8 227.3,2216.7 228.0,2215.6 228.7,2214.6 229.3,2213.6 230.0,2212.7 230.7,2211.8 231.4,2211.0 232.0,2210.2 232.7,2209.4 233.4,2208.6 234.1,2207.9 234.7,2207.2 235.4,2206.4 236.1,2205.7 236.8,2205.1 237.4,2204.4 238.1,2203.8 238.8,2203.2 239.5,2202.7 240.1,2202.1 240.8,2201.6 241.5,2201.1 242.1,2200.6 242.8,2200.1 243.5,2199.6 244.2,2199.2 244.8,2198.7 245.5,2198.3 246.2,2197.9 246.9,2197.4 247.5,2197.0 248.2,2196.6 248.9,2196.2 249.6,2195.8 250.2,2195.4 250.9,2194.9 251.6,2194.6 252.3,2194.2 252.9,2193.8 253.6,2193.4 254.3,2193.0 255.0,2192.7 255.6,2192.3 256.3,2192.0 260.4,2190.0 264.4,2188.2 268.4,2186.7 272.5,2185.3 276.5,2184.0 280.6,2182.9 284.6,2182.0 288.7,2181.0 292.7,2180.2 296.8,2179.4 300.8,2178.7 304.8,2178.1 308.9,2177.5 312.9,2177.0 317.0,2176.5 321.0,2176.0 325.1,2175.6 329.1,2175.1 333.2,2174.8 337.2,2174.4 341.3,2174.1 345.3,2173.8 349.3,2173.5 353.4,2173.3 357.4,2173.0 361.5,2172.8 365.5,2172.6 369.6,2172.3 373.6,2172.1 377.7,2171.9 381.7,2171.7 385.8,2171.5 389.8,2171.4 393.8,2171.2 397.9,2171.0 401.9,2170.9 406.0,2170.7 410.0,2170.5 414.1,2170.4 418.1,2170.2 422.2,2170.1 426.2,2170.0 430.3,2169.8 434.3,2169.7 438.3,2169.6 442.4,2169.5 446.4,2169.4 450.5,2169.2 454.5,2169.1 458.6,2169.0 462.6,2169.0 466.7,2168.9 470.7,2168.8 474.7,2168.7 478.8,2168.6 482.8,2168.5 486.9,2168.4 490.9,2168.4 495.0,2168.3 499.0,2168.2 503.1,2168.1 507.1,2168.1 511.2,2168.0 515.2,2167.9 519.2,2167.9 523.3,2167.8 527.3,2167.7 531.4,2167.7 535.4,2167.6 539.5,2167.6 543.5,2167.5 547.6,2167.5 551.6,2167.4 555.7,2167.4 559.7,2167.3 563.7,2167.3 567.8,2167.2 571.8,2167.2 575.9,2167.2 579.9,2167.1 584.0,2167.1 588.0,2167.0 592.1,2167.0 596.1,2167.0 600.1,2166.9 604.2,2166.9 608.2,2166.9 612.3,2166.8 616.3,2166.8 620.4,2166.8 624.4,2166.7 628.5,2166.7 632.5,2166.7 636.6,2166.7 640.6,2166.6 644.6,2166.6 648.7,2166.6 652.7,2166.6 656.8,2166.5 660.8,2166.5 664.9,2166.5 668.9,2166.5 673.0,2166.4 677.0,2166.4 681.1,2166.4 685.1,2166.4 689.1,2166.3 693.2,2166.3 697.2,2166.3 701.3,2166.3 705.3,2166.3 709.4,2166.2 713.4,2166.2 717.5,2166.2 721.5,2166.2 725.6,2166.2 729.6,2166.1 733.6,2166.1 737.7,2166.1 741.7,2166.1 745.8,2166.1 749.8,2166.1 753.9,2166.0 757.9,2166.0 762.0,2166.0" fill="none" stroke="#0a0a0a" stroke-width="4.0" stroke-linejoin="round" clip-path="url(#clipe)"/>
<line x1="338.6" y1="1856.2" x2="407.7" y2="1856.2" stroke="#000" stroke-width="2.2"/>
<text x="425.0" y="1870.2" font-size="37.0" font-weight="bold" fill="#0a0a0a" textLength="332.0" lengthAdjust="spacingAndGlyphs">Predicted Melting</text>
<text x="384.3" y="2124.0" font-size="36.0" fill="#1a1a1a">T</text>
<text x="403.3" y="2134.7" font-size="23.0" fill="#1a1a1a" textLength="22.5" lengthAdjust="spacingAndGlyphs">m</text>
<text x="437.5" y="2124.0" font-size="36.0" fill="#1a1a1a" textLength="323.5" lengthAdjust="spacingAndGlyphs">~ 449 °C at 50 nm</text>
<text x="421.2" y="2523.8" font-size="36.0" fill="#222" textLength="267.0" lengthAdjust="spacingAndGlyphs">Thickness (nm)</text>
<text transform="translate(74.0,2164.0) rotate(-90)" font-size="38.0" text-anchor="middle" fill="#222" textLength="310.0" lengthAdjust="spacingAndGlyphs">Temperature (°C)</text>
<text x="52.3" y="1871.0" font-size="64.0" textLength="55.6" lengthAdjust="spacingAndGlyphs">e)</text>
<rect x="1353.8" y="1900.3" width="712.7" height="521.5" fill="none" stroke="#000" stroke-width="5.4"/>
<line x1="1341.8" y1="1900.3" x2="1353.8" y2="1900.3" stroke="#000" stroke-width="4.6"/>
<text x="1265.5" y="1913.6" font-size="36.5" fill="#1a1a1a" textLength="67.0" lengthAdjust="spacingAndGlyphs">170</text>
<line x1="1346.3" y1="1965.5" x2="1353.8" y2="1965.5" stroke="#000" stroke-width="3"/>
<line x1="1341.8" y1="2030.7" x2="1353.8" y2="2030.7" stroke="#000" stroke-width="4.6"/>
<text x="1265.5" y="2044.0" font-size="36.5" fill="#1a1a1a" textLength="67.0" lengthAdjust="spacingAndGlyphs">160</text>
<line x1="1346.3" y1="2095.9" x2="1353.8" y2="2095.9" stroke="#000" stroke-width="3"/>
<line x1="1341.8" y1="2161.1" x2="1353.8" y2="2161.1" stroke="#000" stroke-width="4.6"/>
<text x="1265.5" y="2174.4" font-size="36.5" fill="#1a1a1a" textLength="67.0" lengthAdjust="spacingAndGlyphs">150</text>
<line x1="1346.3" y1="2226.2" x2="1353.8" y2="2226.2" stroke="#000" stroke-width="3"/>
<line x1="1341.8" y1="2291.4" x2="1353.8" y2="2291.4" stroke="#000" stroke-width="4.6"/>
<text x="1265.5" y="2304.7" font-size="36.5" fill="#1a1a1a" textLength="67.0" lengthAdjust="spacingAndGlyphs">140</text>
<line x1="1346.3" y1="2356.6" x2="1353.8" y2="2356.6" stroke="#000" stroke-width="3"/>
<line x1="1341.8" y1="2421.8" x2="1353.8" y2="2421.8" stroke="#000" stroke-width="4.6"/>
<text x="1265.5" y="2435.1" font-size="36.5" fill="#1a1a1a" textLength="67.0" lengthAdjust="spacingAndGlyphs">130</text>
<line x1="1353.8" y1="2421.8" x2="1353.8" y2="2435.3" stroke="#000" stroke-width="4.4"/>
<line x1="1425.1" y1="2421.8" x2="1425.1" y2="2430.8" stroke="#000" stroke-width="3.4"/>
<line x1="1496.3" y1="2421.8" x2="1496.3" y2="2435.3" stroke="#000" stroke-width="4.4"/>
<line x1="1567.6" y1="2421.8" x2="1567.6" y2="2430.8" stroke="#000" stroke-width="3.4"/>
<line x1="1638.9" y1="2421.8" x2="1638.9" y2="2435.3" stroke="#000" stroke-width="4.4"/>
<line x1="1710.2" y1="2421.8" x2="1710.2" y2="2430.8" stroke="#000" stroke-width="3.4"/>
<line x1="1781.4" y1="2421.8" x2="1781.4" y2="2435.3" stroke="#000" stroke-width="4.4"/>
<line x1="1852.7" y1="2421.8" x2="1852.7" y2="2430.8" stroke="#000" stroke-width="3.4"/>
<line x1="1924.0" y1="2421.8" x2="1924.0" y2="2435.3" stroke="#000" stroke-width="4.4"/>
<line x1="1995.2" y1="2421.8" x2="1995.2" y2="2430.8" stroke="#000" stroke-width="3.4"/>
<line x1="2066.5" y1="2421.8" x2="2066.5" y2="2435.3" stroke="#000" stroke-width="4.4"/>
<text x="1339.5" y="2473.1" font-size="36.5" fill="#1a1a1a" textLength="25.0" lengthAdjust="spacingAndGlyphs">0</text>
<text x="1474.4" y="2473.1" font-size="36.5" fill="#1a1a1a" textLength="45.5" lengthAdjust="spacingAndGlyphs">20</text>
<text x="1616.9" y="2473.1" font-size="36.5" fill="#1a1a1a" textLength="45.5" lengthAdjust="spacingAndGlyphs">40</text>
<text x="1759.5" y="2473.1" font-size="36.5" fill="#1a1a1a" textLength="45.5" lengthAdjust="spacingAndGlyphs">60</text>
<text x="1902.0" y="2473.1" font-size="36.5" fill="#1a1a1a" textLength="45.5" lengthAdjust="spacingAndGlyphs">80</text>
<text x="2034.0" y="2473.1" font-size="36.5" fill="#1a1a1a" textLength="66.5" lengthAdjust="spacingAndGlyphs">100</text>
<clipPath id="clipf"><rect x="1353.8" y="1900.3" width="712.7" height="521.5000000000002"/></clipPath>
<polyline points="1817.3,2153.0 1822.4,2152.9 1827.5,2152.9 1832.5,2152.9 1837.6,2152.9 1842.6,2152.9 1847.7,2152.9 1852.7,2152.9 1857.8,2152.9 1862.9,2152.9 1867.9,2152.9 1873.0,2152.9 1878.0,2152.9 1883.1,2152.9 1888.1,2152.9 1893.2,2152.9 1898.2,2152.9 1903.3,2152.8 1908.4,2152.8 1913.4,2152.8 1918.5,2152.8 1923.5,2152.8 1928.6,2152.8 1933.6,2152.8 1938.7,2152.8 1943.8,2152.8 1948.8,2152.8 1953.9,2152.8 1958.9,2152.8 1964.0,2152.8 1969.0,2152.8 1974.1,2152.8 1979.2,2152.8 1984.2,2152.8 1989.3,2152.8 1994.3,2152.8 1999.4,2152.7 2004.4,2152.7 2009.5,2152.7 2014.5,2152.7 2019.6,2152.7 2024.7,2152.7 2029.7,2152.7 2034.8,2152.7 2039.8,2152.7 2044.9,2152.7 2049.9,2152.7 2055.0,2152.7 2060.1,2152.7 2065.1,2152.7 2069.8,2152.7" fill="none" stroke="#6e6e6e" stroke-width="2.0" stroke-linejoin="round" clip-path="url(#clipf)"/>
<polyline points="1716.2,2153.1 1721.3,2153.1 1726.3,2153.1 1731.4,2153.1 1736.4,2153.1 1741.5,2153.1 1746.6,2153.1 1751.6,2153.1 1756.7,2153.1 1761.7,2153.0 1766.8,2153.0 1771.8,2153.0 1776.9,2153.0 1781.9,2153.0 1787.0,2153.0 1792.1,2153.0 1797.1,2153.0 1802.2,2153.0 1807.2,2153.0 1812.3,2153.0 1817.3,2153.0 1822.4,2152.9 1827.5,2152.9" fill="none" stroke="#3a3a3a" stroke-width="2.8" stroke-linejoin="round" clip-path="url(#clipf)"/>
<line x1="1353.8" y1="2152.4" x2="2066.5" y2="2152.4" stroke="#e2808e" stroke-width="3.2" stroke-dasharray="15.5 10"/>
<polyline points="1381.8,2421.8 1382.5,2383.1 1383.2,2364.6 1383.8,2354.5 1384.5,2343.7 1385.2,2333.4 1385.9,2324.2 1386.5,2315.7 1387.2,2307.9 1387.9,2300.9 1388.6,2294.6 1389.2,2288.7 1389.9,2283.3 1390.6,2278.4 1391.3,2273.8 1391.9,2269.4 1392.6,2265.1 1393.3,2260.7 1393.9,2256.5 1394.6,2252.4 1395.3,2248.5 1396.0,2244.9 1396.6,2241.5 1397.3,2238.2 1398.0,2235.2 1398.7,2232.2 1399.3,2229.4 1400.0,2226.8 1400.7,2224.2 1401.4,2221.7 1402.0,2219.3 1402.7,2217.0 1403.4,2214.8 1404.1,2212.7 1404.7,2210.7 1405.4,2208.7 1406.1,2206.9 1406.8,2205.2 1407.4,2203.5 1408.1,2202.0 1408.8,2200.5 1409.5,2199.2 1410.1,2197.9 1410.8,2196.7 1411.5,2195.6 1412.2,2194.6 1412.8,2193.6 1413.5,2192.7 1414.2,2191.8 1414.8,2190.9 1415.5,2190.1 1416.2,2189.2 1416.9,2188.4 1417.5,2187.6 1418.2,2186.9 1418.9,2186.2 1419.6,2185.5 1420.2,2184.8 1420.9,2184.2 1421.6,2183.6 1422.3,2183.0 1422.9,2182.5 1423.6,2181.9 1424.3,2181.4 1425.0,2180.9 1425.6,2180.4 1426.3,2179.9 1427.0,2179.4 1427.7,2178.9 1428.3,2178.4 1429.0,2177.9 1429.7,2177.4 1430.4,2177.0 1431.0,2176.5 1431.7,2176.0 1432.4,2175.6 1433.1,2175.1 1433.7,2174.7 1434.4,2174.3 1435.1,2173.9 1435.7,2173.5 1436.4,2173.1 1437.1,2172.7 1437.8,2172.3 1438.4,2171.9 1439.1,2171.6 1439.8,2171.2 1440.5,2170.9 1441.1,2170.5 1441.8,2170.2 1442.5,2169.8 1443.2,2169.5 1443.8,2169.2 1444.5,2168.9 1445.2,2168.6 1445.9,2168.3 1446.5,2168.0 1447.2,2167.7 1447.9,2167.4 1448.6,2167.2 1449.2,2166.9 1449.9,2166.7 1450.6,2166.4 1451.3,2166.2 1451.9,2166.0 1452.6,2165.8 1453.3,2165.6 1454.0,2165.4 1454.6,2165.2 1455.3,2165.0 1456.0,2164.8 1456.6,2164.6 1457.3,2164.5 1458.0,2164.3 1458.7,2164.1 1459.3,2163.9 1460.0,2163.8 1460.7,2163.6 1461.4,2163.4 1462.0,2163.3 1462.7,2163.1 1463.4,2162.9 1468.4,2161.8 1473.5,2160.7 1478.6,2159.8 1483.6,2159.1 1488.7,2158.4 1493.7,2157.9 1498.8,2157.4 1503.8,2156.9 1508.9,2156.5 1514.0,2156.2 1519.0,2155.8 1524.1,2155.5 1529.1,2155.3 1534.2,2155.0 1539.2,2154.8 1544.3,2154.7 1549.4,2154.5 1554.4,2154.4 1559.5,2154.3 1564.5,2154.2 1569.6,2154.1 1574.6,2153.9 1579.7,2153.8 1584.7,2153.7 1589.8,2153.6 1594.9,2153.5 1599.9,2153.5 1605.0,2153.4 1610.0,2153.4 1615.1,2153.3 1620.1,2153.3 1625.2,2153.3 1630.3,2153.3 1635.3,2153.2 1640.4,2153.2 1645.4,2153.2 1650.5,2153.2 1655.5,2153.2 1660.6,2153.2 1665.7,2153.2 1670.7,2153.2 1675.8,2153.2 1680.8,2153.2 1685.9,2153.2 1690.9,2153.2 1696.0,2153.2 1701.0,2153.2 1706.1,2153.2 1711.2,2153.1 1716.2,2153.1" fill="none" stroke="#0a0a0a" stroke-width="4.0" stroke-linejoin="round" clip-path="url(#clipf)"/>
<line x1="1382.5" y1="1856.2" x2="1451.6" y2="1856.2" stroke="#000" stroke-width="2.2"/>
<text x="1470.3" y="1870.2" font-size="37.0" font-weight="bold" fill="#0a0a0a" textLength="550.0" lengthAdjust="spacingAndGlyphs">Predicted Surface Pre-melting</text>
<text x="1552.7" y="2045.0" font-size="36.0" fill="#1a1a1a">T</text>
<text x="1570.6" y="2056.0" font-size="23.0" fill="#1a1a1a" textLength="35.5" lengthAdjust="spacingAndGlyphs">sm</text>
<text x="1616.0" y="2045.0" font-size="36.0" fill="#1a1a1a" textLength="23.0" lengthAdjust="spacingAndGlyphs">~</text>
<text x="1648.5" y="2045.0" font-size="36.0" font-weight="bold" fill="#0a0a0a" textLength="68.0" lengthAdjust="spacingAndGlyphs">151</text>
<text x="1725.5" y="2045.0" font-size="36.0" fill="#1a1a1a" textLength="213.5" lengthAdjust="spacingAndGlyphs">°C at 50 nm</text>
<text x="1574.2" y="2523.8" font-size="36.0" fill="#222" textLength="267.0" lengthAdjust="spacingAndGlyphs">Thickness (nm)</text>
<text transform="translate(1229.0,2164.0) rotate(-90)" font-size="38.0" text-anchor="middle" fill="#222" textLength="310.0" lengthAdjust="spacingAndGlyphs">Temperature (°C)</text>
<text x="1168.9" y="1871.5" font-size="64.0" textLength="44.5" lengthAdjust="spacingAndGlyphs">f)</text>
</g>
</svg>
</body></html>
